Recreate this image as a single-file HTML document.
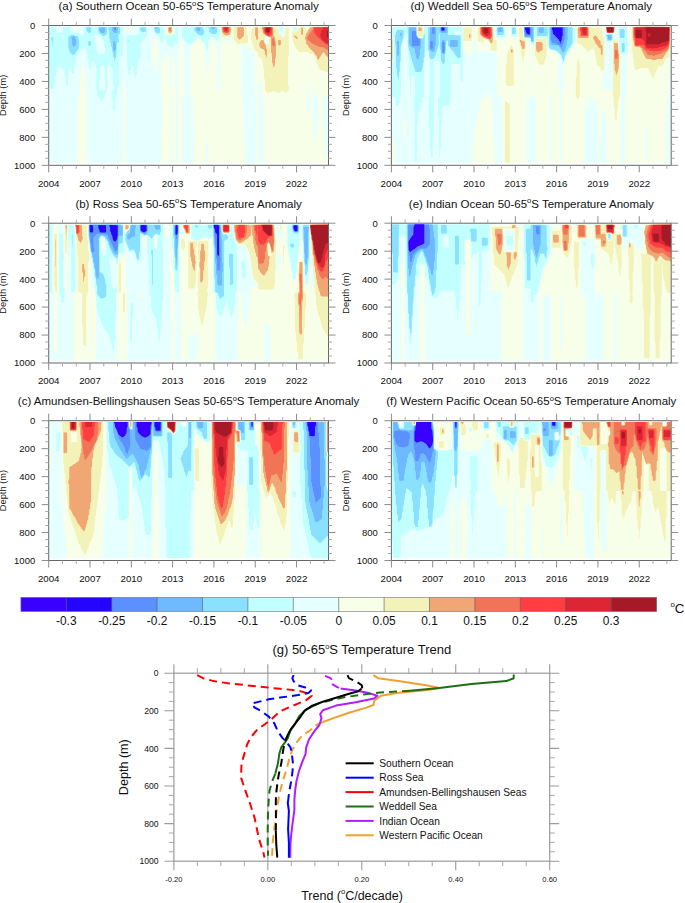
<!DOCTYPE html><html><head><meta charset="utf-8"><style>html,body{margin:0;padding:0;background:#fff;}svg{display:block;}text{font-family:"Liberation Sans", sans-serif;fill:#111;}</style></head><body>
<svg width="685" height="903" viewBox="0 0 685 903">
<rect width="685" height="903" fill="#fff"/>
<g transform="translate(48.70 25.50)">
<clipPath id="cpa"><rect x="0" y="1.3" width="279.80" height="136.2"/></clipPath>
<g clip-path="url(#cpa)">
<rect x="0" y="0" width="279.80" height="139.80" fill="#E6FFFF"/>
<path fill="#C2FFFF" d="M1 0.6l20-0.1l4 0.5l-3 0.5l-0.4 0.5l0 2l1.8 2l0.2 1l0.4 0.4l4 0.1l1-0.1l1-0.8l0.6 1.4l2.4 2.3l2.4-2.3l0-6l-0.4-0.5l-8-0.5l11-0.6l29-0.2l3 0.1l1.9 1.1l2 0.2l0.5 1.4l0 26l-0.5 1.3l-3 0.3l-0.3 0.4l-0.2 26.9l0 1l-0.9 1l-0.1 2l-0.9 1l-0.1 5l-0.7 1l-0.1 2l-0.9 1l-0.2 1l-0.1 12l-1.4 1.2l-0.5-1.2l-0.1-9l-0.9-1l-0.1-7l-0.9-1l0-1l0.1-1l2.4-0.6l0.5-1.4l-0.1-2l-0.9-1l0-1l-0.1-14l-0.9-1l-0.1-2l-2.4-2.4l-1 0.1l-0.6 2.3l-0.8 1l-0.2 19l-0.4 2.3l-1.4-2.3l-0.1-1l-0.1-18l-0.8-1l-0.3-2l-1.3-0.4l-2.4 2.4l-0.1 2l0 10l-1 3l0.1 7l1.4 0.5l5 0l0.4 0.5l0 1l-0.8 1l-0.2 2l-0.8 1l-0.2 2l-1.9 3l-0.5 2.2l-1.4-2.2l-0.2-2l-1.4-1.5l-1.4-0.5l-0.2-7l-0.8-1l-0.1-1l0-19l-0.1-1l-0.8-1l-0.2-3l-1.4-2.3l-1.4 0.3l-1 2l-0.2 4l-1.2 2l-0.5 0l-0.3-4l-0.8-1l-0.2-5.9l-0.8-1l-0.2-4l-0.8-1l-0.2-3l-2.4-2.3l-5 4.8l-1.4 2.5l-0.2 2l-0.8 1l-0.2 3l-0.8 0.9l-0.2 3l-0.8 1l-0.2 7l-1.4 1.3l-0.3-0.3l-1.1-2l-0.2-4l-1.4-1.2l-0.3 0.2l-0.3 3l-0.8 1l-0.1 1l-0.1 14l-0.4 0.4l-1.4-0.4l-0.2-7l-0.8-1l-0.2-3l-0.8-1l-0.2-3l-1-2l-2.4-1.4l-2 0l-1.4 1.4l-0.2 3l-0.8 1l-0.2 3l-0.8 1l-0.2 7l-0.8 1l-0.2 3l-1.4 2.3l-1-0.8l-1.4-1.5l-0.2-2l-0.8-1l-0.1-1l0.1-56.9zM7.6 2l0 3l1.4 2.4l4 0l0.6-1.4l0.8-1l0.1-1l-0.5-2.5l-6 0zM13.6 10l0 4l0.4 0.4l1.4-0.4l0-4l-1.4-0.4zM46.6 10l0 7l0.8 1l0.2 6l0.8 1l0.2 2l1.4 1.4l3 0.2l1 0.6l1.4-1.2l1-2l0.1-2l-0.1-2l-0.8-1l-0.2-6l-1.8-2l-1.6-2.8l-2-0.6l-3 0zM106.9 0.7l7 0.9l1.4 2.4l0 9l-0.8 1l-0.3 4l-0.5 0l-2.2-4l-0.2-2l-1-2l-2.4-0.6l-2.4-2.4l-1-5l1.7-1zM139.9 0.6l26-0.3l5 0.2l0.7 0.5l0.1 7l-1.2 3l-0.2 2l-1 2l-1.4 0.4l-1-1.9l-1.5-0.5l-1.5-1.4l-2 0l-1.4 1.4l-1 2l-0.1 8l-0.5 2.2l-1-0.8l-0.4-0.4l-0.2-4l-1-2l-5.4-5.5l-2-0.8l-0.7 1.3l-4.3 4.3l-2 1.1l-2 0l-4-2.9l-2.4-4.5l0-9l0.4-0.4l5-0.2l0.5-0.4zM90.9 1.5l1-0.4l5 0l1.5 0.9l-0.1 9l-3.8 3l-3 6l0 3l0.8 1l0.1 1l-0.1 6l-2.8 4.9l-0.2 5l-0.8 1l-0.2 6l-0.8 1l-0.3 5l-0.5 0l-0.2-4l-1-1l-0.1-5l-0.1-2l-1.1-2l-0.3-0.2l-1 0.8l-0.4 0.4l-0.2 3l-0.8 1l-0.3 5l-0.3 0.3l-1.4-1.3l-0.2-7l-0.8-1l-0.1-1l0-18.9l-1-3l0.1-7l1.4-1.4l10-0.2l1.4-2.4l0.1-5zM126.9 1.6l2 0l0.4 0.4l-0.1 16l-1.3 0.4l-1-1.9l-1 0l-0.6 2.5l-1.4 2.4l-3 0l-1.4-1.4l-1-2l-0.2-4l-0.8-1l0-3l1.4-0.4l4 0.4l3-1.5l0.4-0.5l0.2-6zM230.8 1.8l3.3 0.2l0.2 2l-0.5 1.4l-2 0l-1.3-2.4l0.2-1zM244.8 2l2-0.3l1 0.3l0 2.2l-0.8 0.8l-2.2-1l0-2zM99.9 22.7l0.4 1.3l0 8l0.1 1l0.8 1l-0.3 0.2l-1.3-0.2l0.1-11z"/>
<path fill="#8AE1FF" d="M65 0.9l5 0.5l1.3 0.6l0.1 1l-0.1 5l-1.8 1l0 4l0.7 1l0 3l-1.2-0.5l-1.1 3.5l-0.5 12l-1 1l-0.1 2l-0.1 0.9l-0.5 0l-0.3-3.9l-0.9-1l-0.2-4l-0.8-1l-0.2-4l-0.8-1l-0.1-3l-0.9-1l-0.1-3l-0.8-1l-0.2-8l-0.9-1l-0.1-1l0.6-1.3l4.6-0.7zM38 1.7l3-0.1l1.4 0.4l0 4l-0.9 1l-1.5 0.4l-2.4-2.4l0-3zM50 1.5l1-0.3l5 0l2.4 0.8l0 6l-1.4 1.4l-2 1l-1 0l-2-1.8l-1.4-0.6l-1.2-4l0.1-2zM91.9 1.8l5.3 0.2l0.1 3l-0.9 1l-0.5 0.4l-2 0l-2-1l-0.4-1.4l0.2-2zM105.9 1.8l2-0.4l3.3 0.6l0.1 5l-1.4 0.6l-1 0.6l-2-1.7l-1.2-2.5l-0.1-2zM145.9 1.7l5-0.6l3.4 0.9l0.2 2l0.8 1l0.1 2l-0.1 1l-1.4 1.5l-1 0.8l-1-0.7l-2.5-0.6l-3.9-4l0-3zM159.9 1.8l4-0.7l4 0.6l0.4 0.3l0.1 4l-0.1 1l-0.9 1l-0.5 0.4l-3 0l-2-1l-1.4-1.4l-0.2-3l-0.7-1zM22 9.6l3-0.1l2 0.9l2 0.2l0.4 0.4l0.2 3l0.8 1l0 7l-3.9 6l-1.5 1.4l-1.5-0.4l-1.9-2l-1-2l-0.2-2l-0.8-1l0-11l1.9-1zM3 11.6l1 0l0.5 1.4l-0.1 7l-0.4 1.2l-0.5-6.2l-0.9-1l0-2zM79.9 13.7l0.4 1.3l-0.4 1.2l-0.2-2.2zM40 15.6l1 0l1.4 1.4l0 2l-0.9 1l-0.5 0.4l-1.4-0.4l0-4z"/>
<path fill="#6EB9FF" d="M51 1.9l5.2 0.1l0.2 4l-1 1l-0.4 0.4l-2 0l-1-0.9l-1.2-1.5l-0.1-3zM64 1.8l3-0.4l2 0.6l-0.2 5l-1.8 0.5l-1.5-0.5l-2-2l0.1-3zM106.9 1.9l2.2 0.1l-0.7 1l-1.5 0.4l-0.2-1.4zM147.9 1.9l4.1 0.1l-0.7 3l-0.4 0.4l-2 0l-1.4-2.4l0.1-1zM162.9 1.9l3.3 0.1l-0.3 1.4l-3 0l-0.3-1.4zM25 10.7l1.3 0.3l0.3 2l0.8 1l0.1 3l-0.1 2l-2.4 2.2l-1.4-2.2l-0.2-5l-0.8-1l0-1l1.9-1zM65 15.6l1.3 0.4l0.2 2l0.8 1l-0.2 5l-0.7 1l-0.3 2l-0.3 0l-0.3-2l-0.9-1l0-8z"/>
<path fill="#5A91FF" d="M65 2l2.2 0l0.1 2l-0.3 0.4l-1.4-0.4l-0.8-2z"/>
<path fill="#F8FFE8" d="M119.9 0.7l2-0.2l2 0.6l0.8 0.9l-0.1 6l-1.7 1.5l-2 0l-2.8-1.5l0-6l1.4-1zM172.9 0.2l10 0l0.9 0.8l0.1 0.7l0-0.7l1-0.8l1 0l12 0l1 1l1 0.3l3 0l1-0.3l1-1l1-0.1l3.9 0.1l2 0.9l4-0.8l5-0.1l4 0.8l4 0.1l0.9 0.9l0.1 2l0.7 1l0.3 3l3 3l1 0l1-1l0.2-7l0.8-1.5l1-0.4l6 0.6l0.2 2.3l1.8 1.4l1 0.1l1.4-0.5l0.3-3l1.3-0.9l3-0.4l7 0.3l6-0.7l14-0.1l0 71.2l-5 0.1l-0.4 0.4l-0.1 2l0 28l1 3l0 23.9l0.5 1.4l4 0.1l0 9.5l-64.5 0l0-4l-0.9-1l-0.1-1l0-60.9l-0.1-1l-1.8-1l-0.1-13l-0.5-1.4l-1-0.1l-1 0.1l-0.5 1.4l0.1 81.9l-3 0l0-7l0.9-1l0.1-1l0-57.9l-0.5-1.5l-0.6-1.5l-0.1-43.9l-1.2-2l-0.1-1.6l-1 6.8l-0.5-1.2l-3-3l-0.1-1l-1.8-2l-1.4-3l-5.3 0l0.6 2l0 41.9l0.1 1l0.8 1l0.2 9l0.8 1l0.1 1l0 22l1 3l0 21.9l1 3l0 14l-51 0l0-37.9l-1-3l0-26l-0.1-1l-2.4-0.6l-0.5-1.4l0.1-45.9l3.1-6l4.3-4.3l2 0l3.3 3.3l0.3 3l0.8 1l0.2 3l0.8 1l0.2 7l0.8 1l0.1 1l0.1 7.9l0.9 1l0.5 7.3l0.4-1.3l0.2-10l0.8-1l0.1-1l0-10.9l0.9-2l0.2-4l0.8-1l0.2-4l3.4-0.9l0.6 4.9l0.8 1l0.2 4l0.8 1l0.1 1l0 36.9l0.5 1.4l2 0l0.5-1.4l0-45.9l1-3l-0.1-13zM183.9 7l-1 1l-0.2 4l-0.8 1l-0.3 2l-0.7 0.9l-0.8-0.9l-0.3-3l-2.9 0l-0.5 1l0.5 1.4l0.6 1.6l1.4 1.4l2-0.2l2-1.7l0.5-2.5l0.8-1l-0.3-5.4zM216.7 12l0.1 4l1 2l1 0.7l1.1-0.7l-0.1-5.4l-1-0.9l-2-0.4zM264.4 60.9l-0.1 48.9l0.1 1l1.4 0.5l2-0.1l0.5-1.4l0-13.9l1-3l0-21l-3-1l-0.1-10l-1.4-0.4zM258.4 62.9l0 21l1.4 1.4l1 0.1l1.4-0.5l0.1-1l0-6l0.1-1l0.9-1l0-4l-3-1l-0.1-8l-1.4-0.4zM157.5 115.8l-0.1 14l-0.1 1l-0.8 1l-0.1 3l0.5 1.4l2 0l0.5-1.4l0-18l-0.5-1.4l-1 0zM24 1.8l4.3 0.2l0.2 2l-0.5 1.4l-3 0l-1.4-2.4l0.1-1zM76.9 1.6l3-0.5l2 0.6l0.3 0.3l-0.9 3l-0.4 0.4l-2 0l-2-1l-0.3-0.4l0-2zM51 10.8l1 0.2l0 2.4l-1.4-0.4l0-2zM107.9 11.7l0.6 2.3l0.8 1l0.2 8l0.8 1l0.1 1l0 6l-0.1 1l-0.8 1l-0.1 5.9l-0.1 1l-0.8 1l-0.2 5l-0.9 1l-0.2 2l-0.5 0l-0.4-4l-0.8-1l-0.2-5l-0.8-1l-0.2-5.9l-0.8-1l-0.1-7l0.1-1l0.8-1l0.2-6l1-2l2.1-2zM131.9 15.6l1.4 0.4l1 2l0.2 6l0.8 1l0.1 1l0 43.9l-0.1 1l-1.8 1l-0.1 1l0 66.9l-0.5 0l-3.5 0l0-111.8l0.1-1l0.8-1l0.3-9l0.8-1zM116.9 27.6l1.4 0.4l2 4l0.1 30.9l0.5 1.4l1 0.1l0.5-1.5l0-25l0.1-1l0.8-1l0.1-4.9l0.5-1.3l1 0.8l0.6 2.5l0.8 1l0.1 28.9l1 3l0 73.9l-3 0l0-35.9l0-31l-0.5-1.4l-1-0.1l-0.4 0.5l-0.1 67.9l-10 0l0-33l0.1-1l0.8-1l0.1-1.9l0-30l-1-3l0-29l0.1-1l0.8-1l0.2-3.9l0.8-1l0.2-3l1.9-3zM34 36.7l1.4 1.2l0.2 5l0.8 1l0.1 19l1.1 3l-0.1 60.9l1 3l0 10l-6.5 0l-4.5 0l0-7l1-3l0-46.9l0.1-1l0.8-1l0.2-5l0.8-1l0.1-4l0.7-1l0.3-19l0.1-1l0.8-1l0.2-6l0.8-1l0.3-5zM75.9 53.7l0.4 1.2l0.2 9l0.9 1l0.2 6l-0.2 68.9l-3.5 0l-0.5 0l0-2l1-3l0-58.9l1-3l0-1l-0.9-1l-0.1-9l0.1-1l1-1l0.2-6z"/>
<path fill="#F3F2B8" d="M172.9 0.9l5-0.4l5 0.5l0.2 5l-0.9 2l-0.3 4l-1 1l-0.2-1l-0.8-0.8l-3 0l-1 1l-1 0.2l-2-2.3l-0.5-8.1l0.4-1zM185.9 0.8l12 0.2l0.5 2l0 6l0.9 1l0.1 6l-0.5 1.4l-1.9 0.6l-8.1 0.4l-2.4-2.4l-1-2l-0.1-3l-0.7-1l0.2-9zM205.9 0.8l3.9 0l1 0.9l1 0.1l5-1.1l5 0l3 0.9l4 0.3l0.2 2.1l0.8 1l0.2 3l3.8 3.8l1 0l1.8-1.8l0.2-7l1-1.1l2.3 0.1l0.2 27l-1 3l0 26.9l0.1 1l0.8 1l0 4l-3.4 2.3l-3-2.6l-3 2.7l-1 0.1l-5-2l-1 0.1l-3 1.8l-2 0l-2.4-2.4l-0.1-10l-1-3l0-9l-0.9-1l-0.1-5l-0.9-1l-0.2-2.9l-1.4-0.6l-2.4-2.4l-0.3-3l-1.2-0.6l-2.1-2.4l-0.2-2l-0.8-1l-0.4-2l-0.9-1l-0.2-3l-0.9-1l-0.1-4l-0.7-1l0.7-1l0.1-2l0.9-1l0.2-2l1.4-2zM216.1 11l0 5l1 2l1.7 1.7l1-0.8l0.8-0.9l-0.2-6l-1.6-1.1l-2-0.4zM265.8 0.9l14-0.3l0 46.7l-1-0.8l-2-0.2l-1-0.8l-2-0.2l-3-1.9l-1.4-2.5l-0.2-2l-1.8-3l-0.2-1.9l-0.8-1l-1.2-3l-1.4-1.4l-2-0.2l-3-1.8l-5 0l-1 0.6l-2.5-1.2l-2.9-3l-2-4l-0.2-2l-0.8-1l-0.2-3l-0.8-1l-0.1-1l0.1-4l1.4-1.2l3 0.1l0.9-0.9l0.2-2l0.9-1.2l4-0.4l3.5 0.6l0.5 4.4l2.7-4.4l1.3-0.6l3.5-0.4zM78.9 1.8l1.3 0.2l-0.3 1.4l-1.3-0.4l0.1-1zM118.9 1.9l3-0.7l2.1 0.8l-0.1 6l-1 1l-1.9 0l-2.1-1.1l-0.1-5.9z"/>
<path fill="#F0A773" d="M175.9 0.9l3.6 0.1l2.6 1l0.1 4l-0.7 1l-0.4 2l-2.8 1l-2.4-0.6l-2.3-2.4l-0.8-5l1.1-0.9l1.2-0.1zM119.9 1.8l2-0.3l1.3 0.5l0 4l-0.8 1l-1.5 0.4l-1.3-1.4l0-4zM188.9 1.7l5-0.1l1.3 0.4l0.1 8l-2.4 2.5l-2 1.8l-1.4-1.3l-1-2l0-9zM206.9 1.7l2.4 0.3l0 11l-0.4 1.4l-1.4-0.4l-0.2-3l-0.9-1l0.1-8zM213.8 1.6l3-0.5l5 0l2.8 0.9l0.1 8l1.6 2l1.1 7l-0.2 13l-0.8 1l-0.2 6.9l-0.9 1l-0.2 1l-0.5 0l-0.4-4l-0.8-1l-0.2-8.9l-0.8-1l-0.1-1l-0.2-14l-5.1-2l-2.1-2l-0.9-1l-0.1-3l-0.8-1l0-1zM252.8 1.9l1.3 0.1l0.2 1l0 5l-0.5 1.4l-1.4-0.4l0.1-7zM261.8 1.9l4-0.6l14-0.3l0 31.4l-3.4-3.4l-0.6-1.5l-1-0.8l-1 0.8l-4 6.7l-1.4-1.2l-0.2-2l-1.8-2l-0.2-1l-6.4-6.5l-0.6-1.5l-1.8-2l-0.2-3l-0.8-1l0-3l0.8-1l0.2-2l1.2-1l1.2-3l1.8-2zM245.8 9.7l2.4 1.3l0.9 2l-0.3 0.2l-1 0.2l-1-0.9l-1.4-1.5l0.2-1zM212.8 14.6l2 0l0.6 2.4l1.8 3l0.2 3l0.9 1l0 1l-0.2 7l-0.5 0l-0.1-1l-0.1-1l-1-1l-0.1-3l-1.1-2l-3.4-1.6l-1.3-2.4l0-2l1.9-3zM229.8 14.6l2 0l0.4 0.4l0 4l-1 1l-0.4 0.3l-1.4-1.3l0-4z"/>
<path fill="#F27457" d="M120.9 1.9l1.2 0.1l0.2 2l-0.4 1.4l-1.3-0.4l0.1-3zM173.9 1.6l5-0.3l1.7 0.7l0.1 4l-0.9 1l-0.9 0.8l-1 0l-3-1l-0.7-0.8l-0.3-3l-0.5-1zM214.8 1.9l2-0.5l4 0l3.1 0.6l0.1 7l-0.1 1l-1.1 1.1l-3-0.1l-3.2-2l-1.8-2l-0.3-3l-0.7-1l0.2-1zM264.8 1.7l15-0.4l0 23.2l-1-0.1l-3-1.8l-2-1l-3-0.2l-8-4l-2-1.8l-1.4-0.6l-1-2l0-1l1-2l1.8-2l0.2-1l2.7-3l0.1-2zM223.8 12.6l1.4 0.4l0.1 2l0.7 1l0.2 4l-1 1l-0.6 0l-1.1-2l0-6z"/>
<path fill="#FF3E42" d="M174.9 1.9l3-0.3l2.1 0.4l-0.1 4l-1 1l-2 0l-2-1l-0.6-4zM215.8 1.9l5-0.3l2.3 0.4l0 6l-1.3 1.5l-1 0.8l-1-0.1l-2-1l-1.2-1.2l-1.2-2l0.1-4zM265.8 1.9l14-0.3l0 18l-3-1.1l-9.4-8.5l-0.2-1l-1.8-2l-0.2-5z"/>
<path fill="#DC2633" d="M175.9 1.9l3.1 0.1l0.2 1l-0.9 2l-1.4 0.4l-1-0.9l-0.2-2.5zM216.8 1.9l5.3 0.1l0.1 2l-1.4 3.5l-1 0.9l-1-0.1l-2-1.7l-0.5-1.6l0.3-3zM275.8 1.9l4 0l0 16.5l-3-1.1l-3.3-3.3l-2.1-4l0-1l0.8-1l0.2-3l3-3z"/>
<path fill="#A61A28" d="M217.8 2.4l3 0l0.6 0.6l-0.7 1l-0.2 2l-0.7 0.7l-2-0.1l-0.6-0.6l0-3zM278.8 5.3l1-0.1l0 7.5l-1.7-1.7l0-5z"/>
</g>
<rect x="0" y="0" width="279.80" height="139.80" fill="none" stroke="#666" stroke-width="1"/>
<path d="M0.00 139.80v7M0.00 0v-7M41.31 139.80v7M41.31 0v-7M82.62 139.80v7M82.62 0v-7M123.93 139.80v7M123.93 0v-7M165.24 139.80v7M165.24 0v-7M206.55 139.80v7M206.55 0v-7M247.86 139.80v7M247.86 0v-7M0 0.00h-7M279.80 0.00h7M0 27.96h-7M279.80 27.96h7M0 55.92h-7M279.80 55.92h7M0 83.88h-7M279.80 83.88h7M0 111.84h-7M279.80 111.84h7M0 139.80h-7M279.80 139.80h7" stroke="#8c8c8c" stroke-width="1" fill="none"/>
<path d="M13.77 139.80v3.5M13.77 0v-3.5M27.54 139.80v3.5M27.54 0v-3.5M55.08 139.80v3.5M55.08 0v-3.5M68.85 139.80v3.5M68.85 0v-3.5M96.39 139.80v3.5M96.39 0v-3.5M110.16 139.80v3.5M110.16 0v-3.5M137.70 139.80v3.5M137.70 0v-3.5M151.47 139.80v3.5M151.47 0v-3.5M179.01 139.80v3.5M179.01 0v-3.5M192.78 139.80v3.5M192.78 0v-3.5M220.32 139.80v3.5M220.32 0v-3.5M234.09 139.80v3.5M234.09 0v-3.5M261.63 139.80v3.5M261.63 0v-3.5M275.40 139.80v3.5M275.40 0v-3.5M0 6.99h-3.5M279.80 6.99h3.5M0 13.98h-3.5M279.80 13.98h3.5M0 20.97h-3.5M279.80 20.97h3.5M0 34.95h-3.5M279.80 34.95h3.5M0 41.94h-3.5M279.80 41.94h3.5M0 48.93h-3.5M279.80 48.93h3.5M0 62.91h-3.5M279.80 62.91h3.5M0 69.90h-3.5M279.80 69.90h3.5M0 76.89h-3.5M279.80 76.89h3.5M0 90.87h-3.5M279.80 90.87h3.5M0 97.86h-3.5M279.80 97.86h3.5M0 104.85h-3.5M279.80 104.85h3.5M0 118.83h-3.5M279.80 118.83h3.5M0 125.82h-3.5M279.80 125.82h3.5M0 132.81h-3.5M279.80 132.81h3.5" stroke="#a8a8a8" stroke-width="1" fill="none"/>
<text x="0.00" y="161.00" text-anchor="middle" font-size="9.7">2004</text>
<text x="41.31" y="161.00" text-anchor="middle" font-size="9.7">2007</text>
<text x="82.62" y="161.00" text-anchor="middle" font-size="9.7">2010</text>
<text x="123.93" y="161.00" text-anchor="middle" font-size="9.7">2013</text>
<text x="165.24" y="161.00" text-anchor="middle" font-size="9.7">2016</text>
<text x="206.55" y="161.00" text-anchor="middle" font-size="9.7">2019</text>
<text x="247.86" y="161.00" text-anchor="middle" font-size="9.7">2022</text>
<text x="-13.5" y="3.40" text-anchor="end" font-size="9.5">0</text>
<text x="-13.5" y="31.36" text-anchor="end" font-size="9.5">200</text>
<text x="-13.5" y="59.32" text-anchor="end" font-size="9.5">400</text>
<text x="-13.5" y="87.28" text-anchor="end" font-size="9.5">600</text>
<text x="-13.5" y="115.24" text-anchor="end" font-size="9.5">800</text>
<text x="-13.5" y="143.20" text-anchor="end" font-size="9.5">1000</text>
<text transform="translate(-42.4 69.90) rotate(-90)" text-anchor="middle" font-size="9.3">Depth (m)</text>
<text x="139.90" y="-15.5" text-anchor="middle" font-size="11.5">(a) Southern Ocean 50-65<tspan font-size="7.5" dy="-4.4">o</tspan><tspan dy="4.4">S Temperature Anomaly</tspan></text>
</g>
<g transform="translate(48.70 223.20)">
<clipPath id="cpb"><rect x="0" y="1.3" width="279.80" height="136.2"/></clipPath>
<g clip-path="url(#cpb)">
<rect x="0" y="0" width="279.80" height="139.80" fill="#E6FFFF"/>
<path fill="#C2FFFF" d="M41 0.3l29 0l1.6 0.7l2.3 0.1l0.8 0.9l0.2 11l0.6 1l-0.7 3l0 3l0.6 2l0 7l-0.5 1l-4 0.1l-0.9 0.4l-1 9l-1 0.9l-0.5-0.5l-0.2-4l-1.7-1.9l-0.6-0.3l-1 0.7l-3 0.2l-0.5 1.3l0.1 4l0.8 1l0.1 1l0 11l0.9 1l0.1 6l0.9 1l0.2 4l0.4 0.4l3 0l1-3.9l0.5 0.5l0.1 1l0.1 5l-0.3 1l-1.2 1l0 1l0.2 25l-0.1 1l-0.8 1l0 6l0 12.9l-0.1 1l-0.9 1l-0.2 11l-0.3 1.2l-0.5-3.2l-1-1l-0.1-4l-0.9-1l-0.1-3l-0.9-1l-0.1-4l-2-4l-2.8-3l-0.2-1l-1.8-1.9l-2-4l-0.2-2l-2.8-5l-0.2-2l-0.8-1l-0.1-5l-0.8-2l0-10l-0.9-2l-0.5-13l-0.7-1l-0.4-8l-0.6-1l-0.4-5l-0.6-1l-0.4-6l-0.8-1.9l-0.1-3l-0.7-2l-1.2-12l-0.6-1l-0.3-9l0.2-5l0.5-1zM53 13l-1 0.9l-0.5 2.1l0.2 9l0.6 1l0.3 2l1.8 3l0.3 2l0.3 0.2l1-0.7l1.4-1.5l0-12l-0.8-1l-0.8-3l-2.8-2zM82.9 0.8l7 0.4l3-0.8l6 0l3 0.7l8-0.4l4.3 1.3l0.4 65.9l-0.3 9l-0.8 1l-0.1 1l0 12l-1 3l0 10.9l-0.1 1l-0.8 1l-0.2 11l-0.1 1l-0.5 0l-0.3-3l-0.9-1l-0.1-7l-0.1-1l-0.8-1l-0.2-6.9l-0.8-1l-0.2-3l-0.8-1l-4-8l-0.1-11l-0.1-1l-0.8-1l-0.2-9l-0.7-2l-0.2-17l-1-3l0-11.9l-1-3l0-14l-0.5-0.7l-2 0.5l-2-1.1l-1.3 0.3l-0.3 20l-0.6 1l-0.2 3.9l-1.6 1.5l-1 0l-1.5-2.5l-0.5-2.9l-1.6-4l-1.4-0.5l-1 0.1l-1 0.8l-1-0.1l-1.5-2.3l-3.4-10l0-4l-1-1l0-3l1.9-0.5l3-1.9l0.6-0.6l0.9-4l0.5-0.9l0.6-0.1zM105.3 13l-0.2 10l1.8 2.7l1-0.8l0.8-0.9l0-11l-0.8-0.8l-2 0.1zM125.9 0.6l3-0.2l1.9 1.6l0.1 1l-0.8 23l0.3 3l-0.1 38.9l-0.4 1.4l-2 0.1l-1.1-0.5l-0.4-7l-0.7-1l-0.1-14l-0.9-2l-0.1-17.9l-0.7-1l-0.5-2l-0.1-21l0.1-1l1.7-1zM164.9 0.5l5-0.2l3 0.9l0.2 6.8l1.8 2.7l6 0.3l1-1l0.2-8l0.8-0.5l1 0.5l0 4l1.6 9l2.8 8l0 44.9l-0.1 1l-1.6 1l-0.2 1l0 7l-0.1 1l-0.8 1l-0.2 6l-0.8 1l-0.2 3l-0.8 1l-0.2 2l-1.4 1.2l-0.3-0.2l-0.3-4l-0.8-1l-0.2-3l-0.8-1l-0.2-4l-0.9-1l-0.5-2.2l-3.5 10.2l-0.1 1l-0.8 1l-0.2 2l-0.9 1l-0.3 2l-0.5 0l-0.2-2l-1.9-3l-0.2-2l-0.8-1l-0.2-2l-0.8-1l-0.1-13l-0.3-1l-2.2-1l-0.2-1l-0.1-43.9l-0.7-14.9l-1 3.9l-3 2.7l-3-2.5l-2-1l-2.8 2.8l-0.2 1l-3 1.6l-5-1.6l-1-1l-0.2-1l-0.3-12l0.5-0.5l5-0.4l9 0.4l7.3-0.5zM244.8 0.6l4 0l3 1.4l0.2 1l0 4l-1 3l0 12l-0.2 1l-0.8 1l-0.2 6l-0.8 1l-0.2 6.9l-0.8 1l0 8l-0.2 1l-0.8 1l0 6l-0.2 0.9l-1 0.3l-1-0.2l-1-1l-0.2-7l-0.8-1l-0.1-1l-0.1-6l-0.8-1l-0.2-3.9l-0.8-1l-0.1-1l-0.1-3l-0.8-1l-0.2-6l-0.8-1l-0.1-1l0.1-19l5.3-1zM1 1.6l2 0l0.4 1.4l0 59.9l-0.4 6.4l-2 0l-0.5-1.4l0-45.9l-0.4-2l0-9l0.5-9zM20 1.7l5-0.2l1 3.5l0.5 51.9l-0.4 11l-0.2 1l-2.9 0.3l-0.5-0.3l0-15l-0.1-36.9l-0.4-1.4l-1.5 0.4l-0.1 17l-0.2 1l-0.3 0l0-32zM253.8 1.7l1-0.5l5-0.1l0.8 0.9l0.4 3l-0.1 3l0.7 5l0 5l-0.6 3l0.1 14.9l-0.3 3l-0.7 1l-0.1 13l-0.2 1l-0.8 1l0 5l-0.3 1l-1.9-0.1l-0.2-6.9l-0.8-1l-0.1-1l-0.2-10l-0.9-5l-0.1-17.9l-0.9-3l0-14zM11 10.6l3 0l0.4 1.4l0 15l0.4 3l-0.3 32.9l0.1 1l1.4 1.1l-0.6 2.9l0 11l-1.4 0.5l-1.4-0.5l-0.2-8l-1.8-2l0-1l0.1-56.9zM192.9 38.6l3 0l0.3 0.3l0.3 4l0.8 1l0.1 1l0 8l-0.5 1.4l-3 0l-0.4-0.4l-0.2-8l-0.8-1l-0.1-1l0.1-5zM81.9 79.5l2 0l0.5 1.4l0 10l-1 3l-0.2 29.9l-0.5 0l-0.2-5l-1-1l-0.1-1l0.2-36.9z"/>
<path fill="#8AE1FF" d="M42 0.9l28 0l4.3 1.1l-0.2 17l-0.2 1l-3 0.5l-0.9 1.1l-0.3 8.4l-0.7 5.3l-1 0l-3.5-3.3l-4-8l-0.3-2l-0.8-1l-0.2-2l-1-2l-2.5-3l-2.7-1.7l-1.4 0.7l-0.9 3l0.1 19.9l0.1 13l2.1 0.6l1.4 1.4l1 2l0.2 2l0.8 1l0.2 4l0.8 1l0.1 1l0 10l-0.1 1l-1.4 1.4l-2 1l-2 0l-3.4-4.4l-0.2-8l-0.8-1l-0.2-5l-0.6-3l-0.6-1l-0.2-6.5l-0.8-1.5l-0.2-4l-0.9-2l-0.1-3.5l-0.9-1.4l0-3l-1.1-2.8l-1.2-11.2l-0.7-2l-0.3-7l0.3-6l1-1zM165.9 0.7l4 0.2l2.8 1.1l0.2 6l0.8 2l1.2 1.2l3 0.2l1.4 1.6l0 3l-2.4 0.6l-1.4 1.4l-0.1 1l-0.1 53.9l-1.4 0.6l-2 1.8l-1 0l-0.6-2.4l-0.8-1l-0.1-2l-2.8-1l-0.2-1l0-11l-0.9-3l-0.1-28.9l-0.6-3l-0.4-16l-0.5-3l0-1l1.4-1zM81.9 1.6l5-0.2l3 0.9l2-1.2l6 0l4 0.7l9-0.4l1.4 0.6l0 6l-0.8 1l-0.6 3.2l-3-1.6l-1 0l-2.5 2.4l-0.5 1.5l-1 0.8l-4-3.5l-2-0.2l-1 0.7l-3-2.3l-1-0.1l-0.5 1.1l0 2l-0.1 14l-0.1 1l-0.7 1l-0.4 7.9l-1.5-1l-0.8-1.9l-0.4-3l-1.5-3.5l-1-0.9l-1-0.1l-1 0.1l-1 0.8l-1-0.1l-4.1-10.3l-0.2-5l2.1-4l2.1-2l0.9-4zM124.9 1.7l2-0.6l2 0l1.4 0.9l0.1 7l-1.1 17l0.1 12.9l-1 8l-0.2 1l-0.5 0l-1.3-3l-0.1-9l-1-9.9l0-10l-0.9-4l0.1-10zM146.9 1.8l2.3 0.2l0.1 2l-0.4 0.4l-2 0l-0.4-0.4l0.1-2zM158.9 1.9l4.4 0.1l0.3 1l-0.7 2.2l-3 0.2l-1.2-3.4zM243.8 1.7l1-0.5l4 0l1.5 0.8l0.1 6l-1.2 2l-0.4 0.4l-3 0l-1.4-1.4l-1.2-5l0.1-2zM254.8 1.9l5-0.1l0.9 3.2l-0.4 3l0 26l-0.2 1.9l-0.6 1l-0.4 10l-0.7 1l-0.1 3l-0.5 1.3l-1.3-1.3l-0.1-8l-1-5l-0.4-18.9l-0.6-3l-0.4-11l0.6-3zM1 9.9l0.3 2.1l-0.3 8.1l-0.1-10.1zM24 10.8l0.4 1.2l0 11l-0.4 2.2l-0.3-14.2zM241.8 20.6l3 0l0.4 0.4l0 3l-0.4 0.4l-2 0l-1-1l-0.4-0.4l0-2zM102.9 26.6l1 0l0.5 1.4l-0.1 32.9l-0.4 1.2l-0.4-1.2l0-27.9l-0.1-1l-0.9-1l0-4zM14 28.8l0 9.3l-0.3-1.2l0.1-7.9zM180.9 30.6l3 0l0.5 1.4l0 27.9l-0.1 1l-1.4 0.6l-1 0.7l-0.5-1.3l0-15l-1-3l0.1-11.9z"/>
<path fill="#6EB9FF" d="M41 1.3l28 0l4.2 0.7l0.7 0.8l0 9.8l-3-0.1l-1.1 0.5l-0.7 17l-0.2 1l-0.9 0.5l-1-0.1l-2.4-2.4l-3.9-8l-0.3-2l-1.8-3l-0.6-2.4l-5-2.1l-1.9 1.5l-0.1 1l-0.8 1l-0.1 1l0.4 36.9l-1.1 3l-1.4 0.3l-0.3-2.3l-0.8-1l-0.2-7l-0.8-1l-0.2-5l-0.9-1l-0.1-3.9l-0.9-1l-0.2-4l-1.2-2l-2-16l0-10zM82.9 1.9l4.3 0.1l0.1 2l-0.8 1l-0.2 8l-2.4 0.6l-2.3 1.4l-0.7 1.4l-1 0l-1.4-1.4l-0.1-2l0.5-1.5l2.4-1.5l0.6-7l0.5-1zM90.9 1.9l1-0.5l5 0l2.3 0.6l-0.3 6l-0.7 3l-2.3 0.5l-4.1-2.5l-0.6-2l-0.3-5zM105.9 1.9l5.3 0.1l0.1 3l-0.4 1.4l-4 0l-0.6-2.4l-0.8-1l0.1-1zM125.9 1.8l3-0.4l0.9 0.6l0.1 1l-0.9 21l-0.7 2l-0.4 19.9l-0.4-10.9l-0.8-1l0-1l-0.2-17l-0.3-3l-0.9-2l0.2-9zM164.9 1.5l3-0.5l4.2 1l0.3 12l1 3l0 20.9l0.9 3l-0.1 7l-0.7 1l-0.1 1l-0.1 12l-0.4 0.4l-3 0l-1.4-1.4l-0.1-8l-0.1-1l-0.8-1l-0.3-10l-0.7-2l-0.1-12.9l-0.5-5l-0.5-1l-0.4-14l-0.7-4zM244.8 1.5l4 0l0.8 0.5l0.1 6l-0.9 0.9l-3 0l-0.8-0.9l-0.8-2l-0.2-4zM254.8 3.7l5-0.1l0.2 1.4l-0.8 4l0 24l0 1l-0.8 1l-0.3 5.9l-0.3 1.3l-1.3-2.3l-0.2-8.9l-0.7-2l-0.2-22l-0.7-3z"/>
<path fill="#5A91FF" d="M41 1.6l27 0l1.9 0.4l-1 24l-0.9 1.5l-1 0.7l-0.3-0.2l-5.7-11.5l-1.4-2.5l-0.2-2l-1.4-1.4l-10 0l-3.4 4.4l-0.1 8l0.1 1l0.8 1l0.1 2l-0.1 1l-1.4 1.2l-1.1-1.2l-0.4-7l-0.6-1l-0.4-7l-0.6-1l-0.3-10zM91.9 1.7l6.5 0.3l0 6l-0.5 0.7l-1 0.3l-1 0.8l-1 0l-3-2l-0.5-5.8zM126.9 1.7l2.4 0.3l0.1 7l-0.8 3l0 3l-0.7 0.7l-0.6-0.7l-0.4-3l-0.7-1l0.1-9zM164.9 1.8l2-0.5l3 0.3l1.3 0.4l0.2 1l-0.6 4l0 16l0.6 2l0.1 9l0.8 1.9l-0.1 1l-0.7 1l-0.1 7l-0.1 2l-0.4 0.4l-2 0l-0.3-0.4l-0.2-10l-0.1-1l-0.8-0.9l-0.1-9l-0.7-2l-0.3-10l-0.7-1l-0.2-7l-0.8-4zM244.8 1.8l4.3 0.2l0.2 5l-0.5 1.4l-2 0.1l-1.3-0.5l-1-2l0-4z"/>
<path fill="#2605FF" d="M41 1.9l3.2 0.1l0.3 6l-0.5 1.4l-2 0l-1-1.1l-0.1-6.3zM50 1.9l7.2 0.1l0.3 6l-0.5 1.3l-5 0l-1-0.8l-0.6-2.5l-0.8-1l0.1-3zM61 1.9l8 0.1l0 10l-0.8 4l-0.7 1l-0.5 1.4l-1 0l-1.5-1.4l-1.1-5l-0.9-1l-0.1-2l-0.9-1l-0.1-4l-0.8-1l0.1-1zM92.9 1.9l4.6 0.1l0.4 0.6l0 4.7l-1.9 1.7l-1.1 0l-2-1l-0.9-1l-0.1-4l0.4-1zM127.9 1.9l1 0.4l0.1 5.7l-0.1 1.9l-1 2l-1-0.9l-0.1-1l0-7l0.3-1zM165.9 1.6l4.2 0.4l0.2 1l0 28l-0.4 2.2l-1.4-2.2l0-1l-0.1-19l-1.9-2l0-2l-1.2-3l-0.2-2zM245.8 2l2.2 0l0.8 0.8l0 4.4l-1 0.8l-1.2 0l-0.8-0.7l-1-2.1l0-2.4l0.9-0.8z"/>
<path fill="#3A00FF" d="M165.9 1.8l2.6 0.2l0.1 3l-0.7 0.7l-1 0l-1-1l-0.3-2.7z"/>
<path fill="#F8FFE8" d="M17 0.7l1 0l1 0.7l0.2 1.6l0.2 64.9l-0.4 1.4l-1 0.1l-1-0.1l-0.4-1.4l-0.1-20l-0.9-3l-0.3-41.9l0.1-1l1.2-1zM27 0.5l11 0.6l1 0.3l0.2 0.6l0.2 14l0.6 1l0.2 5l0.8 3.2l0.5 5.8l0 20.9l1 3l0 8l0.5 1.4l2 0.1l0.8 0.5l0.4 7l0.8 2l0.5 18l0 47.9l-6.5 0l-16.5 0l0-61.9l-0.1-1l-0.8-1l-0.1-5l0.3-1l2.2-0.2l0.8-0.8l0.1-4l1.4-1l0.1-1l-0.1-7l-0.7-2l-0.1-30.9l-0.8-3l-0.3-15l-0.4-2l0.5-2zM76.9 0.8l3 0l1 0.5l0.1 1.7l-0.8 3l-1.3 1l-2 0.7l-1 0l-0.6-0.7l0-5l1.3-1zM134.9 1l1-0.5l4-0.1l1 0.6l0.9 2l0.3 12l1.8 1.7l4 0.9l1 1.8l0.5-1.4l2.5-1.2l0.8-0.8l0.2-1l2-1.7l2 0.7l3 2.7l3-2.8l0.6 1.1l0.4 9l0.1 43.9l0.1 1l0.8 0.8l1 0.2l0.4 1l0.1 68.9l-18 0l0-9l0.5-1.5l0.5-1.5l-0.1-16l-1.4-0.5l-8 0.1l-0.5 1.4l0 27l-7 0l0-68.9l-0.9-3l0-38.9l-0.8-3l0.1-14l0.1-1.2l2-0.2l1 0.8l1 0l1-1.2l0-1.7l-2.9-5.5l0-1l0.9-0.9l1-0.1zM174.9 0.5l5 0l1.7 1.5l-0.1 8l-0.6 0.6l-1 0.1l-5-0.3l-0.4-0.4l-1.2-3l0.1-5l0.8-1zM185.9 0.9l4-0.6l5 0l7 0.8l7.9-0.9l13 0.1l2 0.4l1.9 1.3l0 3l0.7 2l0.1 7l0.3 1.3l1 0.2l4-0.1l0.5-1.4l-0.2-6l-1.3-0.2l-0.8-0.8l-0.1-3l-0.9-1l0-1l0.8-0.9l1 0l6 0.6l0.2 20.3l0.8 1l0.2 6l0.8 1l0.2 4l0.8 1l0.2 0.9l0 3l0.8 1l0.2 7l0.8 1l0.2 1l0 6l1.8 1.8l2 0l0.8-0.8l0.1-6l0.1-1l0.8-1l0.1-8l0.9-2l0.1-5.9l0.1-1l0.8-1l0.2-6l0.8-1l0.1-13l0.1-1l1-1.4l0.2 9.4l0.9 2l0.1 17.9l0.7 2l0.3 3l0.1 11l0.9 2l0 6l0.8 0.8l1 0.1l1-0.1l0.8-0.8l0.2-6l0.8-1l0.1-13l0.1-1l0.9-1l-0.1-17.9l0.6-3l-1.3-16l0.9-1.6l1-0.1l17-0.1l0 113.6l0 26l-58.5 0l-0.1-37.9l-1.4-0.5l-4 0.1l-0.5 1.4l0 32.9l0.1 1l0.9 1l0 2l-27.9 0l0-35.9l1-3l0.1-36l0.4-0.4l1.3 0.4l0.2 4l1.9 3l0.1 13l1 3l0.1 9l0.8 1l0.2 3l0.8 1l0.6 3.2l1.4-1.2l0.1-8l0.1-1l0.8-1l0.1-9l0.1-1l0.8-1l0.1-8l0.1-1l0.8-1l0.3-8l1.3-0.5l6-0.3l0.1-2.2l-0.6-2l-4.3-3l-0.2-5l-0.8-1l-0.2-5l-0.8-1l-0.2-6l-0.8-1l-0.2-4.9l-0.7-1l-1.1-4l-0.8-1l-0.3-2l-2.1-3l-7-0.2l-1.5-1.8l-0.2-2l-0.8-1l-1.4-10l-0.6-1l0-4l0.5-0.7l0.8-0.3zM262.3 30l0 32.9l0.5 1.4l2.1-0.4l0.1-8l-0.2-1l-0.8-1l-0.2-9l-0.9-1l-0.1-14.5zM227.7 31l0 3l0.7 1.9l0.1 9l1.3 0.5l2.4-0.5l0-13.9l-1.4-0.5l-3 0.2zM5 1.6l4 0l0.5 1.4l0 64.9l-1 3l-0.1 58.9l-1.4 0.5l-1.4-0.5l-0.2-2l-0.8-1l-0.1-1l0.2-123.8zM115.9 1.6l3-0.1l1.4 0.5l0.2 5l0.8 1l0.1 1l-0.1 4l-0.4 0.4l-3 0l-0.4-0.4l-0.2-2l-0.8-1l-0.2-5l-0.7-1l0-2zM106.9 12.8l1 0.3l0.2 1.9l0 8l-0.2 1l-1 0.5l-1.1-2.5l0-8l0.4-1zM93.9 13.6l3 0l0.4 0.4l0 9l-1.4 1.5l-1 0.7l-0.2-0.2l-0.4-8l-0.7-1l0-2zM53 14.6l1.3 0.4l0.3 4l0.8 1l0 5l-1.1 1l-0.6 0l-0.3-3l-0.8-1l0.1-7zM121.9 25.6l1 0.2l1 1.2l0.1 1l0.1 17.9l0.9 2l0 13l0.4 3l0.5 1l0.5 6l0 68.9l-0.5 0l-3.5 0l0-68.9l-1-4l0.1-40.9zM70.9 30.8l6-0.2l0.5 1.4l0 30.9l1.1 3l-0.1 68.9l-0.5 1.4l-3 0.1l-5.9-0.1l-0.5-1.4l0-55.9l-0.6-2l0-6l1.4-2l0-28l0.7-8.9l0.6-1zM92.9 64.6l0.5 4.3l1 1l0 4l-0.5 1.4l-1.4-0.4l0.2-10z"/>
<path fill="#F3F2B8" d="M189.9 0.9l6 0l6 0.8l7.9-1.1l9 0l4 0.2l3.1 1.2l0.6 12l0.8 3l0 12l-0.4 3l0.3 13.9l-0.8 1l-0.1 1l-0.1 15l-0.9 1l-0.1 2l-2.4 0.5l-13-0.1l-0.3-0.4l0-6l-3.6-2.8l-1-0.3l-0.2-4.9l-0.9-1l-0.1-5l-0.9-1l-0.1-1l0-5l-0.9-1l-0.1-4.9l-3-8l-1-2l-1.8-1.8l-7-0.2l-2-4l-2-11l0-3.9l1-0.7l3.7-0.4zM219.4 21l-0.3 1l0.6 2l0.1 7.9l2.2 1.1l0.3-2l-0.5-4.7l-1-4.6l-1-1.4zM262.8 0.9l2-0.4l15 0l0 114.7l-0.4-0.4l-1.2-3l-1.8-2l-3-5.9l-0.2-2l-0.8-1l-0.2-3l-0.8-1l-1.2-5l-0.8-1l-0.2-3l-0.8-1l-0.2-4l-0.8-1l-0.2-9l-1-2l-0.6-16l-0.8-1l-0.2-9l-1-2l0-10.9l-0.2-3l-0.8-2l-0.2-14l-1.3-9l0-2l0.7-0.9l0.6-0.1zM17 1.4l1 0l0.6 0.6l0.1 1l-0.7 27.3l-1 0l-0.4-1.3l-0.4-27zM27 1.1l11 0.7l0.5 1.2l-0.1 10l0.9 5l0.3 9l0.6 1l0.2 8.9l-0.9 3l0 28l-0.1 1l-0.9 1l-0.1 3l-0.8 1l-0.1 1l0 44.9l-0.1 2l-0.4 0.4l-2 0l-0.5-1.4l0-16l-1-2.9l0-32l-0.5-0.4l-3-0.2l-0.5-1.4l0-33.9l-0.9-3l-0.3-15l-0.7-1l-0.7-5l-0.1-5l-0.6-3zM75.9 1.9l3-0.5l1.8 0.6l-0.8 3.7l-1 0.8l-2 0.7l-1-0.2l0-5zM133.9 1.6l3-0.5l4 0.4l0.5 3.5l-0.1 5l-0.4 0.7l-4 0l-0.6-2.7l-2.8-5l0-1zM173.9 1.6l2-0.5l4 0l1 0.4l0.4 2.5l-0.4 6.2l-6.1-0.2l-1.1-2l-0.1-6zM230.8 2l2.1 0l0.3 4l-0.4 1l-1-0.1l-0.2-2.9l-0.8-1l0-1zM6 10.6l2 0l0.4 1.4l0 55.9l-0.4 1.3l-1.4-0.3l-0.2-6l-0.7-1l-0.1-1l0.1-49.9zM133.9 15.6l1.4 0.4l0.2 2l0.8 1l0.1 1l-0.1 4l-0.8 1l-0.6 2.2l-1.4-1.2l-1-2l0-7l0.9-1zM139.9 17.6l7.3 0.4l0.7 0.6l0.6 2.4l-0.1 2l-0.9 1l-0.1 1l0.4 14.9l-0.4 18l-0.1 1l-0.8 1l-0.1 4l-0.5 1.4l-5 0.1l-1.4-0.5l0-46.9zM150.9 17.8l8-0.2l0.5 1.4l0 44.9l-0.1 1l-0.8 1l-0.1 2l0 1l0.9 1l0.1 2l-0.1 1l-0.8 1l-0.2 9l-0.8 1l-0.2 4l-0.8 1l-0.2 3l-0.8 1l-0.2 3l-0.8 1l-0.2 3l-1.2 2l-0.5 0l-0.3-4l-0.8-1l-0.2-4l-0.8-1l-0.2-4l-0.8-1l-0.1-13l-1-3l0.1-1l0.9-1l0-19l0.9-3l-0.3-4l0.2-5l-0.8-2l-0.1-13.9l0.1-2l0.8-2zM234.8 22.6l1 0l0.5 1.4l-1.1 3l-0.1 12.9l-0.5 0l-0.1-1l-0.1-15.9zM250.8 38.2l3 0.1l0.5 0.6l0.5 30l2.4 1l0.1 2l0 12l-1 3l0 17l-1 2.9l0 12l-1 3l-0.1 13l-1.4 1.4l-2 0.1l-1.4-0.5l-0.2-7l-0.8-1l-0.1-1l-0.1-8l-0.8-1l-0.1-1l-0.1-8l-0.8-1l-0.1-1l0-30.9l-1-3l0.1-3l4.4-1l0.2-1l-0.4-16l0.5-13zM70 39.7l1.9-0.1l0.5 1.3l0 27l-0.5 1.4l-1.9-0.2l-0.2-1.2l0.1-28zM74.9 69.5l1 0l0.5 1.4l0 17l-0.5 1.4l-1 0l-0.5-1.4l0.2-18z"/>
<path fill="#F0A773" d="M214.8 1l8 0.1l2.3 0.9l0.7 14l-0.5 12l-1.5 1.4l-1-0.2l-0.7-5.2l-0.7-1l-0.2-2l-1.4-2.2l-1.3 2.2l0.6 11l1.7 1.2l0.4 1.8l-0.8 0.9l-0.2 7l-0.8 1l-0.2 3l-1.8 2l-1.6 3.4l-1 0l-1-0.9l-2.4-2.5l-0.1-1l-1.8-2l-0.6-11.9l-1.4-1l-0.2-3l-0.9-1l-0.1-3l-0.9-1l-0.1-4l-0.9-1l-0.1-7l-0.9-1l-0.1-1l-0.1-7l-0.3-0.4l-0.4 0.4l-0.2 8l-4.4 4.4l-1 0.2l-2 1.8l-4 1.8l-3-2.9l-1-1.9l-0.5-5.4l-0.6-1l-0.4-6l0.2-1l1.3-0.4l8-0.3l6 0.6l1 1.5l1-1.5l4-0.6l7.9-0.3zM264.8 0.8l15 0l0 72.6l-3 0l-4-0.1l-1.3-1.4l-0.3-3l-0.8-1l-0.2-2l-0.8-1l-0.2-3l-0.8-1l-0.2-4l-0.8-1l-0.2-6l-0.8-1l-0.1-5l-0.9-2l-0.5-8.9l-0.9-2l-0.2-8.9l-2.6-18.1l0-2l0.6-0.7l2.1-0.3zM17 1.9l1.1 0.1l0.1 1l-0.2 12.1l-0.4-9.1l-0.8-1l0.1-3zM27 1.4l6.3 0.6l0.2 11l0.8 2l-1.9 4l-0.4 1.2l-0.5-1.2l-1.9-2l-1.1-5l-1.2-2l-0.1-5l-0.7-3zM76.9 1.9l3.1 0.1l-0.1 2.4l-0.8 1.6l-2.4 0l0.1-4zM134.9 1.8l4-0.4l1.9 0.6l0.2 7l-0.4 1l-2.7 0.2l-1-0.6l-0.2-1.6l-2.6-5l0.2-1zM174.9 1.4l5 0l1 0.6l0 7l-1 0.9l-4-0.1l-1-0.5l-1-1.7l0-5.6zM7 15.7l0.3 2.3l-0.3 26.2l-0.3-1.3l0.1-26.9zM141.9 19.6l2 0l0.4 0.4l0.2 5l0.8 1l0.2 5l0.7 1l0.2 5.9l0.7 1l0 1l-0.7 1l-0.3 7l-0.4 0l-1.2-2l-0.2-2l-0.8-1l-0.2-4l-0.8-1l-0.2-3.9l-0.8-1l0-13zM152.9 20.6l2 0l0.4 0.4l0.2 6l0.8 1l0.1 1l-0.1 8.9l-0.8 1l-0.2 8l-0.8 1l-0.2 9l-1 2l-0.4 0.4l-1.4-0.4l0-13l-0.8-3l0-3l0.8-2l-0.1-8.9l0.1-1l0.8-1l0.2-6zM251.8 38.8l1.7 0.1l0.4 1l0.2 28l0.4 3l-0.3 7l-0.7 1l-0.1 1l-0.1 29.9l-0.5 1.4l-1 0l-1.4-2.4l-0.1-1l-0.1-24.9l-1-3l0-9l0.3-1l1-1l0.1-1l-0.4-16l0.7-13zM34 40.6l1.4 0.3l0.2 5l0.8 1l0.1 1l-0.1 5l-0.9 1l-0.3 5l-0.5 0l-0.1-1l-0.2-8l-0.8-1l-0.1-1l0.1-7z"/>
<path fill="#F27457" d="M27 1.7l3.7 0.3l0.1 7l-0.9 1l-0.9 0.8l-1-0.2l-0.4-0.6l0-5l-0.8-3zM135.9 1.7l3.9 0.3l-0.1 7l-0.8 0.6l-1 0l-0.6-0.6l-0.3-2l-1.7-3l0-2zM174.9 1.6l5 0l0.6 0.4l0.1 6l-0.7 0.9l-4 0l-1-0.2l-0.6-0.7l0-6zM186.9 1.9l8-0.3l3.2 0.4l0.2 7l-0.8 1l-0.2 3l-1.8 2l-1.6 0.7l-2 1.7l-1 0l-3-2l-0.5-5.4l-0.9-2l0.2-6zM204.9 2l12.9-0.8l5 0.1l1.5 0.7l0.3 7l0.5 2l0 9l-0.8 2l-0.2 5l-0.3 0.2l-1-1l-1-5.2l-2-2.9l-1.8 2.9l-0.2 3.5l-0.4 0.5l-0.1 3l-0.9 1l-0.1 6.9l-0.9 1l-0.2 3l-1.4 0.5l-4-0.2l-0.5-17.2l-1.9-2l-0.1-3l-0.9-1l-0.2-7l-0.8-1l-0.2-6l-0.5-1zM261.8 1.5l18-0.4l0 55.2l-1.5-1.4l-1.5-1.3l-3 2.6l-1-0.8l-2.4-4.5l-0.2-2l-1.8-3l-1.3-6l-0.6-1l-1-6.9l-0.8-1l-0.8-12l-0.9-3l-1.6-14zM250.8 50.7l2-0.2l0.4 1.4l0 23l-0.9 3l-0.5 17.2l-0.4-13.2l-0.9-1l-0.1-1l0.1-8l0.7-1l0.2-3l0-8l-0.7-2l0-7z"/>
<path fill="#FF3E42" d="M28 1.9l1.7 0.1l0.4 1l-0.1 6l-1 1l-1-0.2l-0.2-5.8l-0.7-1l0.4-1zM136.9 2l1.8 0l0.3 1l-0.1 5.9l-1 0l-0.2-1.9l-1.8-3l-0.1-1l0.5-1zM174.9 1.9l5.2 0.1l0.2 5l-0.4 1.4l-4 0.1l-1.3-0.5l0.1-6zM189.9 1.9l6.2 0.1l0.2 7l-0.8 1l-0.3 4l-1.3 0.4l-2 0.2l-1 0.6l-1.4-2.2l-0.2-3l-0.8-1l-0.1-3l1.2-4zM206.9 1.9l1.7 0.1l0.1 1l-0.1 8l-0.2 1l-0.5 0.4l-0.6-4.4l-0.8-1l0.1-5zM209.8 1.9l8-0.5l5 0.1l0.9 0.5l0.1 10l-1 1l-2 0.2l-2.4 2.8l-1.1 3l-2.5 2.4l-3 0l-2.2-2.4l-0.5-8l0.2-9zM261.8 1.7l18-0.4l0 33.3l-3 4.3l-0.1 3l-1 2l-0.9 3.5l-1 0.9l-2 0l-2.3-4.4l-0.4-2l-0.7-1l-3.6-14.9l0-3l-0.8-5l-0.8-2l-0.1-4l-0.6-1l-0.9-9z"/>
<path fill="#DC2633" d="M175.9 2l3 0l1 0.8l0 4.4l-1 0.8l-3.2 0l-0.8-0.8l0-4.4l1-0.8zM213.8 1.7l9.5 0.3l0.2 9l-0.7 1.5l-3 0.3l-5.1-4.8l-0.8-1l-0.1-2.5l-0.8-1.5l0-1zM261.8 1.9l18-0.3l0 23l-3.4 6.4l-0.4 9.9l-1.2 3.3l-2 0.1l-2-1.9l-0.6-1.5l-1.7-2l-1.6-6.9l-0.7-1l-0.3-4l-0.7-1l-0.9-8l-0.8-2l-0.2-4l-0.6-1l-0.3-6l-0.7-1l0-2z"/>
<path fill="#A61A28" d="M213.8 1.9l9.1 0.1l-0.1 10.1l-3 0.2l-5-4.9l-1.2-5.4zM262.8 1.9l17-0.1l0 17.1l-3.1 2.1l-1.2 5l-0.8 1l-0.2 3l-0.8 1l-0.2 3l-0.8 1l-0.2 2.9l-1.7 1.8l-1-0.2l-0.6-0.6l-0.7-2l-1.1-4.9l-0.8-1l-0.2-4l-0.8-1l-0.2-4l-0.7-1l-0.2-4l-0.8-1l-0.1-4l-0.8-1.2l-0.2-5.8l-0.8-1.4l0.4-1.6z"/>
</g>
<rect x="0" y="0" width="279.80" height="139.80" fill="none" stroke="#666" stroke-width="1"/>
<path d="M0.00 139.80v7M0.00 0v-7M41.31 139.80v7M41.31 0v-7M82.62 139.80v7M82.62 0v-7M123.93 139.80v7M123.93 0v-7M165.24 139.80v7M165.24 0v-7M206.55 139.80v7M206.55 0v-7M247.86 139.80v7M247.86 0v-7M0 0.00h-7M279.80 0.00h7M0 27.96h-7M279.80 27.96h7M0 55.92h-7M279.80 55.92h7M0 83.88h-7M279.80 83.88h7M0 111.84h-7M279.80 111.84h7M0 139.80h-7M279.80 139.80h7" stroke="#8c8c8c" stroke-width="1" fill="none"/>
<path d="M13.77 139.80v3.5M13.77 0v-3.5M27.54 139.80v3.5M27.54 0v-3.5M55.08 139.80v3.5M55.08 0v-3.5M68.85 139.80v3.5M68.85 0v-3.5M96.39 139.80v3.5M96.39 0v-3.5M110.16 139.80v3.5M110.16 0v-3.5M137.70 139.80v3.5M137.70 0v-3.5M151.47 139.80v3.5M151.47 0v-3.5M179.01 139.80v3.5M179.01 0v-3.5M192.78 139.80v3.5M192.78 0v-3.5M220.32 139.80v3.5M220.32 0v-3.5M234.09 139.80v3.5M234.09 0v-3.5M261.63 139.80v3.5M261.63 0v-3.5M275.40 139.80v3.5M275.40 0v-3.5M0 6.99h-3.5M279.80 6.99h3.5M0 13.98h-3.5M279.80 13.98h3.5M0 20.97h-3.5M279.80 20.97h3.5M0 34.95h-3.5M279.80 34.95h3.5M0 41.94h-3.5M279.80 41.94h3.5M0 48.93h-3.5M279.80 48.93h3.5M0 62.91h-3.5M279.80 62.91h3.5M0 69.90h-3.5M279.80 69.90h3.5M0 76.89h-3.5M279.80 76.89h3.5M0 90.87h-3.5M279.80 90.87h3.5M0 97.86h-3.5M279.80 97.86h3.5M0 104.85h-3.5M279.80 104.85h3.5M0 118.83h-3.5M279.80 118.83h3.5M0 125.82h-3.5M279.80 125.82h3.5M0 132.81h-3.5M279.80 132.81h3.5" stroke="#a8a8a8" stroke-width="1" fill="none"/>
<text x="0.00" y="161.00" text-anchor="middle" font-size="9.7">2004</text>
<text x="41.31" y="161.00" text-anchor="middle" font-size="9.7">2007</text>
<text x="82.62" y="161.00" text-anchor="middle" font-size="9.7">2010</text>
<text x="123.93" y="161.00" text-anchor="middle" font-size="9.7">2013</text>
<text x="165.24" y="161.00" text-anchor="middle" font-size="9.7">2016</text>
<text x="206.55" y="161.00" text-anchor="middle" font-size="9.7">2019</text>
<text x="247.86" y="161.00" text-anchor="middle" font-size="9.7">2022</text>
<text x="-13.5" y="3.40" text-anchor="end" font-size="9.5">0</text>
<text x="-13.5" y="31.36" text-anchor="end" font-size="9.5">200</text>
<text x="-13.5" y="59.32" text-anchor="end" font-size="9.5">400</text>
<text x="-13.5" y="87.28" text-anchor="end" font-size="9.5">600</text>
<text x="-13.5" y="115.24" text-anchor="end" font-size="9.5">800</text>
<text x="-13.5" y="143.20" text-anchor="end" font-size="9.5">1000</text>
<text transform="translate(-42.4 69.90) rotate(-90)" text-anchor="middle" font-size="9.3">Depth (m)</text>
<text x="139.90" y="-15.5" text-anchor="middle" font-size="11.5">(b) Ross Sea 50-65<tspan font-size="7.5" dy="-4.4">o</tspan><tspan dy="4.4">S Temperature Anomaly</tspan></text>
</g>
<g transform="translate(48.70 420.70)">
<clipPath id="cpc"><rect x="0" y="1.3" width="279.80" height="136.2"/></clipPath>
<g clip-path="url(#cpc)">
<rect x="0" y="0" width="279.80" height="139.80" fill="#E6FFFF"/>
<path fill="#C2FFFF" d="M58 0l22.4 0l0.1 6l1.4 2.5l1 0l0.7-1.5l0-7l33.3 0l0.4 6l0.7 2l6.9 5.9l1.4-0.9l1.6-3l0-10l4.2 0l0 5l0.8 0.8l1 0l3 0l0.8-0.8l0-5l4.7 0l3.5 0.6l2.3-0.6l9.7 0.1l3 0.4l0.7 0.5l0 13l-0.5 2l-0.1 3l-0.2 1l-1.9 1l-2 0l-6.1-6l-1.9-1l-1-1l-0.2-4l-1.8-1.8l-0.8 0.8l-0.1 18l-0.3 3l0.3 6.9l0 33l-0.1 1.2l-2 0.4l-0.5 1.4l0 16l-0.7 2l-0.3 9l-0.1 37.9l-2.4 0.5l-20 0l-1.2-0.5l-0.1-29l-1-2.9l0-33l-0.1-7l-0.9-2l0-15l-0.9-2l-0.3-5l-0.7-1l-0.3-4.9l-0.7-1l-1.4-11l-0.8-1l-0.6-2.4l-5-0.1l-1 0.5l-0.1 13l-0.5 2.9l-0.1 40l-0.8 3l-0.1 34.9l-1.4 0.5l-3-0.1l-1.4-1.4l-0.2-6l-0.8-1l-0.1-1l-0.1-4.9l-0.8-1l-0.2-6l-0.8-1l-0.2-6l-0.8-1l-0.2-2l-0.8-1l-0.2-2l-0.8-1l-0.2-3l-0.8-1l-1.2-5l-0.8-1l-0.3-3l-0.3-0.3l-1 0.8l-0.6 1.5l-1.4 1l-0.1-22l-0.2-2l-0.7-0.4l-1 1.8l-1.7 0.6l-0.1 1l-0.1 47l-1.1 3.3l-2 0.3l-1 0.8l-5.2 0.6l-0.3-5l-0.9-1l0-1l-0.1-13l-0.9-3l-0.1-10l-0.9-1l-0.1-2l-0.9-1l-0.1-2l-0.9-1l-0.1-3l-0.9-1l-0.1-2l-0.9-1l-1.1-5l-0.9-1l-0.1-2l-0.8-1l-0.2-6l-0.8-1l-0.2-5.9l-0.8-1l-0.1-6l-0.6-2l0-22zM188.9 0.3l6.7-0.3l3.3 0.5l2-0.5l4 0l0.6 1l0 5l0.6 2l0 16l0.8 0.8l1.6 0.2l0.4 0.5l0.1 3.5l0.8 1l0.1 1l0.1 39.9l1 3l-0.2 34.9l-1.4-1l-0.1-2l-0.9-1l-0.1-3.9l-0.9-1l-0.1-5l-1-1l-0.2-4l-0.5 0l-0.1 1l-0.1 9l-0.1 1l-0.9 1l-0.2 6.9l-0.3 0.4l-2 0l-0.6-2.4l-0.8-1l-0.1-15.9l-1-3l0-15l-0.1-1l-0.8-1l-0.2-2l0.2-8l0.7-1l0.1-1l-0.1-27.9l-1.3-0.5l-6-0.1l-3.3-4.4l0.3-2l2-0.9l1.1-1.1l-0.5-11l-0.6-0.6l-2.2-0.4l-0.5-1l0.1-7zM243.8 0.1l2.4-0.1l1.4 1l0 6l-0.8 0.8l-2 0l-1 0l-0.8-0.8l0-6zM250.8 0l27.1 0l0 30l1 3l-0.9 2.9l0 29l0.1 1l0.8 1l0.1 2l0.8 0.9l0 69l0 1l-17.5 0l-0.1-4l-0.8-1l-0.2-3l-0.8-1l-0.2-4l-0.8-1l-0.2-3l-0.8-1l-0.2-4l-0.8-1l-0.2-4l-0.8-1l-0.2-3l-0.8-1l-0.2-3.9l-0.8-1l-0.1-1l-0.1-9l-0.8-1l-0.1-1l0-11l-1-3l-0.1-11l-0.8-1l-0.1-1l0-29.9l0.4-2l0.1-9l-1-3l-0.5-20zM8 11.6l3 0l0.3 0.4l0.1 9l-0.1 1l-0.7 1l-0.2 7l-1.4 0.5l-1.4-0.5l0-18zM243.8 70.5l3 0l0.4 0.4l0.1 4l-0.5 1.4l-2 0l-0.4-0.4l-0.2-2l-0.8-1l0-2z"/>
<path fill="#8AE1FF" d="M60 0l20.2 0l0.1 6l1.6 2.8l1 0l0.8-0.8l0.1-8l30 0l0 14l-0.1 1l-0.8 0.8l-8 0l-0.9-0.8l-0.1-6.3l-0.8 24.3l-0.7 2l-0.1 6.9l-0.1 5l-0.8 2l-0.1 7l-1.4 0.4l-3-2.8l-1 0.3l-2.2 4.1l-2.3 2l-0.2 1l-0.5 0l-0.4-3l-0.8-1l-0.2-3l-0.8-1l-0.2-3l-0.8-1l-0.2-3l-0.8-1l-0.2-3l-1.4-0.3l-0.6 1.3l-1.5 1l-0.9 1.4l-1 0.4l-1-0.5l-7.5-7.3l-1.9-1l-4.5-4.5l-1.6-3.4l-1.9-2l-1-2l-0.1-2l-0.8-1l-0.1-10l-1-3l0-9zM139.9 0.5l2-0.1l0.8 0.6l0.1 1l-0.4 46.9l-0.5 1.4l-2 0.1l-0.5 0.5l-1.5 5.3l-1.4-2.3l-0.2-2l-0.8-1l-0.2-3l-0.8-1l-0.2-2l-0.8-1l-0.2-2l-0.8-1l-0.2-2l-0.7-1l2.7-4.9l0.2-2l3.9-5l0.8-2l0.2-23zM147.9 0.7l5-0.3l5.3 0.6l0.2 16l-0.5 1.4l-2-0.1l-0.4-0.3l-2-4l-0.2-2l-5.7-5l-0.1-6zM189.9 0.4l5 0l1.4 0.6l0.1 17l-0.5 1.4l-3 0.1l-0.5-0.5l-0.7-9l-0.8-0.9l-1.3-0.1l-0.7-1l0.2-7zM200.9 0.5l3-0.4l1.2 0.9l0.4 7l0 1l-0.6 0.8l-4 0l-0.8-0.8l0-8zM243.8 0.9l2-0.5l1.1 0.6l-0.2 6l-2.9-0.1l-0.1-5.9zM254.8 0l22.5 0l0 30l1 3l-0.8 2.9l0.1 29l1.7 6l0 42.9l-0.1 1l-3.4 3.5l-4 3.9l-1 0l-8.4-8.4l-0.2-4l-0.8-1l-0.2-4l-0.8-0.9l-0.2-5l-0.8-1l-0.2-4l-0.8-1l-0.2-4l-0.8-1l-0.2-5l-0.8-1l-0.1-1l0-30l-1-3l0-36.9l-1-3l0-8zM118.9 11.6l3 0.2l1.2 1.2l0.3 1l0 41.9l-0.5 1.4l-3 0l-0.5-1.4l0-32.9l-1-3l0.1-8zM200.9 36.6l3 0l0.5 1.3l0 25l-0.5 1.4l-3 0l-0.4-0.4l0-27z"/>
<path fill="#6EB9FF" d="M65 0l15 0l0.1 6l1.8 3.1l1 0.2l1.3-1.3l0.1-8l19.4 0l-0.1 7l-0.8 3l0 16l-0.5 3l-0.8 1l-0.2 3l-0.8 1l-0.2 3.9l-0.8 1l-0.2 3l-0.8 1l-0.2 4l-0.8 1l-2 4l-0.4 2l-2.2 3.5l-0.6-2.5l-0.8-1l-0.2-4l-0.8-1l-0.2-4l-6.1-11.9l-0.3-0.3l-1 0.8l-5 4.7l-1.4-1.3l-0.1-1l-1.9-1.9l-1.1-3l-1.9-2l-6-12l-0.1-4l-0.9-1l0-1l-0.3-11zM104.9 0l8.3 0l-0.4 15l-7.9-0.1l-0.5-14.9zM140.9 0.9l1.1 0.1l0.1 1l-0.2 15.3l-1 0.1l-0.4-1.4l0.1-15zM148.9 0.9l5.3 0.1l0.2 5l-0.5 1.4l-3 0.1l-1.4-0.5l-0.9-2l0.1-4zM189.9 0.9l5.2 0.1l0.2 10l-0.4 1.4l-2 0.1l-0.6-2.5l-2.7-2l0.1-7zM201.9 0.8l2-0.4l0.9 0.6l0.2 7l-0.1 0.9l-1 0.2l-3-0.2l0.1-7.9zM244.8 0.9l1.2 0.1l0.2 2l-0.4 1.4l-1.3-0.4l0.2-3zM257.8 0l17.5 0l0 36.9l1 3l0 24l-0.1 1l-0.8 1l-0.1 10l-0.1 1l-0.8 1l-0.1 10l-0.1 1l-0.8 1l-0.1 7l-0.5 1.4l-4 3l-2-0.1l-0.4-0.3l-1.2-5l-0.8-1l-0.2-3l-0.8-1l-0.2-2l-0.8-1l-0.2-2l-0.8-1l-0.2-3l-0.8-1l-0.1-13l-1-3l0-14l-1-3l0-36.9l-0.9-2l-0.6-9z"/>
<path fill="#5A91FF" d="M66 0l13.6 0l0.1 6l1.7 4l0 15l-0.1 1l-0.8 1l-0.2 2l-0.8 1l-0.1 2l-0.5 1.2l-1.4-1.2l-1-2l-0.1-2l-2-4l-1-2l-1.9-2l-2-4l-1.5-5.8l-2-4.2l-1-6zM85.9 0l17.3 0l-0.2 7l-0.7 2l-0.2 17l-1.7 2l-2.5 2.2l-1-0.6l-2-0.2l-1-0.8l-2.4-0.6l-5-10l-0.1-14l-0.1-1l-0.8-1l-0.1-2zM105.9 0l6.7 0l0 10l-0.7 0.8l-5 0l-0.8-0.8l-0.2-3l-0.6-1l-0.1-6zM202.9 0.7l1.4 0.3l0.1 5l-0.5 0.8l-1 0l-0.8-0.8l0.1-5zM257.8 0l11.5 0l0 10l1 3l0 12l1 3l0 35.9l1 3l-0.1 10l-2.4 2.5l-2 1.9l-1.4-0.4l-0.2-4l-0.8-1l-0.2-4l-0.8-1l-0.2-4l-0.8-1l-0.2-4l-0.8-1l-0.1-23l-1-2.9l0-16l-1.4-4l-0.1-3.6l-0.7-1.4l-0.3-3.6l-0.7-1.4l-0.2-4l-0.6-1z"/>
<path fill="#2605FF" d="M66 0l12.9 0l-0.1 6l-0.9 1.5l-0.1 4.5l-1.7 3l-2.2 1.8l-3.8-2.8l-1.9-5l-1.8-3l-0.2-3l-0.8-1l-0.1-2zM87.9 0l14.9 0l0 3l-0.9 2l-0.1 8l-1.7 2l-3.2 1.9l-1 0l-3-1.7l-3.1-3.2l-0.8-1l-0.1-3.5l-0.9-1.5l-0.1-4.5l-0.9-1.5zM105.9 0l6.2 0l-0.3 10l-4.9-0.1l-0.2-2.9l-0.8-1l-0.1-1l0-5zM257.8 0l9.5 0l-0.1 5l-0.8 1l-0.1 1l-0.1 8l-1.4 0.5l-4-0.2l-0.3-4.3l-0.7-1l-0.3-4l-0.7-1l-0.2-4l-0.8-1zM202.9 1.3l1 0l0 4.6l-1 0l-0.2-3.9z"/>
<path fill="#3A00FF" d="M66 0l12.4 0l0 5l-0.1 1l-0.8 1l-0.2 5l-1.4 2.4l-2 1.8l-3.2-2.2l-3.9-8l-0.2-3l-0.8-1l-0.1-2zM87.9 0l14.4 0l-0.1 3l-0.8 1l-0.2 9l-1.3 1.4l-3 1.9l-1 0l-2-1l-4-3.9l-0.5-4.4l-0.8-1l-0.2-5l-0.8-1z"/>
<path fill="#F8FFE8" d="M13 0l44.2 0l0.3 77.9l-1 3l0 12l-1 3l0 10.9l-1 3l0 10l-1 3l0 11l-1.1 3l-1.4 0.5l-32 0l-1.4-0.5l-0.1-9l-1-3l0-11l-1-3l0-9.9l-1-3l0-11l-1-3l-0.2-57.9l-0.8-3l-0.1-23zM80.9 0l2.4 0l0 7l-0.4 1.2l-1 0l-1.1-2.2l-0.2-6zM117.9 0l9.7 0l-0.1 10l-1.6 2.6l-1 0.8l-4.7-4.4l-1.7-1l-1.2-8zM132.9 0l4.2 0l-0.3 5l-3.9-0.1l-0.1-4.9zM162.9 0l25.1 0l-0.1 9l3.4 1l0.3 10l0 1l-0.7 0.7l-2.2 0.3l-1 3l0 29.9l-1 3l0.1 6l1.1 0.5l9 0.1l0.3 1.4l0.2 73.9l-24.5 0l-27.5 0l0-67.9l0.4-2l-0.5-40.9l0.4-3l0.1-17l0.1-0.6l1 0.6l0.2 4l0.8 0.9l2 1.1l7 6.8l2 0l2-1l0.7-0.8l0.1-4l0.5-1l-0.2-15zM206.9 0.7l2-0.1l1.2-0.6l31.3 0l0.1 139.8l-0.7 0l-29.5 0l0.4-65.9l-1-3l0-39.9l-0.1-1l-0.8-1l-0.3-4l-0.6-0.8l-2-0.2l-0.2-1l0-15l0-1l-0.8-1.2l0.1-4.8zM278.8 0l1 0l0 69.5l-0.4-0.6l-0.2-2l-0.8-1l-0.1-1l0-29l0.8-2.9l-1-3l0-30zM244.8 9.2l4-0.1l1 0.2l0.5 0.7l0.2 11l0.8 2l0 8l-0.5 1.6l-1 0.2l-5-0.1l-0.8-0.7l0-22zM1 30.5l1.4 0.5l0.1 2l0 15.9l-0.5 1.4l-1 0.1l-1 0l0-19.9zM104.9 30.6l4 0l0.5 1.4l0 48.9l1 3l0 51.9l-0.5 1.4l-5 0l-0.5-1.4l0.3-104.8zM81.9 46.9l1-0.6l0.2 0.6l0.3 50l1 3l0 35.9l-0.1 1l-1.4 0.5l-2-0.1l-0.5-1.4l0.4-87.9l0.6-1z"/>
<path fill="#F3F2B8" d="M14 0l40.6 0l-0.1 34l-1 2.9l-0.1 10l-0.8 1l-0.2 7l-0.8 1l-0.2 7l-0.8 1l-0.1 1l-0.1 6l-0.8 1l-0.1 6l-0.1 1l-0.8 1l-0.2 7l-0.8 1l-0.2 7l-0.8 1l-0.1 6l-0.1 1l-0.8 1l-0.2 6.9l-0.8 1l-0.2 4l-1.8 3l-0.2 2l-0.8 1l-1 2l-0.2 2l-1.8 3l-0.2 2l-1.4 2.5l-1 0.8l-0.3-0.3l-6.1-12l-0.2-2l-0.8-1l-1.2-5l-0.8-1l-0.2-2l-0.8-1l-0.2-2l-0.8-1l-0.2-2l-0.8-0.9l-0.2-2l-0.8-1l-0.2-2l-0.8-1l-0.2-2l-0.8-1l-0.2-2l-0.8-1l-0.3-8l-0.8-2l-0.1-8l-0.8-1l-0.1-1l-0.1-8l-0.8-1l-0.1-1l-0.1-8l-0.8-1l-0.1-1l-0.1-8l-0.8-1l0-1l0-7.9l-0.5-3l0.2-20l-0.7-2l0-9zM21.7 12l0.7 1l0.2 8l2.4 0.5l3-0.1l0.4-0.4l0-9l-1.4-0.5l-5 0.2zM80.9 0l2.2 0l-0.2 7.9l-1 0l-1-2.1l-0.1-5.8zM117.9 0l9.4 0l-0.1 9l-1.2 3l-1.1 1l-3-3.1l-3-2l-0.7-1.9l-0.5-6zM162.9 0l24.6 0l0 9l3.5 1l0.3 11l-0.4 0.4l-2 0.1l-1.8 2.5l0 30.9l-0.9 2l0.2 18l-1 3l0 13l-1 3l-0.1 11.9l-1.4 1.3l-0.3-0.3l-0.3-2.9l-0.8-1l-0.6-3.3l-1.4 1.3l-0.6 2.5l-0.6 2.4l-0.8 1l-0.2 2l-0.8 1l-0.2 2l-0.8 1l-0.2 2l-0.8 1l-0.2 2l-1.8 3l-0.6 2.4l-1.4-0.4l-0.2-3l-0.8-1l-0.2-4l-0.8-1l-0.2-3l-0.8-1l-0.2-5l-0.8-0.9l-0.2-7l-0.8-1l-0.1-1l0-6l-0.9-2l-0.3-7l-0.8-2l-0.2-12l-0.8-2l0.1-63.9zM211.8 0l28.5 0l0 14l-0.9 3l-0.1 43.9l-0.9 3l-0.1 29l-0.1 1l-0.8 1l-0.1 7l-0.1 1l-0.8 1l-0.3 5.9l-0.5 0l-0.2-1l-1-1l-3-5.9l-0.2-3l-0.8-1l-0.2-2l-0.8-1l-0.2-2l-0.8-1l-0.2-3l-0.8-1l-0.2-2l-0.8-1l-0.2-2l-0.8-1l-0.2-2l-0.8-1l-0.2-2l-1.8-3l-0.3-2l-0.3-0.3l-1.3 1.3l-0.2 1l-2 2l-0.2 1l-0.5 0l-1.2-2l-1.1-5l-0.9-1l-0.1-3l-0.9-1l-0.1-2l-0.9-1l-0.1-30.9l-1-3l0-28zM278.8 0l1 0l-0.1 68.9l-0.2-2l-0.8-1l-0.1-1l0-29l0.7-1.9l-0.1-2l-0.8-1l-0.1-1l0-30zM244.8 10l4-0.2l1 0.6l0.3 10.6l0.8 2l0 8l-0.5 1l-5.6-0.1l-0.4-12.9l0.4-9zM145.9 27.7l3-0.2l1.4 0.5l0.1 30.9l-0.5 1.4l-2 0l-1.3-2.4l-0.1-22l-0.7-1.9l0-6z"/>
<path fill="#F0A773" d="M21 0l7.1 0l-0.1 9l-1 1l-5 0l-1-1l-0.1-9zM31 0l22.4 0l-0.1 1l-0.7 1l-0.2 8l-0.8 1l-0.2 2l-1.8 3l-0.7 3l-2.9 5.5l-0.6 4.5l-0.8 1l-0.2 6.9l-0.8 1l-0.1 1l-0.1 7l-0.8 1l-0.1 1l-0.1 33l-0.8 1l-0.2 6l-0.8 1l-0.2 5l-0.8 1l-0.2 4l-0.8 1l-0.2 3l-0.8 1l-1.2 4.9l-1.4 2.3l-0.5-1.3l-1.9-2l-0.2-1l-3.8-4.9l-2.2-5l-1.8-2l-2.2-5l-1.8-2l0-1l-0.1-22l-0.1-1l-0.8-1l-0.1-2l1-3l0.1-11l1.4-1.4l1-0.2l2-1.8l1-0.2l2-1.8l1-0.2l1.4-1.4l0.2-3l0.8-1l0.2-2.9l0.8-1l0.1-4l0.5-1l-1-12l-0.6-1l-0.1-7l-0.7-1l-0.1-6zM81.9 0l0.6 0l0 6l-0.6 0.6l-0.5-1.6l0-5zM118.9 0l8.1 0l-0.2 9l-0.9 2.3l-1 1.3l-3-3.3l-3-2.2l-0.5-1.1l-0.4-6zM163.9 0l23.2 0l0 9l0.8 0.8l2.6 0.2l0.4 0.4l0 10.6l-2.7 0l-0.2-7l-1.1-2.2l-0.5 2.2l-0.2 39.9l-0.9 3l0 8l-0.9 3l-0.2 10l-0.7 1l-0.2 4l-0.8 1l-0.1 1l-0.1 1l-1.8 3l-1.2 5l-3 6l-3.4 3.4l-1.4-0.4l-0.2-2l-0.8-1l-0.2-2l-0.8-1l-0.2-2l-0.8-1l-0.2-2l-0.8-1l-0.2-2l-0.8-1l-0.2-4l-0.8-1l0-1l-0.1-10l-0.9-4l-0.3-12l-0.8-2l-0.3-53.9zM212.8 0l25.5 0l0 48.9l-1 3l0 20l-1 3l0 11l-0.1 1l-1.4 1.2l-1.4-2.2l-0.2-2l-0.8-1l-3-6l-0.2-2l-1.8-3l-1.2-5l-1.8-3l-0.6-2.2l-1.4 2.2l-0.2 2l-0.7 1l-0.2 2l-0.9 1l-0.4 2l-0.4 0l-1.2-2l-0.2-4l-0.8-1l-0.2-3l-0.8-1l-0.2-3l-0.8-1l-0.1-4l-0.9-1l-0.1-1l0-13l-1-2.9l-0.1-22l-0.9-3l0-10zM278.8 0l1 0l0 66.9l-0.7-2l0-29l0.7-1l-0.4-2.9l-0.8-1l-0.1-1l0-30zM15 11.7l2-0.2l1.4 0.5l0.1 19l-0.5 1.3l-2 0.2l-1.2-0.5l0-20zM245.8 11.6l3-0.1l0.6 0.5l0.2 8l-0.1 1l-0.7 0.5l-2-0.1l-1.4-1.4l0.1-8z"/>
<path fill="#F27457" d="M22 0l5.7 0l0 8l-0.1 1l-0.6 0.6l-5 0l-0.6-0.6l-0.1-9zM33 0l16.5 0l0 12l-0.1 1l-0.8 1l-0.5 5l-2.8 5l-2.9 7l-0.9 1l-4.3 6.9l-0.2 0.3l-1.4-1.3l-0.2-3.9l-0.8-1l-0.2-5l-0.6-1l-0.3-8l-0.7-2l-0.4-17zM118.9 0l7.9 0l-0.4 10l-1.1 2l-0.4 0.3l-1-0.7l-1.8-2.6l-3.2-2.3l-0.6-6.7zM163.9 0l22.4 0l0 10l-1 3l-0.1 27.9l-0.7 1l-0.2 8l-0.8 1l-0.2 8l-0.8 1l-0.2 8l-0.8 1l-0.2 5l-0.8 1l-0.2 3l-0.8 1l-0.2 4l-0.8 1l-0.2 3l-0.4 0.5l-1.6 4.5l-1.8 2l-0.6 1.4l-1 0l-0.6-2.4l-0.8-1l-0.2-2l-0.8-1l-0.2-2l-0.8-1l-0.2-2l-0.8-1l-0.2-3l-0.8-1l-0.3-7l-0.7-1l-0.3-7l-0.7-1l-0.1-7l-0.9-3l-0.1-33.9l-0.7-3l-0.1-16zM213.8 0l22.5 0l-0.1 7l-0.8 1l-0.1 1l0 31.9l-0.1 1l-0.8 1l-0.1 9l-0.1 1l-0.8 1l-0.2 7l-0.1 1l-0.5 0l-4.2-8l-0.6-1.2l-3 1.6l-2.3 0.6l-0.3 3l-0.8 1l-0.2 4l-0.8 1l-0.6 4.2l-0.4-3.2l-0.9-1l-0.2-5l-0.9-2l-0.1-5l-0.9-1l-0.1-5l-0.8-1l-0.1-8l-1-2.9l-0.1-20l-0.9-4l-0.2-10zM278.8 0l1 0l0 33.8l-0.2-1.8l-0.9-2l0-30zM188.9 10.3l1.5 0.7l0.2 9l-0.7 0.7l-0.8-0.7l-0.1-6l-1.1-3z"/>
<path fill="#FF3E42" d="M22 0l5.4 0l-0.4 9.2l-5.2-0.2l-0.1-9zM34 0l12.5 0l-0.1 5l-0.8 1l-0.1 1l-0.1 7l-1 2l-1.8 2l-1.2 3l-1.4 0.4l-5.4-3.4l-0.2-9l-0.8-1l-0.1-1l0-7zM118.9 0l7.7 0l-0.4 10l-1.3 2l-1.2-1l-1.2-2l-3.6-2.7l-0.3-6.3zM164.9 0l19.7 0l-0.2 7l-0.5 1l-0.6 5l-3.8 7l-0.1 15l-0.9 2.9l-0.1 17l-0.1 1l-0.8 1l-0.2 9l-0.8 1l-0.1 6l-0.1 1l-0.8 1l-0.2 5l-0.8 1l-0.2 5l-1.4 2.2l-0.6-2.2l-0.8-1l-0.2-2l-0.8-1l-0.2-2l-0.8-1l-0.2-3l-0.8-1l-0.2-8l-0.8-1l-0.2-8l-0.8-1l0-1l-0.2-10l-0.8-1l0-1l-0.2-28.9l-0.9-3l-0.2-12zM214.8 0l19.5 0l-0.1 3l-0.8 1l-0.1 1l-0.1 23l-1.4 1.4l-1 0.2l-1 0.9l-4 3.7l-1.4-2.2l-0.2-2l-1.8-3l-0.2-2l-1-2l-1.4-1.4l-4.3-1.6l-0.2-7l-0.6-1l-0.3-2l-0.4-10zM279.8 0l0 31.6l-0.5-1.6l0-30z"/>
<path fill="#DC2633" d="M23 0l4.1 0l-0.2 8l-0.9 0.9l-1 0l-2 0l-0.9-0.9l0-8zM37 0l6.5 0l0 5l-0.5 1.4l-6 0l-0.5-1.4l0-5zM118.9 0l7.4 0l-0.4 9.6l-0.9 1.4l-1.1-0.1l-1.1-1.9l-3.8-3l-0.2-6zM165.9 0l17.9 0l-1 12l-2.1 2l-2.2 4l-0.3 10l-0.7 1l-0.1 1l-0.1 16.9l-0.1 1l-0.7 1l-0.2 5l-0.8 1l-0.2 3l-1.4 2.2l-3.4-6.2l-0.2-3l-0.8-1l-0.2-6l-0.8-1l-0.3-6l-0.7-1l-0.2-7.9l-0.8-1l-0.1-13l-0.9-2l-0.6-12zM214.8 0l14.5 0l-0.1 5l-0.8 1l-0.2 5l-1.4 1.4l-1 0.2l-2 1.8l-2 1l-1 0l-5-3.9l-0.7-6.5l-0.5-1l-0.1-4z"/>
<path fill="#A61A28" d="M24 0l2.5 0l-0.7 3l-0.1 4l-0.7 0.7l-1 0l-0.7-0.7l-0.1-7zM119.9 0l6.2 0l-0.8 10l-0.4 0.5l-1-0.2l-1-1.8l-3.4-2.5l-0.1-6zM165.9 0l17.4 0l-0.7 3l-0.4 9l-1.6 1l-1.7 1.7l-2 1l-2 0l-6.9-3.7l-1.8-3l0-6l-0.8-3zM215.8 0l8.8 0l0 8l-0.9 1l-0.9 0.7l-6 0l-0.6-0.7l-0.2-4l-0.7-1l-0.2-4zM170.9 26.2l3 0l0.7 0.8l0.1 8l0.1 0.9l0.8 1l0.1 6l-0.1 1l-1.9 2l-0.8 0.7l-1.8-1.7l-0.9-2l-0.2-2l-0.8-1l0-3l0.9-1.9l0.1-8z"/>
</g>
<rect x="0" y="0" width="279.80" height="139.80" fill="none" stroke="#666" stroke-width="1"/>
<path d="M0.00 139.80v7M0.00 0v-7M41.31 139.80v7M41.31 0v-7M82.62 139.80v7M82.62 0v-7M123.93 139.80v7M123.93 0v-7M165.24 139.80v7M165.24 0v-7M206.55 139.80v7M206.55 0v-7M247.86 139.80v7M247.86 0v-7M0 0.00h-7M279.80 0.00h7M0 27.96h-7M279.80 27.96h7M0 55.92h-7M279.80 55.92h7M0 83.88h-7M279.80 83.88h7M0 111.84h-7M279.80 111.84h7M0 139.80h-7M279.80 139.80h7" stroke="#8c8c8c" stroke-width="1" fill="none"/>
<path d="M13.77 139.80v3.5M13.77 0v-3.5M27.54 139.80v3.5M27.54 0v-3.5M55.08 139.80v3.5M55.08 0v-3.5M68.85 139.80v3.5M68.85 0v-3.5M96.39 139.80v3.5M96.39 0v-3.5M110.16 139.80v3.5M110.16 0v-3.5M137.70 139.80v3.5M137.70 0v-3.5M151.47 139.80v3.5M151.47 0v-3.5M179.01 139.80v3.5M179.01 0v-3.5M192.78 139.80v3.5M192.78 0v-3.5M220.32 139.80v3.5M220.32 0v-3.5M234.09 139.80v3.5M234.09 0v-3.5M261.63 139.80v3.5M261.63 0v-3.5M275.40 139.80v3.5M275.40 0v-3.5M0 6.99h-3.5M279.80 6.99h3.5M0 13.98h-3.5M279.80 13.98h3.5M0 20.97h-3.5M279.80 20.97h3.5M0 34.95h-3.5M279.80 34.95h3.5M0 41.94h-3.5M279.80 41.94h3.5M0 48.93h-3.5M279.80 48.93h3.5M0 62.91h-3.5M279.80 62.91h3.5M0 69.90h-3.5M279.80 69.90h3.5M0 76.89h-3.5M279.80 76.89h3.5M0 90.87h-3.5M279.80 90.87h3.5M0 97.86h-3.5M279.80 97.86h3.5M0 104.85h-3.5M279.80 104.85h3.5M0 118.83h-3.5M279.80 118.83h3.5M0 125.82h-3.5M279.80 125.82h3.5M0 132.81h-3.5M279.80 132.81h3.5" stroke="#a8a8a8" stroke-width="1" fill="none"/>
<text x="0.00" y="161.00" text-anchor="middle" font-size="9.7">2004</text>
<text x="41.31" y="161.00" text-anchor="middle" font-size="9.7">2007</text>
<text x="82.62" y="161.00" text-anchor="middle" font-size="9.7">2010</text>
<text x="123.93" y="161.00" text-anchor="middle" font-size="9.7">2013</text>
<text x="165.24" y="161.00" text-anchor="middle" font-size="9.7">2016</text>
<text x="206.55" y="161.00" text-anchor="middle" font-size="9.7">2019</text>
<text x="247.86" y="161.00" text-anchor="middle" font-size="9.7">2022</text>
<text x="-13.5" y="3.40" text-anchor="end" font-size="9.5">0</text>
<text x="-13.5" y="31.36" text-anchor="end" font-size="9.5">200</text>
<text x="-13.5" y="59.32" text-anchor="end" font-size="9.5">400</text>
<text x="-13.5" y="87.28" text-anchor="end" font-size="9.5">600</text>
<text x="-13.5" y="115.24" text-anchor="end" font-size="9.5">800</text>
<text x="-13.5" y="143.20" text-anchor="end" font-size="9.5">1000</text>
<text transform="translate(-42.4 69.90) rotate(-90)" text-anchor="middle" font-size="9.3">Depth (m)</text>
<text x="139.90" y="-15.5" text-anchor="middle" font-size="11.5">(c) Amundsen-Bellingshausen Seas 50-65<tspan font-size="7.5" dy="-4.4">o</tspan><tspan dy="4.4">S Temperature Anomaly</tspan></text>
</g>
<g transform="translate(391.40 25.50)">
<clipPath id="cpd"><rect x="0" y="1.3" width="279.80" height="136.2"/></clipPath>
<g clip-path="url(#cpd)">
<rect x="0" y="0" width="279.80" height="139.80" fill="#E6FFFF"/>
<path fill="#C2FFFF" d="M18 0.7l7.6 0.3l0.1 9l1.3 2.2l3 0.4l1 0l0.6-0.6l0.2-3l0.8-1l0.4-6.8l2 0.3l7-1.1l3 0.6l3 0l2-0.6l2 0l4 0.3l2 0.8l12-0.1l0.9 0.6l0.6 28l-0.2 25.9l-1.3 0.4l-0.4-0.4l-0.3-17l-2.3-0.5l-6 0l-1.4 0.5l-0.1 32l-0.9 1l-0.2 7l-1.4 1.4l-5 0.1l-1.4 0.5l-0.1 16l-1 3l0 21.9l-0.1 1l-1 1l-0.2 8l-0.5 0l-0.1-1l-0.1-37.9l-1-3l0-17l0-1l1.9-1l0.1-1l-0.2-34l-1.3-0.5l-4 0.2l-0.5 1.3l0 70.9l-1 3l-0.1 21l-0.4 0.4l-1.4-0.4l-0.2-8l-0.8-1l-0.1-1l0-17.9l-1-3l0-27l0-2l0.9-1l0.1-1l0-34l-0.5-3.5l-0.8-1.4l-0.2-5l-2-0.5l-1.1 0.5l-0.1 6l-0.8 1.4l-0.4 5.5l-0.1 32l-1.9 2l-0.2 4l-0.8 1l-0.2 2l-0.8 1l-1.2 5l-0.8 1l-0.1 9l-1 3l0 35.9l-0.5 1.4l-1 0l-0.5-1.4l0-46.9l-1-3l0-13l0.9-1l0.1-1l0-18l-0.5-1.4l-3 0l-0.5 0.4l-0.1 18l-0.1 1l-0.3 0.4l-0.3-0.4l-0.1-18l-1.1-3l0-16.9l-1-3l-0.5-18l-1-1.4l-2 0.2l-0.2 3.2l-0.8 1l-0.2 2l-0.8 1l-0.2 2l-0.9 2l-0.4 49.9l-0.9 1l-0.2 5l-0.8 1l-0.6 2.4l-2 0l-0.5-1.4l-0.1-7l-3.8-1l-0.1-34l1.5-1.9l0.1-2l0-19l-0.1-1l-1.5-2l0.1-9l1.4-0.5l12 0l3.2-0.5zM63.6 6l0.1 3l2.3 0.5l3.2-0.5l0.2-2l-0.4-1.4l-5 0zM106.9 0.8l4 0l3 1.2l0 9.9l-2 0.2l-7-0.2l-0.1-9.9l1.8-1zM132.9 0.9l1-0.5l6-0.1l4 1.2l5-0.8l8 0.6l4-1l10 0l10 0.8l2.8 0.9l0.5 10l-0.9 4l-0.9 2l-2.2 3l-1.3 3l-1.8 2l-1.2 3l-1.7 2l-0.8 3l-0.4 1.9l-0.8 1l-0.3 2.2l-1.6-4.1l-0.2-2l-0.7-1l-0.3-2l-6.5-5l-4.1-1l-0.2-1l-2.4-3.9l-0.1-6.1l-0.9-0.9l-11 0l-0.8 0.9l-0.5 6l-0.7 0.3l-1.9-0.3l-1.1-6.2l-6-0.4l-0.4-0.4l-0.4-9l0.7-2zM119.9 1.7l2-0.6l2 0.1l1 0.5l-0.1 9.3l-4.9-0.1l-0.1-8.9zM227.8 1.6l7-0.1l1.1 0.5l0.1 25l-0.2 1l-1 0.3l-5 0l-1.2-0.3l-0.8-1l0-12l-0.5-3l0.1-10zM214.8 8.3l6 0.2l0.8 0.5l0 5l-0.8 1.6l-5 0.2l-0.7-0.8l-0.3-3.9l-0.8-1.1l0.1-1z"/>
<path fill="#8AE1FF" d="M139.9 1l2.7 1l-0.1 14l-0.6 0.8l-2-0.2l-0.5-3.6l-0.5-0.6l-6.1-0.4l-0.4-10l0.5-0.7l1-0.2l5.6-0.1zM160.9 0.9l10 0l10.3 1.1l0 16l-1.8 2l-0.5 1.4l-2.4 2.6l-3.1 6l-0.2 2l-0.3 2.3l-1 1.7l-0.5-3l-0.8-1l-0.2-2l-0.5-0.6l-4-3.8l-2-1.1l-4.4-0.5l-1.9-3l-0.4-18l0.2-1l3.1-1zM16 1.9l2-0.5l7 0.1l0.4 8.5l1.6 2.5l4 0.5l1-1l0.1-2l0.9-1.7l0.4 0.7l-0.3 22l-0.8 2l-0.2 3.9l-0.6 1l-0.1 3l-1.4 5.4l-5 0.1l-1.4-0.5l-0.2-3l-0.8-1l-0.2-2l-0.8-1l-0.2-2l-0.8-1l-0.2-1.9l-0.8-1l-0.2-3l-0.8-1l-0.2-3l-0.8-1l-0.1-3l-0.7-1l-0.4-17l-0.6-2zM37 1.8l5-0.7l5 0.7l3-0.7l6 0.3l0.8 0.6l-0.3 7l0.5 0.5l12.2 0.5l0.1 22l-2.3 0.5l-1.4-0.5l-0.2-1l-1.9-2l-0.1-1l-6.8-8l0-4l-0.6-0.9l-0.8 0.9l-0.6 4l0 4l-1.1 6l0 4l-0.1 2.9l-1.4 2.3l-2.4-4.2l-0.4-10l-0.7-2l-0.1-14l-0.4-1.4l-0.4 1.4l-0.1 11l-0.9 1l-0.2 2l-0.8 1l-0.2 2l-0.8 1l-0.2 2l-2 4l-3.4 1.1l-0.3-2.1l-0.8-1l-0.1-5l-1.2-2l-0.1-1l0.2-21zM105.9 1.8l4-0.4l2.4 0.6l0.1 6l-0.5 1.4l-6 0l-0.4-3.4l0.1-4zM120.9 1.9l3.2 0.1l0.2 5l-0.4 1.4l-3 0l-0.3-0.4l0.1-6zM145.9 1.8l5-0.4l5.3 0.6l0.3 7l-0.6 1.4l-10 0l-0.5-1.4l0.2-7zM228.8 3.6l3-0.1l1.4 0.5l0.1 7l-0.5 1.4l-3 0.1l-1.3-0.5l0-8zM6 4.6l6 0l0.5 1.4l-0.5 7l-0.8 1l-0.2 2l-0.8 1l-0.2 2l-0.7 1l-0.1 15l-0.7 1.9l-0.1 8l-0.1 1l-0.7 1l-0.2 5l-0.2 2l-0.4 0l-0.3-3l-0.9-1l-0.2-7l-0.8-1l-0.2-20.9l-0.9-3l0.1-8l0.8-1l0.2-2l1-2zM214.8 9l6 0l0.3 4l-0.4 2l-4.9 0l-0.3-4l-0.8-1l0.1-1zM230.8 17.6l2 0l0.4 0.4l0.1 7l-0.5 1.3l-2 0l-0.4-0.3l0-8z"/>
<path fill="#6EB9FF" d="M18 1.9l6.6 0.1l0.6 8l1.8 2.8l1.7 0.2l0.9 1l-0.2 9l-0.8 1l-0.2 6l-0.8 1l-0.1 2l-0.5 1.2l-2.4-2.2l-0.2-4l-0.8-1l-0.2-4l-3.4-1.6l-2.3-2.4l0-17zM39 1.9l4-0.4l1.4 0.5l0.2 1l-0.1 16l-0.1 1l-0.8 1l-0.2 4l-0.4 0.4l-1 1l-1 0l-2-1l-0.9-2.4l0.6-21zM49 1.8l3-0.5l4.1 0.7l-0.1 5.3l-6 0.1l-1.6-2.4l0.1-3zM106.9 1.9l4.2 0.1l0.2 3l-0.4 1.4l-4 0l-0.4-1.4l0.2-3zM132.9 1.6l5-0.3l4 0.7l-0.1 14l-0.9 0.1l-1-0.5l-0.1-2.6l-0.9-1.3l-5 0.1l-0.8-0.8l-0.5-9zM147.9 1.9l4.3 0.1l0.2 4l-0.5 1.4l-3 0.1l-1.4-0.5l0.1-5zM158.9 1.8l2-0.5l9-0.1l6.3 0.8l0.1 12l-0.8 1l-0.2 4l-0.8 1l-0.2 3l-0.8 1l-0.6 2.4l-2 0l-1.7-3.4l-2.3-3l-7-0.6l-0.4-0.4l-1.1-5l0.1-12zM9 7.6l1.4 0.4l0 2l-0.4 0.4l-1.4-0.4l0-2zM215.8 9.8l3-0.2l1.3 0.4l-0.3 4.3l-3.2-0.3l-0.2-3l-0.7-1zM51 14.6l2 0l0.9 2.4l-0.3 10l-0.6 1.4l-1 0.1l-1.8-1.5l-0.2-9l0.6-3zM59 14.6l7 0l0.3 0.4l0.2 2l-0.2 4l-0.3 0.4l-7-0.1l-0.5-1.3l0.1-5zM6 15.6l1 0l0.5 1.4l0 12l-0.5 1.3l-1 0l-0.4-1.3l0-13z"/>
<path fill="#5A91FF" d="M41 1.9l2.2 0.1l0.2 5l-0.4 1.4l-2 0l-0.4-0.4l0.1-6zM50 1.7l3.7 0.3l0.1 3l-0.8 0.8l-3-0.1l-0.7-0.7l0-3zM132.9 2l5-0.4l1.5 0.4l0 7l-0.5 1l-1 0.6l-4-0.2l-0.4-3.4l-0.6-1l0-4zM159.9 1.9l10-0.3l3.3 0.4l0.1 12l-0.8 1l-0.2 2l-0.8 1l-0.6 2.5l-1 1.7l-0.5-1.2l-1.5-1.5l-2-0.4l-3-1.5l-2.3-0.6l-1.1-4l0-11zM21 5.6l3-0.1l0.4 0.5l0.3 4l1.3 2.3l2.4 1.7l0 5l-0.4 1.4l-6 0.1l-1.4-0.5l0-14zM39 15.7l2-0.1l0.4 0.4l0.1 6l-0.5 1.4l-2.2-0.4l0-7zM51 16.7l1-0.2l1.1 0.5l-0.1 10.2l-2-0.2l-0.2-10z"/>
<path fill="#2605FF" d="M51 1.9l2 0.3l0 2.7l-1 0.2l-2-0.2l0.2-2.9zM133.9 1.9l4.5 0.1l0.1 6l-0.6 1.3l-2-0.9l-1.3-1.4l-0.3-2l-0.7-1l0.1-2zM160.9 1.9l10.3 0.1l0.1 8l-0.8 1l-0.2 4l-0.9 1l-0.1 1l-0.2 1l-0.5 0l-0.2-2l-0.9-1l-0.2-1l-5.8-6l-0.2-3l-0.8-1l0.1-2z"/>
<path fill="#F8FFE8" d="M72.9 1l11 0.5l7-1.3l7 0.1l6 1.2l0.2 10.5l0.8 0.8l1 0l8 0l0.8-0.8l0.1-10l1.1-0.5l2 0l1.1 0.5l0.1 9l0.8 0.8l5 0l0.8-0.8l0.2-9.3l2-0.6l3 0l1 0.6l0.3 10.3l0.7 0.7l5 0.4l0.6 0.9l0.6 5l0.8 0.8l1.2 0.2l0.4 1l0 48.9l-0.6 1.4l-5 0.2l-0.5 1.4l0 54.9l0 12l-25 0l0-66.9l-0.5-1.4l-3-0.1l-1.2-0.5l-0.1-43.9l-0.7-1.1l-20-0.5l-0.5-1.4l-0.1-9l-1.4-0.5l-1 0.1l-0.4 1.4l-0.2 12l-1.4 0.5l-7 0l-1-0.5l-0.5-26l0.5-0.9l1-0.1zM186.9 0.8l8-0.5l3 0.8l12.9 0.1l0.8 0.8l0.2 8.9l1.8 1.1l0.1 1l-0.1 31.9l-0.8 0.8l-1.1 0.2l-0.3 1l-0.1 16l0.5 1.4l8 0.1l1.1-0.5l0.1-46.9l0.8-2.5l1-0.4l4 0.2l0.5 0.7l0.4 13l1.7 1l0.1 1l-0.2 109.8l-14 0l0-48.9l-0.9-1l-0.1-5l-1.2-2l-0.5 0l-0.3 4l-0.9 1l-0.1 3l-0.9 1l-0.1 8l0 5.9l-0.9 1l0 1l-0.1 32l-1.9 0l-0.1-54.9l-1.9-3l-0.1-2l-2.9-5l-0.1-2l-1.4-1.4l-3 0l-0.4 0.4l-1.2 5l-0.8 1l-0.2 3l-0.8 1l-0.2 2l-0.8 1l-0.1 1l0 46.9l-0.1 1l-0.8 1l-0.1 5l-22 0l0-74.9l1.9-1l0.1-1l0.1-23l2.4-8.9l1.8-2l1.2-3l1.8-2l1.2-3l1-1.2l1-0.3l4.5-0.5l-1.5-0.2l-0.8-0.8l0-10l-0.8-3l0.1-3l0.5-0.8l1.6-0.2zM214.8 0.6l7-0.3l1.5 0.7l0.7 1l-0.5 4l-0.2 1l-1.1 1l-6.4 0l-1.3-1l-0.8-5l0.7-1zM241.8 0.6l2-0.4l36 0l0 2.2l-0.6 0.6l0 13l-0.6 16l-0.5 2l0 35.9l-0.3 1.3l-2 0.3l-0.5 1.4l0 66.9l-3.5 0l-38.5 0l0-66.9l0.1-1l1.8-1l0.1-1l0.2-39.9l1.1-2l0.1-1l0-25l4.3-1zM254.4 101.9l-0.1 30.9l0.5 1.4l1.4-0.4l0.1-30.9l-0.5-1.4l-1 0zM26 1.6l1-0.4l3-0.1l2 0.4l0.3 5.5l-0.1 1l-0.8 1l-0.2 3l-1.2 0.3l-3-0.4l-1.2-2.9l0-7zM1 12.4l0.6 0.6l0.1 1l0 20l-0.1 1l-1.6 0.9l0-23.8zM143.9 12.6l11 0l0.5 1.4l0.1 6l2.5 4l0.9 0.9l4 1l2 1.9l1 0.2l1.4 2l0.1 32.9l0.1 1l0.9 1l0 74.9l-8 0l0-61.9l-0.1-6l-1.4-0.4l-0.5 1.4l0 66.9l-14 0l0-66.9l-0.1-1l-1.9-1l-0.2-6l0-43.9l1.1-2l0.3-6zM95.9 64.4l1.3 0.5l0.3 6l1.8 1l0.2 3l0.8 1l0.2 4l0.8 1l0.2 7l0.8 1l0.1 25.9l1 3l0 22l-14.5 0l-7.5 0l0-18l1-3l0-13.9l0.1-1l0.8-1l0.2-3l0.8-1l0.2-3l0.8-1l0.2-3l0.8-1l0.2-3l0.8-1l0.2-3l0.8-1l0.2-3l0.8-1l0.2-3l0.8-1l0.2-2l0.9-1l3.9-1l0.2-6zM12 95.5l2 0l0.5 1.4l0 16.9l-0.5 1.4l-1.4-0.4l-0.1-11.9l-0.1-1l-0.8-1l0-5zM1 115.4l2 0l0.5 1.4l0 23l-0.5 0l-2.5 0l0.1-24z"/>
<path fill="#F3F2B8" d="M90.9 0.8l7 0l3 0.6l0.9 0.6l0.1 12l3.4 1l0.1 9l-0.5 1.1l-3 0.1l-2.3-0.2l-0.2-1l-0.1-5l-1.4-3l-1.7-2l-2.3-0.2l-1-0.7l-1 3.3l-4 0.1l-1.3-0.5l0-14l3.5-1zM190.9 0.8l4 0l4 1l11.9 0.3l0.3 8.9l1.7 1l0.2 1l0 30.9l-0.2 1l-3 0.4l-0.3-0.4l-0.3-3l-2.3-1.5l-1.5-1.5l-0.1-3.9l-0.9-1l-0.1-4l-0.9-1l-0.1-4l-0.9-1l-0.5-2.4l-0.6 1.4l-1.4 0.6l-3 2.6l-7-6.8l-2-1.2l-2-0.3l-0.3-10.9l-0.7-1.1l0-3.7l2-0.8l3.3-0.4zM215.8 0.9l6 0l1.8 1.1l-0.9 5l-0.9 0.8l-6-0.1l-0.7-0.7l-1-5l1.6-1zM242.8 0.9l13-0.4l24 0.3l0 0.6l-1 0.7l-0.1 0.9l-0.1 14l-0.7 15l-3.1 0.6l-3.6 7.3l-0.4 0.4l-4 0.3l-1 2.8l-1.4 2.5l-0.2 2l-1.8 3l-0.6 2.3l-4.4-8.3l-0.6-2.3l-7-0.1l-1 0.8l-2 0.2l-1 0.8l-2 0l-0.4-0.4l-0.2-3l-0.8-1l-0.2-6.9l-0.8-1l-0.2-7l-0.8-1l-0.1-1l-0.1-20l0.2-1l2.2-1zM27 1.6l3-0.1l1.2 0.5l0.7 1l0 4l-0.9 2l-0.1 2l-0.9 0.8l-2-0.2l-1.3-1.6l-0.7-5l0.3-3zM71.9 1.9l8.4 0.1l0.2 10l-0.6 3.4l-7 0.1l-1-0.4l0-13.1zM127.9 1.8l3.3 0.2l0.5 10l2.7 2l0 9l-1 2l-0.1 5l-0.8 1l-0.4 5.9l-0.4 0l-0.3-2.9l-0.9-1l-0.2-2l-0.8-1l-0.3-9l-0.8-1l-0.5-3.6l-0.7-1.4l1.2-2l-1-3l0.2-8zM1 12.8l0.3 1.2l0 20l-0.1 1l-1.2 0.4l0-22.9zM144.9 12.9l9 0l1 0.9l0.4 16.2l-0.8 1l-0.2 2l-0.8 1l-0.2 1.9l-0.8 1l-0.1 1l-0.5 1.4l-4 0l-2.4-4.3l-0.2-2l-1.7-3l-0.2-9l0.5-7.2l0.8-0.8zM222.8 14.8l3 0l1 0.8l0.6 12.4l1.4 2l0 40.9l-1.4 1l-0.2 3l-0.8 1l-0.1 8l-0.1 1l-0.8 1l-0.1 7l-0.5 2.2l-1.4-2.2l-0.1-9l-1-3l0-8l-1-3l0.4-7l-0.1-44.9l0.2-2l0.7-1zM119.9 19.7l2.5 4.3l0.1 1l-0.1 33.9l-0.5 1.4l-5 0.1l-2.4-0.5l-0.1-19l1-3l0.1-8.9l0.8-1l0.2-2l1.8-3l0.2-2l1.1-1zM186.9 31.7l0.6 5.2l0.8 1l0.1 1l0 31l-1.1 3l-1.4 0.4l-1.4-2.4l-0.1-1l0-16l1-3l0.1-15l0.9-0.9l0.2-3zM113.9 75.6l2 1.7l1.5 0.6l0.9 1l0.1 1l0 55.9l-0.5 1.4l-4 0l-0.5-1.4l0.2-59.9z"/>
<path fill="#F0A773" d="M254.8 0.8l23 0.1l0.5 0.1l0.3 1l-0.1 12l-0.7 9.1l-6.5 9.9l-0.5 0.4l-5 0.1l-1 0.9l-4 0l-1-0.9l-5-0.2l-4.4-8.3l-0.3-2l-2.3-1.7l-2 0.3l-2-0.7l-0.9-0.9l-0.3-3l-1.2-4l-0.1-11l2.5-0.9l10.1-0.1zM27 2l3.1 0l0.4 2l-0.5 1.4l-3 0l-0.1-3.4zM88.9 1.8l2-0.7l6 0l3 0.3l1.2 0.6l0.2 14l-1.2 2l-1.2-1l-1.5-3l-3.5-1l-4.4-3l-1.1-2l0-6zM186.9 1.9l4-0.7l3-0.1l3.4 0.9l0.2 8l-0.6 2.4l-10 0l-0.5-7.4l0.3-3zM214.8 1.5l3-0.4l5 0.4l0.5 0.5l-0.5 1l-0.4 4l-0.6 0.6l-6-0.1l-0.5-0.5l-0.4-4l-0.5-1zM77.9 8.6l1.4 0.4l-0.4 3.4l-1.3-0.4l0-3zM203.9 9.7l2.4 2.3l0.1 1l2.7 3l0.3 3l1.8 1l0 9l-1.4 0.3l-0.3-0.3l-0.2-6l-1.4-0.6l-1.5-1.4l-0.1-1l-1.9-2l-2.8-6l1.9-2zM0.1 13l0.8 1l0 19l0 1l-0.9 1l0-22zM128.9 14.6l1 0l1 0.8l2.3 0.6l0.1 6l-0.4 1.3l-2 0.1l-0.3-0.4l-0.2-2l-0.8-1l-0.2-2l-1.1-3zM144.9 16.6l5 0l1.4 1.4l0 6l-1.4 1.4l-1 0.2l-2 1.6l-1.4-1.2l-0.9-2l0.1-7zM222.8 17.6l3-0.1l0.7 0.5l0.6 10l0.6 2l-0.5 12.9l-0.8 1l-0.2 3l-0.9 1l-0.1 1l-0.1 1l-0.5 0l-0.4-4l-0.8-1l-0.2-6l-0.7-1l0.1-19.9zM119.9 23.6l1.3 0.4l0.1 2l-0.4 1.3l-1.4-0.3l0-3z"/>
<path fill="#F27457" d="M89.9 1.6l7-0.2l3.6 0.6l0.1 9l-0.9 2l-0.8 0.8l-1-0.1l-6.5-2.7l-2.1-3l0-6zM188.9 1.7l6-0.3l1.6 0.6l0.1 8l-0.7 0.8l-6 0l-0.8-0.8l-0.2-4l-0.8-1l0.1-3zM214.8 1.8l3-0.5l4 0l1 0.5l-0.6 5.2l-1.4 0.4l-5-0.2l-1.2-5.2zM242.8 1.6l13-0.5l22 0.1l0.6 0.8l-0.6 18.7l-1 2.6l-2 2.1l-1.5 0.6l-4.5 2.4l-2 0.2l-1 0.8l-2 0.2l-1 0.8l-1 0l-1-0.8l-4-0.2l-1.4-1.4l-0.6-1.5l-5-5.1l-2-1l-2 0.3l-2-0.3l-0.4-0.4l-0.6-7l-0.8-3l0.1-8zM223.8 24.6l2-0.1l0.5 0.5l0.7 5l-0.7 1l-0.1 2l-1.4 0.5l-1.3-0.5l0-8z"/>
<path fill="#FF3E42" d="M89.9 2l5-0.4l4.8 0.4l0.4 8l-1.2 2.9l-1.8 0.1l-3.2-1.7l-2-0.5l-2-2.8l0-6zM189.9 1.9l4-0.2l2 0.3l0.2 7l-0.2 1l-1 0.2l-5-0.3l-0.2-3.9l-0.9-1l-0.1-1l0.3-2zM215.8 1.5l6 0l1 0.5l-1 5.1l-6-0.1l-0.9-5zM242.8 1.9l13-0.6l22 0.2l0.4 0.5l-0.4 15.9l-1 2.6l-2 1.9l-1.5 0.6l-4.5 2.4l-5 0.2l-1 0.6l-1-0.6l-3-0.2l-1-0.8l-3-0.3l-1.5-2.3l-0.5-2.3l-5-0.3l-1 0.6l-2.4 0l-0.6-0.7l-0.3-6.3l-0.8-3l-0.1-8z"/>
<path fill="#DC2633" d="M90.9 2l7.2 0l0.3 6l-0.1 1l-0.9 1l-0.5 0.4l-2 0.1l-2-1l-2.3-4.5l0.2-3zM190.9 2l4.1 0l0.2 6l-0.3 1.3l-3.4-0.3l-0.2-4l-0.8-1l0.2-2zM215.8 1.7l6.6 0.3l-0.3 4l-0.3 0.7l-0.9 0.3l-4.1 0l-1-0.8l-0.5-4.2zM243.8 1.9l12-0.3l22 0.1l0 13.3l-1 3.5l-2 1.9l-3 0.2l-1 0.8l-3 0.2l-1 0.8l-5 0.2l-1 0.7l-1-0.7l-5-0.3l-0.5-2.3l-0.8-1l-0.3-3l-1.9-2l-1.5-1l-5-0.1l-0.9-0.9l-0.6-7l0.3-3z"/>
<path fill="#A61A28" d="M215.8 1.9l6.2 0.1l-0.2 4.2l-5 0.2l-1-1l-0.1-3.4zM254.8 1.8l22.9 0.2l-0.1 12l-0.8 1.7l-2.1 0.3l-0.9 0.7l-3 0.2l-3 1.8l-12 0l-0.7-0.7l-0.1-11l-0.1-1l-0.8-1l0.1-3zM256.7 8l0 3l2.2 0l0-3l-2.1-0.1zM92.9 2.4l3 0l0.7 0.6l0.1 4l-0.9 1l-0.9 0.6l-2.6-1.6l-0.1-4zM244.8 4.3l5 0l0.7 0.7l0 7l-0.7 0.4l-4 0.1l-1.3-0.5l-0.3-7z"/>
</g>
<rect x="0" y="0" width="279.80" height="139.80" fill="none" stroke="#666" stroke-width="1"/>
<path d="M0.00 139.80v7M0.00 0v-7M41.31 139.80v7M41.31 0v-7M82.62 139.80v7M82.62 0v-7M123.93 139.80v7M123.93 0v-7M165.24 139.80v7M165.24 0v-7M206.55 139.80v7M206.55 0v-7M247.86 139.80v7M247.86 0v-7M0 0.00h-7M279.80 0.00h7M0 27.96h-7M279.80 27.96h7M0 55.92h-7M279.80 55.92h7M0 83.88h-7M279.80 83.88h7M0 111.84h-7M279.80 111.84h7M0 139.80h-7M279.80 139.80h7" stroke="#8c8c8c" stroke-width="1" fill="none"/>
<path d="M13.77 139.80v3.5M13.77 0v-3.5M27.54 139.80v3.5M27.54 0v-3.5M55.08 139.80v3.5M55.08 0v-3.5M68.85 139.80v3.5M68.85 0v-3.5M96.39 139.80v3.5M96.39 0v-3.5M110.16 139.80v3.5M110.16 0v-3.5M137.70 139.80v3.5M137.70 0v-3.5M151.47 139.80v3.5M151.47 0v-3.5M179.01 139.80v3.5M179.01 0v-3.5M192.78 139.80v3.5M192.78 0v-3.5M220.32 139.80v3.5M220.32 0v-3.5M234.09 139.80v3.5M234.09 0v-3.5M261.63 139.80v3.5M261.63 0v-3.5M275.40 139.80v3.5M275.40 0v-3.5M0 6.99h-3.5M279.80 6.99h3.5M0 13.98h-3.5M279.80 13.98h3.5M0 20.97h-3.5M279.80 20.97h3.5M0 34.95h-3.5M279.80 34.95h3.5M0 41.94h-3.5M279.80 41.94h3.5M0 48.93h-3.5M279.80 48.93h3.5M0 62.91h-3.5M279.80 62.91h3.5M0 69.90h-3.5M279.80 69.90h3.5M0 76.89h-3.5M279.80 76.89h3.5M0 90.87h-3.5M279.80 90.87h3.5M0 97.86h-3.5M279.80 97.86h3.5M0 104.85h-3.5M279.80 104.85h3.5M0 118.83h-3.5M279.80 118.83h3.5M0 125.82h-3.5M279.80 125.82h3.5M0 132.81h-3.5M279.80 132.81h3.5" stroke="#a8a8a8" stroke-width="1" fill="none"/>
<text x="0.00" y="161.00" text-anchor="middle" font-size="9.7">2004</text>
<text x="41.31" y="161.00" text-anchor="middle" font-size="9.7">2007</text>
<text x="82.62" y="161.00" text-anchor="middle" font-size="9.7">2010</text>
<text x="123.93" y="161.00" text-anchor="middle" font-size="9.7">2013</text>
<text x="165.24" y="161.00" text-anchor="middle" font-size="9.7">2016</text>
<text x="206.55" y="161.00" text-anchor="middle" font-size="9.7">2019</text>
<text x="247.86" y="161.00" text-anchor="middle" font-size="9.7">2022</text>
<text x="-13.5" y="3.40" text-anchor="end" font-size="9.5">0</text>
<text x="-13.5" y="31.36" text-anchor="end" font-size="9.5">200</text>
<text x="-13.5" y="59.32" text-anchor="end" font-size="9.5">400</text>
<text x="-13.5" y="87.28" text-anchor="end" font-size="9.5">600</text>
<text x="-13.5" y="115.24" text-anchor="end" font-size="9.5">800</text>
<text x="-13.5" y="143.20" text-anchor="end" font-size="9.5">1000</text>
<text transform="translate(-42.4 69.90) rotate(-90)" text-anchor="middle" font-size="9.3">Depth (m)</text>
<text x="139.90" y="-15.5" text-anchor="middle" font-size="11.5">(d) Weddell Sea 50-65<tspan font-size="7.5" dy="-4.4">o</tspan><tspan dy="4.4">S Temperature Anomaly</tspan></text>
</g>
<g transform="translate(391.40 223.20)">
<clipPath id="cpe"><rect x="0" y="1.3" width="279.80" height="136.2"/></clipPath>
<g clip-path="url(#cpe)">
<rect x="0" y="0" width="279.80" height="139.80" fill="#E6FFFF"/>
<path fill="#C2FFFF" d="M1 0l97 0l-0.1 26l-2 1.4l-3 0.2l-2 1l-0.5 1.4l0 27.9l-1 3l-0.1 21l-1.4 0.4l-0.5-1.4l0-50.9l-0.5-1.3l-5 1.9l-0.6 2.4l-1 1l-0.4 1l-0.1-15l-0.9-3.6l-5-0.2l-0.7 0.8l-0.1 19.9l0.1 1l0.8 1l0 2l-4.4 1l-0.2 17l-0.9 3l0 15l-0.1 1l-0.9 1l-0.1 9l-1 1l-0.2 9l-0.5 0l-0.1-1l-0.2-10l-0.9-1l0-1l-0.1-11l-0.9-1l-0.1-2l-1.4-2.5l-1-0.9l-3-0.1l-9 0.1l-0.4 0.4l-0.2 3l-2.4 4.4l-2 0l-1-0.8l-2-0.1l-0.9-1.5l-0.1-2l-1.6-5l-0.1-3l-0.9-2l-0.1-3l-0.8-1l-0.3-4l-0.2-0.2l-1.7 1.2l-0.3 2l-0.2-14l-0.8-0.7l-2-0.1l-2 0.1l-0.8 0.7l-0.2 14l-2-3.2l-1.3 2.2l-0.2 8l-0.9 2l-0.1 6l-0.5 1l-0.5 9l-0.5 1l-0.1 10l-0.4 4l-0.5 1l-0.1 11.9l-0.9 3l-0.2 8l-0.8 0.9l-0.9-0.9l0-13l-1-2l0-12.9l-1-2l0-17l-1-3l0-16l-0.7-3l-0.1-37.9l-3.3-0.8l-2 0l-1 0.8l-0.4 26.9l0.4 2l0.1 6l-0.6 2l-0.1 3l-1.8 3l-0.2 2l-1.4 2.5l-1 0.9l-3 0.1l0-61.4zM51.6 13l0 11l2.4 0.5l3-0.1l0.3-0.4l0-11l-1.3-0.5l-4 0.1zM132.9 0l8.5 0l0.5 0.5l13 0.7l4 0.8l0 28l-1.8 3l-0.2 2l-5.8 10.9l-0.2 3l-0.8 1l-0.2 4l-0.8 1l-0.2 3l-0.8 1l-0.2 3l-0.7 1l-0.2 3l-0.7 1l-0.4 3.5l-1 0.9l-2.4 0.6l-0.2 7l-1.4 0.5l-1.3-0.5l-0.1-1l-0.3-12l-0.3-0.6l-4 0.1l-1.4-0.5l-0.1-29l-0.9-2.9l0-33zM230.8 1.6l1-0.4l3 0l1.5 0.8l0.1 11l-0.6 1.4l-4 0l-1-0.9l-0.2-11.5zM242.8 1.7l4 0l0.5 2.3l-0.5 1.4l-4 0l-0.5-1.4l0.2-2zM215.8 10.8l1-0.7l1 0l1 0l1 0.7l0.1 5.2l-0.8 1l-1.5 0l-0.8-0.7l-0.1-2.3l-0.9-1.4l0-1.6zM114.9 12.7l5-0.2l1.4 0.5l0.1 8l-0.5 1.4l-4 0.1l-1.4-0.5l-0.2-8l-0.6-1zM191.9 18.6l2 0l0.3 0.4l0.2 3l-0.5 1.4l-1.4-0.4l-1-2l0-2zM199.9 30.6l3 0l0.6 0.4l-0.4 1l-0.1 8.9l-1.8 5l-0.1 1l-0.5 0l-0.3-4l-0.8-1l0-10.9z"/>
<path fill="#8AE1FF" d="M1 0l6.5 0l-0.3 33l-0.8 2.9l0 13l-0.4 0.4l-2 0.1l-2.4-0.5l-0.1-17.9l-1-3l0-28zM16 0l30.5 0l0 28l-1 3l0 14.9l-1 3l0 15l-0.1 1l-0.8 1l-0.2 3l-2.5 4l-0.4-4l-0.7-1l-0.3-5l-0.9-2l-0.2-4l-0.8-1l-0.2-6l-0.8-1l-0.3-5l-0.7-1l-0.4-3l-0.7-1l-1.3-4.9l-0.7-1l-1.3-4l-1.2-1.3l-4.4 8.2l-0.2 4l-0.8 1l-0.1 1l-0.1 10l-0.8 1l-0.2 9l-1 3l-0.2 11l-0.8 2l-0.2 13l-0.7 2l-0.3 4l0 10.9l-0.2 1.4l-0.7 0.6l-0.2 2l-0.1 7.9l-0.3-13.9l-0.9-0.9l0-1l-0.1-13l-0.9-1l0-1l-0.1-17l-0.9-3l-0.5-68.9zM50 1.6l4-0.1l1.3 0.5l0.2 7l-0.5 1.4l-4 0.1l-1.4-0.5l0-8zM139.9 1.6l8-0.2l7.2 0.6l0.3 20l1 3l-0.1 1l-0.8 1l-0.4 8l-0.5 0l-1.1-2l-0.6-2.4l-4 0l-0.6 2.4l-0.8 1l-0.2 2.9l-0.8 1l-0.2 2l-0.9 1l-0.5 3.3l-0.6-4.3l-0.8-1l-0.3-5.9l-0.7-1l-0.3-2l-1.3-2.5l-1-2l-0.6 1.5l-0.2 29.9l-1.2 0.5l-2-0.1l-0.5-1.4l0-24.9l-1-3l0-21l0.5-1.4l4-0.1l0.4-0.5l0.2-3zM231.8 1.9l3.3 0.1l0.2 10l-0.5 1.3l-2 0.1l-1.2-0.4l0-11zM78.9 5.6l5-0.1l1.4 0.5l0.1 11l-0.5 1.4l-5-0.2l-0.6-9.2l-0.8-1l0.1-2zM216.8 10.8l2.3 0.2l-0.3 4.4l-1.2-0.4l-1-4zM64 12.6l3 0l0.5 1.4l0 25.9l-0.5 1.4l-3 0l-0.4-0.4l0-27.9zM90.9 14.6l4-0.1l1.4 0.5l0.1 6l-0.5 1.4l-4 0.1l-1.4-0.5l0-7z"/>
<path fill="#6EB9FF" d="M17 0l23.5 0l0.1 1l0.8 1l0.2 5l0.8 1l0.2 6l0.8 1l0.1 1l0 20.9l-0.1 1l-0.8 1l-0.1 6l-0.1 1l-0.8 1l-0.1 4l-0.5 1.3l-1.4-1.3l-0.2-3l-0.8-1l-1.2-5l-1.7-3l-1.2-4.9l-0.8-1l-1.2-4l-1.5-3l-1.1 0l-1.4 1l-4.9 5l-0.2 3l-0.8 0.9l-0.2 2l-0.8 1l-0.2 3l-0.8 1l-0.2 3l-0.8 1l-0.2 4l-0.9 1l-0.3 2l-0.5 0l-0.3-8l-0.8-1l0-1l-0.5-43.9zM141.9 1.9l7 0l0.6 1.1l-0.2 18l-0.8 1l-0.2 3l-0.8 1l-0.2 3l-0.8 1l-0.6 2.5l-0.5 0.5l-0.3 2l-0.4 0l-0.4-3l-0.7-1l-0.3-4l-0.8-1l-0.2-4l-0.8-1l0.1-19z"/>
<path fill="#5A91FF" d="M17 0l20.5 0l0.1 5l0.8 1l0.1 1l-0.1 14l-2.8 3l-0.6 1.4l-7 0.1l-2 1.9l-4.4 4.6l-0.2 2l-0.8 1l-0.2 2.9l-1.4 1.3l-0.3-0.3l-0.3-5.9l-0.8-1l-1-9l0.2-23zM144.9 2.7l3.3 0.3l0.1 7l-0.4 1.4l-2 0l-1.4-1.4l0-7z"/>
<path fill="#2605FF" d="M24 0l8.9 0l0 19l0 1l-0.9 0.9l-6 2.3l-3 2.7l-1 0.3l-3 2.6l-1-0.9l-0.6-0.9l-0.3-8l0.1-1l1.9-3l2.9-3.6l0.1-7.4l0.9-1.5l0-2.5z"/>
<path fill="#3A00FF" d="M24 0l8.4 0l0 19l-0.4 1.3l-6 2.2l-3 2.8l-1 0.2l-3 2.6l-1-0.8l-0.4-8.3l0.1-1l1.8-2l0.2-1l2.8-3l0.1-7l0.1-1l0.8-1l0.1-3z"/>
<path fill="#F8FFE8" d="M98.9 0l32.4 0l0.1 135.8l-0.5 1.4l-19 0.1l-1.5-0.5l-0.1-68.9l-1.4-0.5l-10 0l-0.4-0.5l0.2-66.9zM112.1 6l-0.3 4l0.1 1l0.8 1l0.2 15.9l9.8 0.1l0.4-1l-0.2-20.8l-10-0.4zM170.9 0.7l5-0.4l2.2 0.7l5.8 0.5l4-1.1l5 0l3 1l6 0.1l3-1.1l5.9 0l3 0.7l2-0.8l4-0.1l3 0.3l2 1l4 0l1.1 0.5l0.1 8l0.5 4l1.1 1l0.1 1l-0.9 6l0 3l1 0.5l4-0.4l0.2-4.1l0.9-2l0.9-1l1 0l1.4 2l1.6 0.2l0.8 0.8l0.2 4.1l8 0.4l1-0.1l0.5-1.4l-0.5-15l0.5-7l0.5-0.5l2-0.7l7-0.6l18 0l0 139.6l-54.5 0l0-66.9l-0.5-1.4l-1-0.1l-1 0.1l-0.5 1.4l0 66.9l-10 0l0-48.9l-0.1-19l-0.4-0.4l-7.9-0.2l-0.5-0.4l0-26l0.4-11.9l0.8-2l-1.2-2l-0.2-12l-0.3-1.1l-1-0.4l-12 0.5l-0.5 2l0 51.9l0.5 1.4l3 0.2l0.4 0.4l0.2 5l0.8 1l0.1 1l0 60.9l-35 0l0-66.9l-0.5-1.4l-2-0.1l-4 0l-1.4 0.5l-0.1 67.9l-4 0l-0.1-68.9l0.6-7.6l0.8-1.4l0.2-3l0.8-1l0.2-3l0.8-1l0.2-4l0.8-1l0.2-3l5.8-10.9l0.2-2l1.8-3l0.1-28l1.1-0.5l8 0l1.5-0.5zM215.8 10l-0.5 2l0.9 2l0.3 3l1.3 0.5l2.4-0.5l0.2-5l-0.6-1.9l-4-0.1zM168.5 71.9l-0.1 52.9l0.5 1.4l1.4-0.4l0.1-52.9l-0.5-1.4l-1 0zM74.9 16.8l3.4 0.2l0.8 3l0.3 80.9l-0.1 1l-0.8 1l-0.1 6.9l-0.5 1.4l-3 0l-0.5-1.4l0-66.9l0.4-3l-1-3l0.2-19.9zM9 41.6l3 0l0.5 1.3l0 92.9l-0.5 1.4l-2 0l-0.5-1.4l0-81.9l-0.9-3l0.2-9zM30 41.8l2.9 0.1l0.2 1l0.4 92.9l-0.1 1l-1.4 0.5l-3-0.1l-0.5-1.4l0-74.9l0.6-19z"/>
<path fill="#F3F2B8" d="M173.9 0.9l2 0l4 0.9l0.5 1.2l-0.1 17l-0.8 1l-0.2 3l-0.8 1l-0.2 4l-0.8 1l-0.2 3l-1.1 1l-0.3 0.2l-1-0.7l-2.4-2.5l-0.2-2l-1.1-2l-0.3-4l-0.7-1l-0.2-20l0.9-0.6l2.5-0.4zM215.8 0.8l7 0.3l1.1 0.9l0.1 1l-0.8 2l0 5l-0.8 2l-0.1 17l-0.1 1l-0.8 1l-0.2 5.9l-0.8 1l-0.6 6.3l-0.4-4.3l-1-1l-0.1-1l0-3.9l-0.9-1l-0.1-2l-2.5-2.4l-1-0.2l-4.4-3.4l-0.4-2l-0.1-6l-5-0.7l-0.6-1.3l-0.3-13l1.9-0.9l8.9 0.7l1.7-0.8zM215.2 10l-0.2 3l0.8 1.7l0.1 2.3l0.9 0.9l1 0l2 0l1-0.9l0-5l-0.7-2l-4.3-0.3zM260.8 0.9l19-0.4l0 68.9l-4-0.1l-0.6-2.4l-0.8-1l-0.2-3l-0.8-1l-0.2-4l-0.8-1l-0.2-3l-0.9-1l-0.1-11l-0.1-1l-0.3-0.3l-0.3 0.3l-0.2 31l-1 3l0 38.9l-1 3l-0.1 18l-0.4 0.4l-3 0l-0.5-1.4l0-13l-1-3l0-46.9l-0.1-1l-0.8-1l-0.1-3l0-29l0.4-1l-1.9-2.5l-0.5 1.6l-0.1 4.9l-0.8 1l-0.1 49l-1 3l0 40.9l-0.5 1.4l-4 0.1l-1.4-0.5l-0.1-48.9l-1-3l0-23l-1-3l0-21.9l-1-3l0.5-1.4l4-0.1l1.1-0.5l-0.1-3l-0.8-1l-0.2-4l-0.7-1l-0.1-8l-0.7-2l0-3l0.6-1l0.2-3l0.9-2l0.8-0.5l5.8-0.5zM268.6 34l-1.6 1.9l0.8 0.5l2 0l0.4-1.4l-0.4-0.9l-1-0.6zM120.9 1.2l3 0l0.8 0.8l0.2 1.2l2.4 0.8l0.1 10l-1 3l-0.1 23.9l-0.8 1l-0.2 2l-2.8 5l-0.2 2l-1.8 3l-0.2 2l-0.8 1l-0.2 2l-0.8 1l-0.2 2l-0.9 1l-0.2 2l-0.5 0l-0.3-2l-0.9-1l-0.2-3l-0.8-1l-0.2-2l-0.8-1l-0.2-3l-10.8-11l-0.1-8.9l-1-3l0-15l-0.1-1l-0.8-1l-0.1-7l0.5-1.4l1-0.1l17 0l1-0.3l0.2-1.2zM111.4 6l0.1 5l0.6 2l0 15l0.8 0.7l8 0.1l2.7-0.8l0.1-22l-0.8-0.5l-3-0.3l-8 0zM185.9 1.7l2-0.6l4 0l3.4 0.9l0.1 12l-0.4 1l-1.1 0.2l-4 0.1l-2 1.2l-1.4-0.5l-1.2-4l0.1-10zM160.9 7.6l7-0.1l1.5 0.5l0.1 14l-0.6 2.4l-7 0.1l-1.3-0.5l0-16zM223.8 10.6l5-0.2l1 0.5l0.4 3.1l0.7 1l-0.8 8l0.2 18.9l-0.1 1l-0.8 1l-0.2 10l-0.1 1l-0.5 0l-0.2-3l-1-1l-0.2-10l-0.8-1l-0.2-4l-0.8-0.9l-0.2-4l-0.8-1l-0.2-5l-0.9-1l-0.1-13zM182.9 18.6l4 0l0.5 1.4l0 24.9l-1 3l-0.1 16l-0.4 0.4l-1.4-0.4l-0.2-7l-0.8-1l-0.1-1l0-9l-1-3l0.1-23.9zM237.8 18.6l1.4 0.4l0.6 1.6l2 0.4l0.5 6l0 19.9l-1 3l0 19l-0.1 1l-0.8 1l0.8 1l0.1 6l-0.1 1l-0.9 1l-1.5 0.4l-0.5-1.4l0.1-7l0.9-1l-1-3l-0.1-10l-0.8-1l-0.1-1l0-21.9l-1-3l0.3-9l0.8-3z"/>
<path fill="#F0A773" d="M270.8 0.9l9-0.1l0 37.6l-1 0l-1-0.9l-3-0.1l-2-1l-4-4.2l-2.8 3.7l0.1 1l-1.3 1.3l-1-0.8l-0.2-1.5l-2.8-3.7l-1 0.1l-4-2.3l-0.2-3l-0.8-1l-0.2-4l-0.8-1l-0.2-9l-0.8-1.1l0-2.9l0.8-1l0.2-3l1.1-2l6.9-0.9l8.4-0.1zM121.9 1.8l2 0.3l0.3 1.9l-1.3 0.9l-2-0.2l-0.4-0.7l0.5-2zM170.9 1.8l5-0.5l1.9 0.7l-0.4 17l-0.9 2l0 5l-0.1 1l-1.5 0.9l-2-0.1l-0.8-0.8l-1-9l0.3-5l-0.8-7l0.1-4zM186.9 1.8l5-0.3l2.3 0.5l0.2 11l-0.5 1.3l-7 0l-0.6-3.3l0.2-9zM203.9 1.8l4-0.3l1.5 0.5l0 7l0.4 1.7l3-0.2l1.3 0.5l0.7 8l-1 4.4l-4-0.1l-0.2-6.3l-0.7-1.9l-3 0.3l-1.4-0.4l-0.9-13zM214.8 1.8l1-0.7l4 0l3 0.3l0.8 0.6l-0.9 3l-0.1 5l-0.8 0.9l-1-0.1l-1-1.2l-4-0.1l-0.9-0.5l-0.5-7zM103.9 5.6l6-0.1l0.8 0.5l0.7 7l-0.1 9l-0.8 2l-0.2 3l-0.8 1l-0.1 2l-0.5 1.3l-1.4-0.3l-3-6l-0.1-11l-0.9-2l0-6zM161.9 11.6l4-0.1l1.4 0.5l0.1 6l-0.5 1.4l-4 0.1l-1.3-0.5l0-7zM225.8 11.7l3-0.1l0.6 0.4l0.8 4l-0.4 5.2l-3 0.3l-1.3-0.5l0-9zM237.8 19.7l1 0l0.4 1.3l0.1 2l-0.5 1.4l-1.2-0.4l0.2-4zM123.9 28.6l1.3 0.4l0.1 2l0 2l-0.8 1l-0.6 2.3l-1 0l-0.5-1.3l0-5l0.7-1zM114.9 29.3l4-0.2l0.6 0.9l-0.2 10.9l-0.8 1l-0.2 2l-0.9 1l-0.1 1l-0.1 1l-0.5 0l-0.4-3l-0.8-1l-0.1-10.9l-0.1-1l-0.8-1z"/>
<path fill="#F27457" d="M171.9 1.9l4-0.3l1.4 0.4l0.1 3l-1.1 2l-0.1 4l-1.3 0.5l-3-0.2l-0.3-9.3zM187.9 1.9l5.2 0.1l0.2 10l-0.4 1.3l-4 0.1l-1.4-0.4l0.1-11zM204.9 1.9l3.6 0.1l0.1 8l-0.7 1.5l-2 0l-1.2-0.5l-0.1-9zM215.8 1.3l5 0l2.5 0.7l0 1l-0.8 1l-0.2 6l-0.5 0.5l-1-0.1l-1-1l-4.5-0.4l-0.3-7zM257.8 1.9l4-0.5l18-0.3l0 34.3l-2.5-1.4l-1.5-0.6l-3-2.9l-2-0.9l-1 0l-1 0.8l-3 0l-1-0.8l-2-0.2l-2-1l-2.4-2.4l-0.2-1l-1.8-2l-0.2-4l-0.8-1l-0.2-4l-0.7-1l0-1l0.7-1l0.2-3l0.8-1l0.2-2l0.8-1l0.4-2zM105.9 10.6l3-0.1l1.2 0.5l0.2 9l-1.4 1.4l-2 0.8l-0.2-0.2l-0.4-8l-0.7-1l-0.1-2zM171.9 17.8l2-0.3l1.4 0.5l0 8l-0.4 1.1l-2.1-0.1l-0.4-8l-0.6-1zM211.8 17.6l2 0.1l0 2.6l-2 0.1l-0.3-0.4l0-2z"/>
<path fill="#FF3E42" d="M173.9 1.9l2.8 0.1l0.1 3l-2.9 0.4l-0.5-1.4l0.2-2zM215.8 1.5l5 0l2.1 0.5l0.1 1l-0.8 1l-0.2 6l-1.2 0l-1-0.9l-4-0.1l-0.6-7zM260.8 1.9l19-0.6l0 28.2l-3-1l-2-0.1l-4-3.8l-6-0.2l-2-1l-2-1.8l-1-0.2l-1.4-1.4l-0.2-3l-0.8-1l-0.2-3l-0.7-1l0.7-1l0.2-2l0.8-1l0.2-2l0.8-1l0.2-2l0.9-1z"/>
<path fill="#DC2633" d="M215.8 1.7l6.3 0.3l0.2 1l-0.4 1l-0.2 5l-0.9 0.3l-1-0.7l-3-0.1l-0.8-0.5l-0.5-6zM261.8 1.9l18-0.3l0 22.9l-2-0.1l-1-0.8l-2-0.2l-2-1l-2-1.8l-2-0.2l-1-0.8l-4 0l-3.4-1.6l-0.3-6l-0.7-1l0-1l0.8-1l0.2-3l0.8-1l0.4-3z"/>
<path fill="#A61A28" d="M215.8 1.9l5.5 0.1l0.3 1l-0.8 2.7l-4 0l-1-2.1l-0.1-1.6zM270.8 1.8l9 0l0 21l-2-0.1l-1-0.8l-2-0.2l-0.7-0.7l-0.2-1l-2.8-3l-1-2l0.1-13zM261.8 10.3l5 0l0.7 0.7l0 7l-0.7 0.6l-3 0l-1.6-0.6l-0.3-4l-0.7-1l-0.1-2z"/>
</g>
<rect x="0" y="0" width="279.80" height="139.80" fill="none" stroke="#666" stroke-width="1"/>
<path d="M0.00 139.80v7M0.00 0v-7M41.31 139.80v7M41.31 0v-7M82.62 139.80v7M82.62 0v-7M123.93 139.80v7M123.93 0v-7M165.24 139.80v7M165.24 0v-7M206.55 139.80v7M206.55 0v-7M247.86 139.80v7M247.86 0v-7M0 0.00h-7M279.80 0.00h7M0 27.96h-7M279.80 27.96h7M0 55.92h-7M279.80 55.92h7M0 83.88h-7M279.80 83.88h7M0 111.84h-7M279.80 111.84h7M0 139.80h-7M279.80 139.80h7" stroke="#8c8c8c" stroke-width="1" fill="none"/>
<path d="M13.77 139.80v3.5M13.77 0v-3.5M27.54 139.80v3.5M27.54 0v-3.5M55.08 139.80v3.5M55.08 0v-3.5M68.85 139.80v3.5M68.85 0v-3.5M96.39 139.80v3.5M96.39 0v-3.5M110.16 139.80v3.5M110.16 0v-3.5M137.70 139.80v3.5M137.70 0v-3.5M151.47 139.80v3.5M151.47 0v-3.5M179.01 139.80v3.5M179.01 0v-3.5M192.78 139.80v3.5M192.78 0v-3.5M220.32 139.80v3.5M220.32 0v-3.5M234.09 139.80v3.5M234.09 0v-3.5M261.63 139.80v3.5M261.63 0v-3.5M275.40 139.80v3.5M275.40 0v-3.5M0 6.99h-3.5M279.80 6.99h3.5M0 13.98h-3.5M279.80 13.98h3.5M0 20.97h-3.5M279.80 20.97h3.5M0 34.95h-3.5M279.80 34.95h3.5M0 41.94h-3.5M279.80 41.94h3.5M0 48.93h-3.5M279.80 48.93h3.5M0 62.91h-3.5M279.80 62.91h3.5M0 69.90h-3.5M279.80 69.90h3.5M0 76.89h-3.5M279.80 76.89h3.5M0 90.87h-3.5M279.80 90.87h3.5M0 97.86h-3.5M279.80 97.86h3.5M0 104.85h-3.5M279.80 104.85h3.5M0 118.83h-3.5M279.80 118.83h3.5M0 125.82h-3.5M279.80 125.82h3.5M0 132.81h-3.5M279.80 132.81h3.5" stroke="#a8a8a8" stroke-width="1" fill="none"/>
<text x="0.00" y="161.00" text-anchor="middle" font-size="9.7">2004</text>
<text x="41.31" y="161.00" text-anchor="middle" font-size="9.7">2007</text>
<text x="82.62" y="161.00" text-anchor="middle" font-size="9.7">2010</text>
<text x="123.93" y="161.00" text-anchor="middle" font-size="9.7">2013</text>
<text x="165.24" y="161.00" text-anchor="middle" font-size="9.7">2016</text>
<text x="206.55" y="161.00" text-anchor="middle" font-size="9.7">2019</text>
<text x="247.86" y="161.00" text-anchor="middle" font-size="9.7">2022</text>
<text x="-13.5" y="3.40" text-anchor="end" font-size="9.5">0</text>
<text x="-13.5" y="31.36" text-anchor="end" font-size="9.5">200</text>
<text x="-13.5" y="59.32" text-anchor="end" font-size="9.5">400</text>
<text x="-13.5" y="87.28" text-anchor="end" font-size="9.5">600</text>
<text x="-13.5" y="115.24" text-anchor="end" font-size="9.5">800</text>
<text x="-13.5" y="143.20" text-anchor="end" font-size="9.5">1000</text>
<text transform="translate(-42.4 69.90) rotate(-90)" text-anchor="middle" font-size="9.3">Depth (m)</text>
<text x="139.90" y="-15.5" text-anchor="middle" font-size="11.5">(e) Indian Ocean 50-65<tspan font-size="7.5" dy="-4.4">o</tspan><tspan dy="4.4">S Temperature Anomaly</tspan></text>
</g>
<g transform="translate(391.40 420.70)">
<clipPath id="cpf"><rect x="0" y="1.3" width="279.80" height="136.2"/></clipPath>
<g clip-path="url(#cpf)">
<rect x="0" y="0" width="279.80" height="139.80" fill="#E6FFFF"/>
<path fill="#C2FFFF" d="M1 0l5.8 0l0.1 2l0.9 2l0.2 2.3l0.5 0.7l1.5 0.1l2-0.2l0.2-6.9l9 0l0.1 4l0.7 0.7l2.2-0.7l0.4-4l17.2 0l1.1 10l0.1 17.1l2 2.2l5 0.5l7 0l2-1.2l2-0.1l0.5-0.5l-0.5-28l6.8 0l-0.2 10l-0.5 2l-0.3 40.9l-1 3l-0.1 11l-0.7 0.8l-1 0l-0.8-0.8l-0.1-10l-1.1-3l0-25.1l-0.3 22.1l-0.1 3l-1 1l-0.1 6l-0.1 1l-0.8 1l-0.2 5l-1.8 3l-0.2 2l-1.8 3l-0.2 2l-0.8 1l-0.2 5l-0.8 1l-0.2 5l-1.8 2l-0.2 1l-1.8 2l-0.2 1l-7.4 3.9l-0.2 3.1l-0.8 1l-0.2 1.9l-0.8 0.8l-4-0.2l-1 0.9l-2 0.1l-3 1.9l-2 0.1l-1 0.8l-1 0.1l-1-0.1l-1-0.8l-2-0.1l-1-0.9l-1 0l-2 1l-2 1.8l-3 1.2l-2 1.8l-1 0.2l-0.5 1.4l0 17l-0.1 1l-0.8 1l-0.2 2l-1.4 0.5l-5-0.1l-0.5-1.4l0-15l-1-3l0-23.9l-0.5-1.4l0-92.5zM90.9 0l7.2 0l-0.2 9l-6-0.1l-0.1-7.9l-0.9-1zM104.9 0.5l1-0.4l12.9-0.1l-0.9 1l0.4 5l0.6 0.6l2 0.1l1-0.1l0.9-1.6l0.1-4l-0.9-1l5.3 0l0.1 15l-0.5 4.4l-1 2.6l-1 2l-1.8 2l-1 2l-0.2 2l-1 1l-2-3l-0.2-2l-7.7-8l-1.5-2l-0.2-1l-2.8-3l-0.2-1l-1.4-1.6l-0.2-8.4zM131.9 0l9.6 0l1.4 0.5l4 0.1l0.4 0.4l-0.1 11l-7.3 0.3l-1.2 1.7l-0.2 5l-4.6 0l-1-0.8l-0.6-5.2l0.1-12l-0.9-1zM149.9 0.3l16.8-0.3l2.2 0.1l1.4 0.9l0 9l-0.9 6l-0.4 14l-0.7 1l-1.1 4l-0.7 0.9l-0.3 2l-1.3 2.5l-0.6 1.5l-1.8 2l-0.2 1l-2.4 2.4l-5.2-1.4l-0.4-3l-0.8-1l-0.2-3l-0.8-1l-0.2-2.9l-0.8-1l-0.2-3l-0.7-1l-0.4-24l-0.9-5zM163.5 12l0 7l1.4 0.5l2.4-0.5l0-7l-0.4-0.4l-3 0zM78.9 6.8l1 0.3l0.2 2.9l-0.2 0.9l-1 0.2l-1-0.2l0.1-3.9zM178.9 11.6l2 0l0.3 0.4l-0.3 2.3l-2.4-0.3l0-2zM186.9 14.8l0.5 0.2l0.5 1l0 9l1 0.9l6.6 0.1l0.9 1l-0.1 2l-0.8 1l-0.2 5l-0.8 0.9l-0.4 5l-0.5 0l-0.2-2l-0.9-1l-0.2-2.9l-0.8-1l-0.2-3l-1-2l-3.8-4l0.2-7l-0.8-1l0-2zM78.9 35.6l7 0l0.5 1.3l0 32l-0.1 1l-1.8 1l-0.2 1l-0.8 1l-0.1 12l-1 3l0 11l-1.1 3l0 8.9l-0.1 3l-0.5 0l-0.1-1l-0.2-16.9l-1-3l0-18l-1-3l0.2-1l0.8-1l0-8l-1-3l0.2-23zM199.9 37.6l1 0l0.5 1.3l-0.1 1l-1 1l-0.2 9l-0.5 0l-0.1-1l0-11z"/>
<path fill="#8AE1FF" d="M2 0l4.2 0l0.4 3l0.8 1l0.2 3l1.4 0.8l2 0l1 0l0.8-0.8l0-7l7.9 0l0.1 4l1.2 1l2-0.4l0.4-0.6l0.5-4l16.2 0l1.4 10l0.2 18l2.3 1.8l1 0.3l0.5 0.9l0 6.9l-0.1 1l-0.8 1l-0.2 9l-0.8 1l-0.2 10l-0.8 1l-0.1 1l0 11l-1 3l0 11l-1 3l-0.5 13l-0.8 1l-0.3 1.9l-1.9 0.1l-0.4-1.1l-0.2-5.9l-0.8-1l-0.1-1l-0.1-9l-0.8-1l-0.1-1l0-9l-0.1-1l-0.8-1l-0.2-5l-1.8-3l-0.2-2l-1.4-2.2l-0.6 3.2l-0.8 1l-0.1 1l0 8l-0.1 1l-0.8 1l-0.1 9l-0.1 1l-0.8 1l-0.1 9l-0.1 1l-0.8 1l-0.2 5.9l-0.4 0.4l-2 0l-0.6-2.3l-0.8-1l-0.1-10l-0.1-1l-0.8-1l-0.1-9l-0.1-1l-0.8-1l-0.2-8l-3.4-3.4l-2-0.9l-0.5 1.3l-0.1 4l-0.8 1l-0.2 5l-0.8 1l-0.2 5l-0.8 1l-0.2 5l-0.8 1l-0.2 5l-1 2l-1.9 2l-0.3 1l-0.4 0l-0.4-7l-0.8-1l-0.1-1l-0.1-8l-0.8-1l-0.1-1l-0.1-8l-0.8-1l-0.1-1l0-11l-1-3l0-12l-1-3l-0.4-27.9l0.3-16zM62 0l5.2 0l-1.1 31l0 21.9l-0.1 1l-0.8 1l-0.1 10l-0.1 1.9l-1 0l-0.2-10.9l-0.9-1l-0.1-1l0-22.9l-0.5-4l0-13l-0.6-3l0-11zM92.9 0.8l4.2 0.2l0.2 5l-0.4 1.4l-3 0.1l-1.2-0.5l0.1-6zM105.9 0.8l3.3 0.2l0.2 4l-0.5 1.4l-2 0l-0.4-0.4l-0.2-3l-0.7-1l0.1-1zM150.9 0.4l8 0.3l2-0.6l3 0l5.2 0.9l0.2 9l-0.4 4.4l-1 0.3l-0.1-2.7l-0.9-0.9l-3 0l-0.9 0.9l0 7l0.9 0.9l3 0l1-1.3l0.4 1.4l-0.1 2l-0.7 1l-0.2 2l-0.8 1l-1 2l-0.2 2l-0.8 1l-0.2 2l-0.9 1l-3.5 2.4l-2-0.6l-1-0.8l-5.3-11l-0.8-15l0.2-3l-0.9-5zM111.9 5.6l5-0.1l2 1.5l1 0.1l2-0.1l2-1.5l1.4 0.5l0.1 13l-0.1 1l-1.4 1.5l-0.6 1.5l-1.4 1.3l-5-4.7l-3-0.1l-2.2-1.5l-0.4-2l0.2-10zM133.9 6.6l3 0l0.4 0.4l0.1 5l-0.5 1.4l-3 0l-0.3-0.4l0-6zM192.9 26.7l0.2 0.3l-0.2 0.2l-0.3-0.2z"/>
<path fill="#6EB9FF" d="M2 0.7l3-0.2l0.9 0.5l0.2 2l0.9 1.7l0.1 2.3l1.9 2l8 0.5l4 0l1-0.5l0.1-3l2.5-2l0.4-3.8l14.6-0.2l1.1 1l1.5 9l0.1 18l1.9 2l0.3 4l-0.1 1l-0.8 0.9l-0.1 7l-0.1 1l-0.8 1l-0.2 7l-0.8 1l-0.2 3l-0.8 1l-0.2 3l-1.4 2.3l-2.4-1.3l-0.2-3l-0.8-1l-0.2-5l-0.8-1l-0.2-5l-0.8-1l-0.2-3l-2.4-1.2l-1.4 2.2l-0.1 6l-0.1 1l-0.8 1l-0.2 5l-1 2l-1.4 1.4l-1.4-0.4l-0.2-8l-0.8-1l-0.1-1l-0.1-7l-0.8-1l-0.3-3l-0.7-1l-0.2-2.9l-0.8-1l-0.3-2l-0.3-0.3l-1 0.8l-2.4 2.5l-0.2 2.9l-0.8 1l-0.2 4l-0.8 1l-0.2 4l-0.8 1l-0.2 5l-0.8 1l-0.2 6l-2.4 0.5l-2.4-0.5l-0.2-7l-0.8-1l-0.1-1l-0.1-8l-0.8-1l-0.2-5l-0.8-1l-0.2-3.9l-0.8-1l-0.2-6l-0.7-1l-0.2-5l-0.8-2l0.1-16zM63 0l3.5 0l-0.4 25l-0.7 2l-0.2 3l-1.2 0.3l-1.1-2.3l-0.5-28zM150.9 0.9l6.3 0.1l0.2 13l-0.5 1.4l-4 0.1l-1.1-0.5l-0.5-6l0.3-4l-0.7-1l-0.1-3zM159.9 0.8l3-0.5l3.3 0.7l0.2 6l-0.5 1.4l-5 0.1l-1.4-0.5l-0.1-7zM112.9 9.6l2 0l0.4 0.4l0.1 7l-0.5 1.3l-2.2-0.3l-0.1-8zM118.9 10.6l4-0.1l1.3 0.5l0.1 5l-0.4 1.4l-4 0.1l-1.4-0.5l0-6zM157.9 19.6l3 0l0.4 0.4l0.1 13l-0.5 2.1l-3 0l-0.4-1.1l0-14z"/>
<path fill="#5A91FF" d="M25 0.6l1-0.4l12 0l1 0l1.2 0.8l1.6 10l-0.1 16l0.5 2l-1.6 3l-0.2 3.9l-0.8 1l-0.2 3l-1.4 2.3l-1.6-3.3l-2-3.9l-2.4-2.5l-1 0l-1 0l-1.4 1.5l-0.2 2.9l-0.8 1l-0.6 2.4l-2 0l-1.4-1.4l-0.2-9.9l-0.8-1l-0.1-1l-0.2-16l0.5-5l1.9-2l0.1-3zM64 0l1.7 0l0 7l-0.7 0.8l-1 0l-0.8-0.8l0-7zM160.9 0.7l3.7 0.3l0.1 4l-0.8 0.8l-3 0l-0.7-0.8l0-4zM151.9 7.7l2-0.1l0.4 0.4l0 2l-0.4 0.4l-2-0.1l-0.1-2.3zM6 9.6l4 0.2l1 0.7l4 0.1l2 1l1.4 1.4l0.1 4l-0.1 1l-0.8 1l-0.2 5l-1.4 1.4l-1.5 0.6l-1.5 0.5l-5-0.1l-3.4-3.4l-1.1-5l-0.8-1l-0.1-5l0.4-1.4l2.5-0.6z"/>
<path fill="#2605FF" d="M25 0.9l1-0.4l12 0l1.7 0.5l0.2 7l1 2l0.8 10l-0.8 4l-1.9 3.1l-1 0.7l-3.3-4.8l-3.3-2l-2.4-0.5l-3 1.4l-1 0l-1.9-1.9l0-9l0.9-1.6l0.1-3.4l0.8-2l0.1-3zM64 0l1.1 0l-0.1 6.9l-1 0l-0.2-6.9zM161.9 0.9l2 0.3l0 3.7l-1 0.2l-2-0.2l-0.2-2.9l0.4-1z"/>
<path fill="#3A00FF" d="M26 0.8l13.2 0.2l0.3 8l0.8 1l0.2 5l0.7 1l0.1 4l-0.8 2l-0.2 2l-1 2l-1.5 1l-2.8-4.6l-3-1.9l-2-0.2l-1-0.7l-3 1.7l-1 0l-1.3-1.3l-0.1-8l0.1-1l0.8-1l0.1-4l0.9-5z"/>
<path fill="#F8FFE8" d="M8 0.6l3 0l0.3 0.4l-0.3 4.4l-2 0l-1.3-4.4zM22 0l2.4 0l-0.4 4.1l-2 0.3l-0.4-0.4l-0.1-4zM43 0.6l16-0.1l1.2 0.5l0.1 7l-0.8 2l0 8l-0.1 1l-0.8 1l-0.3 8l-1.3 1l-1 0.1l-9 0l-2-0.6l-0.5-1.5l-0.1-5l-0.7-1l-0.1-12l-0.7-2l-0.2-6zM69 0.1l3-0.1l1.9 0.5l12-0.4l5 0.9l0.2 8l0.8 0.8l1 0l5 0l0.8-0.8l0.2-8.2l4-0.3l1 0.4l0.5 18.1l0.5 0.4l7 0.4l6 6.2l0.2 2l2.8 4.7l1.8-2.7l0.2-2l1-2l1.7-2l1-3l0.7-1l0.2-3l0.4-0.7l4 0l1 3.1l5 0.5l1-0.2l0.4-0.7l0-5l0.6-1l9-0.5l0.7 1.5l0.1 3l0.2 22.9l5.4 8l0.2 5l0.8 1l0.2 5l0.8 1l0.2 5l1.4 0.5l1.4-0.5l1-2l1.2-5l0.8-1l1.2-5l0.8-1l0.2-4l0.8-1l0.2-4l0.8-1l0.3-4l0.7-1l0.6-3.9l0.9-2l0.1-9l0.4-1l0.2-7l0.6-2l0-10l0.9-1l9.1 0l0.7 1l-0.4 6l-1.5 1.5l-4.2 0.5l-0.9 1l0 4l0.9 1l5.2 0.6l1.4-0.6l0.6-2.4l5-0.5l0.2-11.1l0.8-0.8l90.9-0.1l0 139.7l-20 0l-120.4 0l0-52.9l-0.2-2l-1.3-0.5l-4 0.1l-0.5 1.4l-0.1 50.9l-1.4 0.5l-7-0.1l-0.5-1.4l0-63.9l0-1l-0.5-0.4l-1.5 0.4l-0.1 65.9l-1.4 0.5l-5-0.1l-0.5-1.4l-0.1-10l-0.8-1l-0.1-1l-0.1-52.9l-0.4-0.3l-0.4 0.3l-0.1 4l-0.9 1l-0.2 8l-1.4 0.5l-4 0l-1.4-0.5l-0.1-7l-0.1-1l-0.8-1l-0.1-4l-3.9-1l-0.1-49.9l-1.5-0.5l-8 0l-0.4 0.5l-0.1 8l-0.5 1.3l-19.9 0l-0.5-1.3l-0.5-22l-0.9-2l0-3zM230.9 2l0 1l0.9 0.9l0.9-0.9l0-1l-0.9-0.9zM258.8 2l0 1.2l1-0.2l0-1.3l-1 0zM271.9 2l0 2l0.9 0.9l1 0l0.9-0.9l0-2l-0.9-0.9l-1 0zM77.2 7l0 4l0.7 0.8l1 0l1 0l0.8-0.8l0-4l-0.8-0.8l-2 0zM215.5 11l0 1l1.3 2l1-0.3l0-2.5l-2-0.5zM185.1 15l0 2l0.8 1l0 1l-3 0.6l-0.5 1.4l0.1 48.9l1.4 0.5l7 0.1l0.4 0.4l0.1 20l1 3l0 19.9l1 3l0.1 20l1.4 0.5l5 0l2-0.1l0.5-1.4l0-62.9l0-1l0.8-1l0.2-2l0-41.9l-0.5-1.1l-14-0.5l-0.5-1.4l-0.1-9l-0.4-0.7l-2-0.1zM81.2 17l1.7 2.7l0.8-0.7l0-2l-0.8-0.8l-1 0zM209.9 30l-0.2 38.9l0.1 1l1 1l-1 0.4l-0.4 1.6l0 39.9l0.9 3l0.2 15l0.3 0.4l3 0.1l1.4-0.5l0.1-1l0-57.9l-0.3-1l-1.1-1l0.1-38.9l-0.2-1l-3-0.2zM168.5 76.9l-0.1 46.9l0.5 1.4l1.4-0.4l0.1-46.9l-0.5-1.4l-1 0zM150.5 105.8l-0.1 30l0.5 1.4l1.4-0.4l0.1-30l-0.5-1.3l-1 0zM118.9 0.5l2-0.3l1.5 0.8l0 4l-0.5 1.2l-3.2-0.2l-0.3-5zM164.9 11.9l1.2 0.1l0.8 1l0 5l-1 1l-1.2 0l-0.8-0.8l-0.1-5.2l0.9-1zM61 74.7l0.3 1.2l0.1 7l1 1l0.1 7l0.9 1l0.1 1l0 42.9l-0.5 1.4l-3 0.1l-2.4-0.5l-0.1-3l1-3l0-34.9l0.1-1l0.8-1l0.2-9l1-2l0.1-8zM70.9 75.6l1.5 1.3l0.1 2l1.9 3l0.1 2l0.9 1l0 1l0 49.9l-0.5 1.4l-2 0.1l-3.9-0.1l-0.5-1.4l0-50.9l0-1l0.9-1l0.1-3l0.9-1l0.3-3z"/>
<path fill="#F3F2B8" d="M22 0l2.2 0l-0.2 3.6l-0.4 0.4l-1.7 0l-0.1-4zM69 0.7l2.9-0.2l0.8 0.5l0.2 2.3l1.4 0.7l0.1 9l-0.5 1.4l-3 0.1l-1.1-0.5l-0.1-9l-1-1l0-3zM80.9 0.8l5.3 0.2l0.2 7l-0.5 1.4l-3 0.1l-1.2-0.5l-0.3-3l-0.9-1l0.2-4zM119.9 0.6l2 0.5l0.1 3.9l-1.1 1l-1.2 0l-0.8-0.7l0-4.3zM171.9 0.6l1.1-0.6l7.2 0l1.3 1l-0.7 6l-1.9 1.3l-4 0.4l-0.5 1.3l0.1 5l4.4 0.9l0.5 1.1l0 16l-1 2.9l0 22l-1 3l0 9l0.9 1l0.1 2l-1 3l0 16l-1 3l-0.1 9.9l0 10l-0.4 1.3l-0.4-1.3l0-10.9l-1.1-3l0-18l-1-3l0-9l-1.9-1l-0.1-1l0.1-67.9zM189.9 0.8l2-0.4l15-0.2l2.5 0.8l0.1 22l0.3 0.4l4 0.1l2-0.5l0.6-8l1.9-1l0-3l-0.5-0.7l-1.1-0.3l-1.8-7l-0.2-2l1.1-0.8l14 0l0.8 0.8l0 3l1.2 0.3l1.2-0.3l0-3l0.8-0.8l20.3-0.2l3.7 0.5l0.6 0.5l0 3l0.4 0.4l1.4-0.4l0.1-3l0.5-0.5l10-0.2l0.7 0.7l0 4l1.3 0.3l2.2-0.3l0-4l0.8-0.8l3 0l1 0.4l0 69.8l-4 0l-0.5 0.5l0 25l-1 3l-0.1 18.9l-0.9 1l-0.3 2l-0.4 0l-0.4-6l-0.8-1l-0.2-5l-0.8-1l-0.2-4.9l-0.8-1l-0.2-4l-0.8-1l-0.2-4l-0.8-1l-0.2-4l-1.4-1.3l-0.6 3.3l-1.4 1.2l-0.3-0.2l-0.3-3l-0.8-1l-0.2-3l-0.8-1l-0.2-8l-0.8-1l-0.2-3l-2.9-1l0-25l-0.5-1.1l-2 0.9l-0.7-0.8l-0.3-2l-0.9-1l-0.1-1.5l-0.5 3.5l0 27l-0.9 1l-0.2 8l-0.8 1l-0.1 1l0 14l-0.1 1l-0.8 1l-0.1 6l-0.1 4.9l-0.9 1l-0.1 1l0 7l-0.1 1l-0.5 0l-0.2-8l-0.1-1l-0.9-1l-0.2-8.9l-0.8-1l-0.1-1l0-12l-0.1-1l-0.8-1l-0.1-11l-0.5-1.4l-2 0l-1.4 2.4l-0.2 7l-6.8 13l-0.2 3l-0.9 1l-0.5 4.2l-0.6-6.2l-0.8-1l-0.1-1l0-12l-0.1-1l-0.8-1l-0.2-8l-1.4-0.5l-2 0.1l-1.4 1.4l-0.3 12l-0.5 0l-1.2-2l-1.6-4.4l-1.3 0.4l-0.3 2l-0.9 1l-0.2 2l-0.5 0l-0.3-6l-0.8-1l-0.2-5l-1.5-1l-0.1-1l-0.1-38.9l-0.8-0.8l-4 0l-0.7 0.8l-0.1 1l0 39.9l-0.7 2l0 27l-1 3l-0.1 15.9l-0.1 1l-0.5 0l-0.1-15.9l-1.1-3l-0.2-74.9l-2.3-0.9l-13-0.1l-1-0.8l-0.4-11.2l0.4-12zM268.4 28l0 41.9l2.4 0.5l4 0l0.5-0.5l-0.2-38.9l-1.3-3.2l-5-0.2zM49 6.6l3-0.1l1.4 0.5l0.1 5l-0.5 2.4l-3 0.1l-1.4-0.5l0-7zM94.9 13.6l2 0l0.4 0.4l0 3l-0.4 0.4l-2 0l-0.4-0.4l0-3zM139.9 13.8l9 0l0.4 3.2l-0.3 21.9l0.1 1l1.1 2l0.2 2l0 25l-0.5 1.4l-5 0.2l-0.5 0.4l-0.1 2l-0.8 1l-0.1 7l-0.1 3l-1 2l-0.4 0.4l-1.3-0.4l-0.2-13l-1-4l0-17l-0.9-3l0-17.9l0.1-1l0.7-1l0.5-15zM143.5 25l0 30.9l1.4 0.5l2.4-0.5l0.1-29.9l-0.5-1.1l-3-0.3zM128.9 16.8l2.6 0.2l0.5 2l0.9 0.9l2.6 0.1l0.9 1l0 18.9l-0.1 1l-0.8 1l-0.1 7l-0.1 1l-0.8 1l-0.1 7l-0.1 1l-0.8 1l-0.2 7l-1.4 0.5l-3-0.1l-0.5-1.4l0-11l-1-3l0-23.9l-1-3l1.9-8zM48 20.6l3-0.1l1.4 0.5l0.1 5l-0.5 1.3l-3 0.2l-1.4-0.5l0-6zM102.9 21.6l5-0.1l1.4 0.5l0.1 16.9l-1 3l-0.1 6l-0.8 1l-0.2 7l-0.1 1l-0.5 0l-0.3-6l-0.9-1l-0.2-5l-0.8-1l-0.2-7l-0.9-1.9l-0.1-7l-0.8-1l-0.1-1l0.1-4zM115.9 37.6l2 0l0.5 1.3l0 15l-0.1 1l-0.9 1l-0.2 6l-0.5 0l-0.2-1l-0.2-7l-0.8-1l-0.1-1l0.1-14z"/>
<path fill="#F0A773" d="M23 0l0.7 0l-0.2 3l-0.5 0.6l-0.7-0.6l0-3zM70.9 0.9l1 0.3l0.2 0.8l-0.2 0.7l-1 0.5l-1.3-1.2l0.5-1zM119.9 0.9l1.1 0.1l-0.1 4.2l-1.2-0.2l0.1-4zM172.9 0.3l7-0.2l1.2 0.9l-0.5 6l-1.7 0.9l-4 0.3l-0.9 0.8l0 6l0.9 0.9l2 0.2l0.5 0.9l-0.1 2l-2.4 0.5l-2-0.1l-0.3-0.4l-0.6-18zM190.9 0.9l16-0.3l1.3 0.4l-0.1 23l-1.2 0.3l-1.3-0.3l-0.3-9l0-7l-0.4-0.4l-3-0.1l-0.5 1.5l-0.1 6l-2.2 4l-0.2 0.2l-1-0.7l-6.4-8.5l-0.2-6l-0.8-1l-0.1-1l0.3-1zM215.8 0.5l5 0.3l9-0.2l0.4 0.4l0 3l0.6 0.6l1 0.1l1-0.1l0.6-0.6l0.1-3l0.3-0.4l20-0.3l4 0.7l0.1 3l0.9 0.9l1 0l0.9-0.9l0.2-3l9.9-0.1l0.1 4.1l1.9 0.7l2-0.1l0.6-0.6l0-4l0.4-0.4l3 0l0.8 0.4l0.2 18.4l-0.5 1.6l0 10l-0.5 1.2l-2-0.8l-2-2.4l-0.5-2l-0.9-1l-0.2-3l-2.3-4l-0.8-13l-0.3-0.4l-0.3 0.4l-0.3 4l-0.8 1l-0.2 4l-0.8 1l-0.2 4l-0.8 1l-0.1 17.9l-0.1 1l-0.8 1l-0.1 8l-0.1 1l-0.8 1l-0.2 9l-1.4 0.5l-1.4-0.5l-0.2-4l-0.8-1l-0.2-5l-0.8-1l-0.2-5l-1.4-1.4l-2 0.6l-1 0.3l-0.2-1.5l-0.8-1l-0.2-2l-0.9-1l-0.3-2.9l-1.1-1l-0.2-2l-0.5 0l-0.3 21.9l-1 3l0 11l-0.5 1.5l-1 0l-1.4-1.5l-0.1-9l-0.1-1l-0.8-1l-0.1-10l-0.1-1l-0.8-1l-0.2-6l-1.8-3l-0.2-1.9l-1-2l-1.4-1.3l-2 3.3l-0.2 2.9l-0.8 1l-0.2 3l-0.8 1l-0.2 2l-1.2 2l-0.2 7l-0.8 1l-0.1 7l-0.1 1l-0.8 1l-0.2 6l-1.4 0.6l-1.4-0.6l-0.1-7l-0.1-1l-0.8-1l-0.3-9l-0.3-0.2l-3 1.5l-3-3.7l-3-0.2l-0.3-0.4l-0.2-4l-0.9-1l-0.1-1l0-14.9l-0.9-3l0.3-2l0.6-1l0.1-5l1.4-2l0.1-2l-0.6-5l-1.5-0.1l-0.6-0.9l-0.2-2l-0.8-1l0-2zM51 8.6l1.3 0.4l-0.3 3.4l-1.4-0.4l0-3zM145.9 16.6l2-0.1l0.7 0.5l0.3 4l-0.3 3l-0.7 0.4l-1-0.3l-1.4-1.1l0-6zM105.9 23.6l1 0l0.5 1.4l0 14.9l-0.5 1.4l-1 0l-0.4-1.4l0-15.9zM140.9 35.6l1 0l0.4 1.3l0 9l-0.4 1.4l-1.3-0.4l0-11zM230.8 70.4l1 0l0.4 0.5l0.1 2l-0.5 1.3l-1.3-1.3l0-2zM246.8 70.6l2-0.2l0.5 1.5l0 5l-0.1 1l-0.9 1l-0.2 7l-0.5 0l-0.2-1l-0.2-13l-0.7-1z"/>
<path fill="#F27457" d="M172.9 0.5l6-0.3l1.9 0.8l-0.2 5l-0.7 1.4l-7 0.5l-0.6-0.9l0-6zM206.9 1l0.3 2l-0.3 4.1l-0.4-1.1l0.3-5zM215.8 0.8l3.6 0.2l0.1 5l-0.7 0.4l-2.2-0.4l-0.2-2l-0.8-1l0-2zM223.8 0.9l5.8 0.1l0.2 3l1 1l1 0.1l1-0.1l1-1l0.3-3l10.7-0.4l11 0.3l0.5 1.1l0.1 5l0.4 0.4l7 0.1l1.4 0.5l0 11l-0.7 1l-0.2 4l-0.5 1l-1.5 9l-0.5 0.4l-1-0.8l-0.7-1.6l-1.7-2l-0.2-5l-0.8-1l-0.6-6.2l-1-2.3l-0.6 6.5l-0.8 1l-1.2 5l-1.4 1.4l-1 0.1l-2 0.3l-1.5-1.8l-0.2-2l-1.7-3l-0.2-2l-0.8-1l-0.6-4.6l-1-2.4l-0.4 2l-0.2 10l-2.8 3l-1 2l-0.5 3l-0.8 1l-0.3 2.9l-0.8 1l-0.2 3l-0.8 1l-0.1 2l-3.1 3l-0.2 2l-0.8 0.7l-0.7-0.7l-0.2-5l-0.9-1l-0.1-8.9l-4.5-5l-2.1-6l0-20l0.1-1l1.1-1zM276.8 0.9l2.1 0.1l0.2 7l0.6 3l-0.3 8l-0.6 0.8l-5 0.1l-2.4-0.9l-0.4-10l0.8-2.8l3-0.2l1-1l0.3-4zM206.9 12.8l0.3 2.2l-0.3 2.2l-0.2-4.2zM146.9 18.6l1.2 0.4l-0.2 3.2l-1.3-1.2l0-2z"/>
<path fill="#FF3E42" d="M172.9 0.8l6-0.4l1.6 0.6l-0.1 5l-0.5 1.2l-7 0.2l-0.4-1.4l0.1-5zM216.8 1l1.2 0l0.9 1l0 3l-0.8 1l-1.3-0.8l-0.9-3.2l0.9-1zM243.8 0.9l10.3 0.1l0.1 19l-3.8 3l-0.6 2.5l-0.5 0.5l-0.5 3l-0.3-3l-1-2l-0.3-2l-2.2-3l-0.1-2l-1.4-5l0.1-11zM228.8 8.6l6-0.1l0.9 1.5l-0.1 15l-1 1l-0.3 1l-0.1 7l-0.8 1l-0.2 4.9l-0.8 1l-0.1 3l-0.4 2l-1.1 0.9l-0.2-2.9l-0.8-1l-0.1-1l-0.1-7.9l-0.4-3l-0.8-1l-0.1-1l0.1-20zM256.8 8.7l5-0.2l1.4 0.5l0 15l-1.3 9l-0.5-2l-1-1l-0.2-4l-0.7-1l-0.3-2l-0.7-1l-0.2-2l-0.7-1l-0.5-6l-0.7-1l0.1-3zM271.8 8.7l7-0.1l0.5 3.4l-0.5 7.1l-6 0.1l-1-0.6l-0.1-9.6zM223.8 16.6l3 0l0.5 0.4l0.1 5l-0.6 1.4l-2 0.1l-1.3-0.5l0-6z"/>
<path fill="#DC2633" d="M173.9 0.7l6.4 0.3l-0.1 5l-0.3 0.9l-1 0.2l-5.6-0.1l-0.5-1l0.1-5zM245.8 5.6l4-0.1l1.4 0.5l0.1 12l-0.5 1.4l-4 0l-1.1-0.4l-0.3-13zM229.8 9.7l4-0.1l1.2 0.4l-0.2 15l-4 0.5l-1.3-0.5l0-15zM257.8 9.7l3-0.1l1.3 0.4l0.1 6l-0.4 1.4l-4-0.1l-0.3-7.3zM272.8 9.7l6 0.1l0 6.5l-6 0.1l-0.4-1.4l0.1-5z"/>
<path fill="#A61A28" d="M173.9 0.9l6.1 0.1l-0.1 5.3l-6 0.2l-0.6-1.5l0.2-4zM247.8 8.3l1 0l0.7 0.7l0 3l-0.7 0.7l-1 0l-0.7-0.7l0-3zM230.8 11.3l2 0l0.8 0.7l0 5l-0.8 0.7l-2 0l-0.6-0.7l0-5z"/>
</g>
<rect x="0" y="0" width="279.80" height="139.80" fill="none" stroke="#666" stroke-width="1"/>
<path d="M0.00 139.80v7M0.00 0v-7M41.31 139.80v7M41.31 0v-7M82.62 139.80v7M82.62 0v-7M123.93 139.80v7M123.93 0v-7M165.24 139.80v7M165.24 0v-7M206.55 139.80v7M206.55 0v-7M247.86 139.80v7M247.86 0v-7M0 0.00h-7M279.80 0.00h7M0 27.96h-7M279.80 27.96h7M0 55.92h-7M279.80 55.92h7M0 83.88h-7M279.80 83.88h7M0 111.84h-7M279.80 111.84h7M0 139.80h-7M279.80 139.80h7" stroke="#8c8c8c" stroke-width="1" fill="none"/>
<path d="M13.77 139.80v3.5M13.77 0v-3.5M27.54 139.80v3.5M27.54 0v-3.5M55.08 139.80v3.5M55.08 0v-3.5M68.85 139.80v3.5M68.85 0v-3.5M96.39 139.80v3.5M96.39 0v-3.5M110.16 139.80v3.5M110.16 0v-3.5M137.70 139.80v3.5M137.70 0v-3.5M151.47 139.80v3.5M151.47 0v-3.5M179.01 139.80v3.5M179.01 0v-3.5M192.78 139.80v3.5M192.78 0v-3.5M220.32 139.80v3.5M220.32 0v-3.5M234.09 139.80v3.5M234.09 0v-3.5M261.63 139.80v3.5M261.63 0v-3.5M275.40 139.80v3.5M275.40 0v-3.5M0 6.99h-3.5M279.80 6.99h3.5M0 13.98h-3.5M279.80 13.98h3.5M0 20.97h-3.5M279.80 20.97h3.5M0 34.95h-3.5M279.80 34.95h3.5M0 41.94h-3.5M279.80 41.94h3.5M0 48.93h-3.5M279.80 48.93h3.5M0 62.91h-3.5M279.80 62.91h3.5M0 69.90h-3.5M279.80 69.90h3.5M0 76.89h-3.5M279.80 76.89h3.5M0 90.87h-3.5M279.80 90.87h3.5M0 97.86h-3.5M279.80 97.86h3.5M0 104.85h-3.5M279.80 104.85h3.5M0 118.83h-3.5M279.80 118.83h3.5M0 125.82h-3.5M279.80 125.82h3.5M0 132.81h-3.5M279.80 132.81h3.5" stroke="#a8a8a8" stroke-width="1" fill="none"/>
<text x="0.00" y="161.00" text-anchor="middle" font-size="9.7">2004</text>
<text x="41.31" y="161.00" text-anchor="middle" font-size="9.7">2007</text>
<text x="82.62" y="161.00" text-anchor="middle" font-size="9.7">2010</text>
<text x="123.93" y="161.00" text-anchor="middle" font-size="9.7">2013</text>
<text x="165.24" y="161.00" text-anchor="middle" font-size="9.7">2016</text>
<text x="206.55" y="161.00" text-anchor="middle" font-size="9.7">2019</text>
<text x="247.86" y="161.00" text-anchor="middle" font-size="9.7">2022</text>
<text x="-13.5" y="3.40" text-anchor="end" font-size="9.5">0</text>
<text x="-13.5" y="31.36" text-anchor="end" font-size="9.5">200</text>
<text x="-13.5" y="59.32" text-anchor="end" font-size="9.5">400</text>
<text x="-13.5" y="87.28" text-anchor="end" font-size="9.5">600</text>
<text x="-13.5" y="115.24" text-anchor="end" font-size="9.5">800</text>
<text x="-13.5" y="143.20" text-anchor="end" font-size="9.5">1000</text>
<text transform="translate(-42.4 69.90) rotate(-90)" text-anchor="middle" font-size="9.3">Depth (m)</text>
<text x="139.90" y="-15.5" text-anchor="middle" font-size="11.5">(f) Western Pacific Ocean 50-65<tspan font-size="7.5" dy="-4.4">o</tspan><tspan dy="4.4">S Temperature Anomaly</tspan></text>
</g>
<rect x="20.90" y="597.30" width="45.70" height="14.30" fill="#3A00FF"/>
<rect x="66.30" y="597.30" width="45.70" height="14.30" fill="#2605FF"/>
<rect x="111.70" y="597.30" width="45.70" height="14.30" fill="#5A91FF"/>
<rect x="157.10" y="597.30" width="45.70" height="14.30" fill="#6EB9FF"/>
<rect x="202.50" y="597.30" width="45.70" height="14.30" fill="#8AE1FF"/>
<rect x="247.90" y="597.30" width="45.70" height="14.30" fill="#C2FFFF"/>
<rect x="293.30" y="597.30" width="45.70" height="14.30" fill="#E6FFFF"/>
<rect x="338.70" y="597.30" width="45.70" height="14.30" fill="#F8FFE8"/>
<rect x="384.10" y="597.30" width="45.70" height="14.30" fill="#F3F2B8"/>
<rect x="429.50" y="597.30" width="45.70" height="14.30" fill="#F0A773"/>
<rect x="474.90" y="597.30" width="45.70" height="14.30" fill="#F27457"/>
<rect x="520.30" y="597.30" width="45.70" height="14.30" fill="#FF3E42"/>
<rect x="565.70" y="597.30" width="45.70" height="14.30" fill="#DC2633"/>
<rect x="611.10" y="597.30" width="45.70" height="14.30" fill="#A61A28"/>
<path d="M66.30 597.30v14.30M111.70 597.30v14.30M157.10 597.30v14.30M202.50 597.30v14.30M247.90 597.30v14.30M293.30 597.30v14.30M338.70 597.30v14.30M384.10 597.30v14.30M429.50 597.30v14.30M474.90 597.30v14.30M520.30 597.30v14.30M565.70 597.30v14.30M611.10 597.30v14.30" stroke="#555" stroke-width="0.6" fill="none"/>
<rect x="20.90" y="597.30" width="635.60" height="14.30" fill="none" stroke="#777" stroke-width="0.6"/>
<text x="66.30" y="624.9" text-anchor="middle" font-size="11.9">-0.3</text>
<text x="111.70" y="624.9" text-anchor="middle" font-size="11.9">-0.25</text>
<text x="157.10" y="624.9" text-anchor="middle" font-size="11.9">-0.2</text>
<text x="202.50" y="624.9" text-anchor="middle" font-size="11.9">-0.15</text>
<text x="247.90" y="624.9" text-anchor="middle" font-size="11.9">-0.1</text>
<text x="293.30" y="624.9" text-anchor="middle" font-size="11.9">-0.05</text>
<text x="338.70" y="624.9" text-anchor="middle" font-size="11.9">0</text>
<text x="384.10" y="624.9" text-anchor="middle" font-size="11.9">0.05</text>
<text x="429.50" y="624.9" text-anchor="middle" font-size="11.9">0.1</text>
<text x="474.90" y="624.9" text-anchor="middle" font-size="11.9">0.15</text>
<text x="520.30" y="624.9" text-anchor="middle" font-size="11.9">0.2</text>
<text x="565.70" y="624.9" text-anchor="middle" font-size="11.9">0.25</text>
<text x="611.10" y="624.9" text-anchor="middle" font-size="11.9">0.3</text>
<text x="670.4" y="613.4" font-size="13.3"><tspan font-size="7.8" dy="-6.3">o</tspan><tspan dy="6.3">C</tspan></text>
<line x1="267.85" y1="673.20" x2="267.85" y2="861.20" stroke="#999" stroke-width="1"/>
<rect x="173.90" y="673.20" width="375.80" height="188.00" fill="none" stroke="#9a9a9a" stroke-width="1.2"/>
<path d="M173.90 861.20v9M173.90 673.20v-9M267.85 861.20v9M267.85 673.20v-9M361.80 861.20v9M361.80 673.20v-9M455.75 861.20v9M455.75 673.20v-9M549.70 861.20v9M549.70 673.20v-9M173.90 673.20h-9.5M549.70 673.20h9.5M173.90 710.80h-9.5M549.70 710.80h9.5M173.90 748.40h-9.5M549.70 748.40h9.5M173.90 786.00h-9.5M549.70 786.00h9.5M173.90 823.60h-9.5M549.70 823.60h9.5M173.90 861.20h-9.5M549.70 861.20h9.5" stroke="#9a9a9a" stroke-width="1.1" fill="none"/>
<path d="M197.39 861.20v5M197.39 673.20v-5M220.88 861.20v5M220.88 673.20v-5M244.36 861.20v5M244.36 673.20v-5M291.34 861.20v5M291.34 673.20v-5M314.83 861.20v5M314.83 673.20v-5M338.31 861.20v5M338.31 673.20v-5M385.29 861.20v5M385.29 673.20v-5M408.78 861.20v5M408.78 673.20v-5M432.26 861.20v5M432.26 673.20v-5M479.24 861.20v5M479.24 673.20v-5M502.73 861.20v5M502.73 673.20v-5M526.21 861.20v5M526.21 673.20v-5M173.90 682.60h-5M549.70 682.60h5M173.90 692.00h-5M549.70 692.00h5M173.90 701.40h-5M549.70 701.40h5M173.90 720.20h-5M549.70 720.20h5M173.90 729.60h-5M549.70 729.60h5M173.90 739.00h-5M549.70 739.00h5M173.90 757.80h-5M549.70 757.80h5M173.90 767.20h-5M549.70 767.20h5M173.90 776.60h-5M549.70 776.60h5M173.90 795.40h-5M549.70 795.40h5M173.90 804.80h-5M549.70 804.80h5M173.90 814.20h-5M549.70 814.20h5M173.90 833.00h-5M549.70 833.00h5M173.90 842.40h-5M549.70 842.40h5M173.90 851.80h-5M549.70 851.80h5" stroke="#a5a5a5" stroke-width="1" fill="none"/>
<text x="173.90" y="882" text-anchor="middle" font-size="7.6">-0.20</text>
<text x="267.85" y="882" text-anchor="middle" font-size="7.6">0.00</text>
<text x="361.80" y="882" text-anchor="middle" font-size="7.6">0.20</text>
<text x="455.75" y="882" text-anchor="middle" font-size="7.6">0.40</text>
<text x="549.70" y="882" text-anchor="middle" font-size="7.6">0.60</text>
<text x="158.5" y="676.30" text-anchor="end" font-size="8.6">0</text>
<text x="158.5" y="713.90" text-anchor="end" font-size="8.6">200</text>
<text x="158.5" y="751.50" text-anchor="end" font-size="8.6">400</text>
<text x="158.5" y="789.10" text-anchor="end" font-size="8.6">600</text>
<text x="158.5" y="826.70" text-anchor="end" font-size="8.6">800</text>
<text x="158.5" y="864.30" text-anchor="end" font-size="8.6">1000</text>
<text transform="translate(127.7 767.20) rotate(-90)" text-anchor="middle" font-size="12.6">Depth (m)</text>
<text x="361.80" y="654" text-anchor="middle" font-size="13">(g) 50-65<tspan font-size="7.5" dy="-5.5">o</tspan><tspan dy="5.5">S Temperature Trend</tspan></text>
<text x="352" y="899.5" text-anchor="middle" font-size="12.5">Trend (<tspan font-size="7.5" dy="-5.5">o</tspan><tspan dy="5.5">C/decade)</tspan></text>
<path d="M373.4,675.2 378.0,678.2 398.4,681.1 427.6,685.5 439.3,687.9 427.6,689.9 398.4,692.8 380.9,695.7 375.0,700.1 374.1,701.7 373.4,705.0 366.2,707.6 349.1,712.8 333.4,718.1 322.8,722.0" fill="none" stroke="#F0A030" stroke-width="2" stroke-linejoin="round"/>
<path d="M322.8,722.0 318.0,724.2 313.6,726.6 310.2,730.3 302.3,735.5 295.7,743.4 291.8,751.3 289.2,759.2 286.5,769.7 282.6,781.5 279.3,794.6 277.3,805.8 274.7,825.5 272.7,842.6 272.1,855.7" fill="none" stroke="#F0A030" stroke-width="2" stroke-linejoin="round" stroke-dasharray="8 5"/>
<path d="M325.0,675.8 330.5,678.2 333.6,681.3 332.6,684.4 337.7,687.4 340.6,688.5" fill="none" stroke="#B01EFF" stroke-width="2" stroke-linejoin="round" stroke-dasharray="8 5"/>
<path d="M340.6,688.5 355.7,690.5 368.8,693.1 377.4,695.8 374.1,698.4 355.7,702.3 336.0,705.6 322.8,710.2 320.2,714.2 321.5,718.1 319.4,725.0 314.1,731.6 308.9,739.5 306.2,747.3 305.6,753.9 302.3,761.8 299.0,771.0 296.4,781.5 295.1,790.7 294.4,799.9 294.4,809.7 291.8,829.4 290.5,842.6 290.2,857.7" fill="none" stroke="#B01EFF" stroke-width="2" stroke-linejoin="round"/>
<path d="M513.7,674.4 513.7,678.2 506.4,681.1 471.4,684.1 439.3,687.9 410.0,690.8" fill="none" stroke="#1E6E14" stroke-width="2" stroke-linejoin="round"/>
<path d="M410.0,690.8 380.0,692.5 363.6,694.5 345.2,697.1 333.4,699.7 320.0,702.8" fill="none" stroke="#1E6E14" stroke-width="2" stroke-linejoin="round" stroke-dasharray="8 5"/>
<path d="M320.0,702.8 305.8,709.6 299.2,716.1 294.4,725.0 290.5,730.3 287.8,738.1 285.2,742.1 281.3,747.3 279.3,753.9 278.0,763.1 275.4,773.6" fill="none" stroke="#1E6E14" stroke-width="2" stroke-linejoin="round"/>
<path d="M275.4,773.6 272.1,781.5 269.5,790.7 268.8,798.6 268.1,809.7 267.7,829.4 267.7,842.6 268.1,855.7" fill="none" stroke="#1E6E14" stroke-width="2" stroke-linejoin="round" stroke-dasharray="8 5"/>
<path d="M197.2,675.2 203.1,678.2 213.6,681.1 229.4,683.5 245.2,685.1 263.6,687.1 280.0,688.8 292.6,689.9 300.5,691.2 307.1,693.1 311.7,695.8 305.8,700.4 297.9,703.7 290.0,706.9 280.0,711.4 271.5,719.2 263.6,725.2 257.6,729.2 251.0,737.0 247.4,743.8 243.0,758.4 241.5,764.4 241.0,777.5 245.9,792.1 250.5,805.0 254.7,818.4 258.9,838.6 263.5,853.1 264.5,857.5" fill="none" stroke="#FF0000" stroke-width="2" stroke-linejoin="round" stroke-dasharray="8 5"/>
<path d="M293.7,675.2 292.3,678.2 293.7,681.3 297.9,685.3 304.5,687.2 311.0,690.5 308.4,693.1 297.9,695.1 280.0,697.6 268.8,699.3 251.8,703.5 254.4,707.4 261.6,711.4 268.8,716.6 274.4,723.5 278.0,731.6 282.6,738.1 285.9,741.4 290.5,747.3 291.8,753.9 293.1,764.4 292.4,772.3 291.1,781.5 289.4,790.7 288.3,799.0" fill="none" stroke="#0000FF" stroke-width="2" stroke-linejoin="round" stroke-dasharray="8 5"/>
<path d="M288.3,799.0 287.8,803.1 288.9,811.0 288.1,829.4 288.9,842.6 288.9,857.7" fill="none" stroke="#0000FF" stroke-width="2" stroke-linejoin="round"/>
<path d="M347.5,675.2 348.9,678.2 352.5,679.8 357.0,682.0 361.5,685.0 362.3,686.8 361.6,688.5" fill="none" stroke="#000000" stroke-width="2" stroke-linejoin="round" stroke-dasharray="8 5"/>
<path d="M361.6,688.5 358.3,691.2 349.1,693.8 336.0,697.7 322.8,701.7 312.3,705.6 304.5,710.9 300.5,716.8 295.3,723.4 291.3,728.6 288.2,733.8" fill="none" stroke="#000000" stroke-width="2" stroke-linejoin="round"/>
<path d="M288.2,733.8 284.6,742.1 283.2,750.0 281.3,763.1 278.7,774.9 277.3,784.1 276.0,794.6 275.8,803.1 276.0,822.8 275.8,830.7" fill="none" stroke="#000000" stroke-width="2" stroke-linejoin="round" stroke-dasharray="8 5"/>
<path d="M275.8,830.7 276.3,845.2 277.3,857.7" fill="none" stroke="#000000" stroke-width="2" stroke-linejoin="round"/>
<line x1="345.6" y1="763.30" x2="373.7" y2="763.30" stroke="#000000" stroke-width="2"/>
<text x="379.3" y="766.90" font-size="10.2">Southern Ocean</text>
<line x1="345.6" y1="777.70" x2="373.7" y2="777.70" stroke="#0000FF" stroke-width="2"/>
<text x="379.3" y="781.30" font-size="10.2">Ross Sea</text>
<line x1="345.6" y1="792.10" x2="373.7" y2="792.10" stroke="#FF0000" stroke-width="2"/>
<text x="379.3" y="795.70" font-size="10.2">Amundsen-Bellingshausen Seas</text>
<line x1="345.6" y1="806.50" x2="373.7" y2="806.50" stroke="#1E6E14" stroke-width="2"/>
<text x="379.3" y="810.10" font-size="10.2">Weddell Sea</text>
<line x1="345.6" y1="820.90" x2="373.7" y2="820.90" stroke="#B01EFF" stroke-width="2"/>
<text x="379.3" y="824.50" font-size="10.2">Indian Ocean</text>
<line x1="345.6" y1="835.30" x2="373.7" y2="835.30" stroke="#F0A030" stroke-width="2"/>
<text x="379.3" y="838.90" font-size="10.2">Western Pacific Ocean</text>
</svg></body></html>
